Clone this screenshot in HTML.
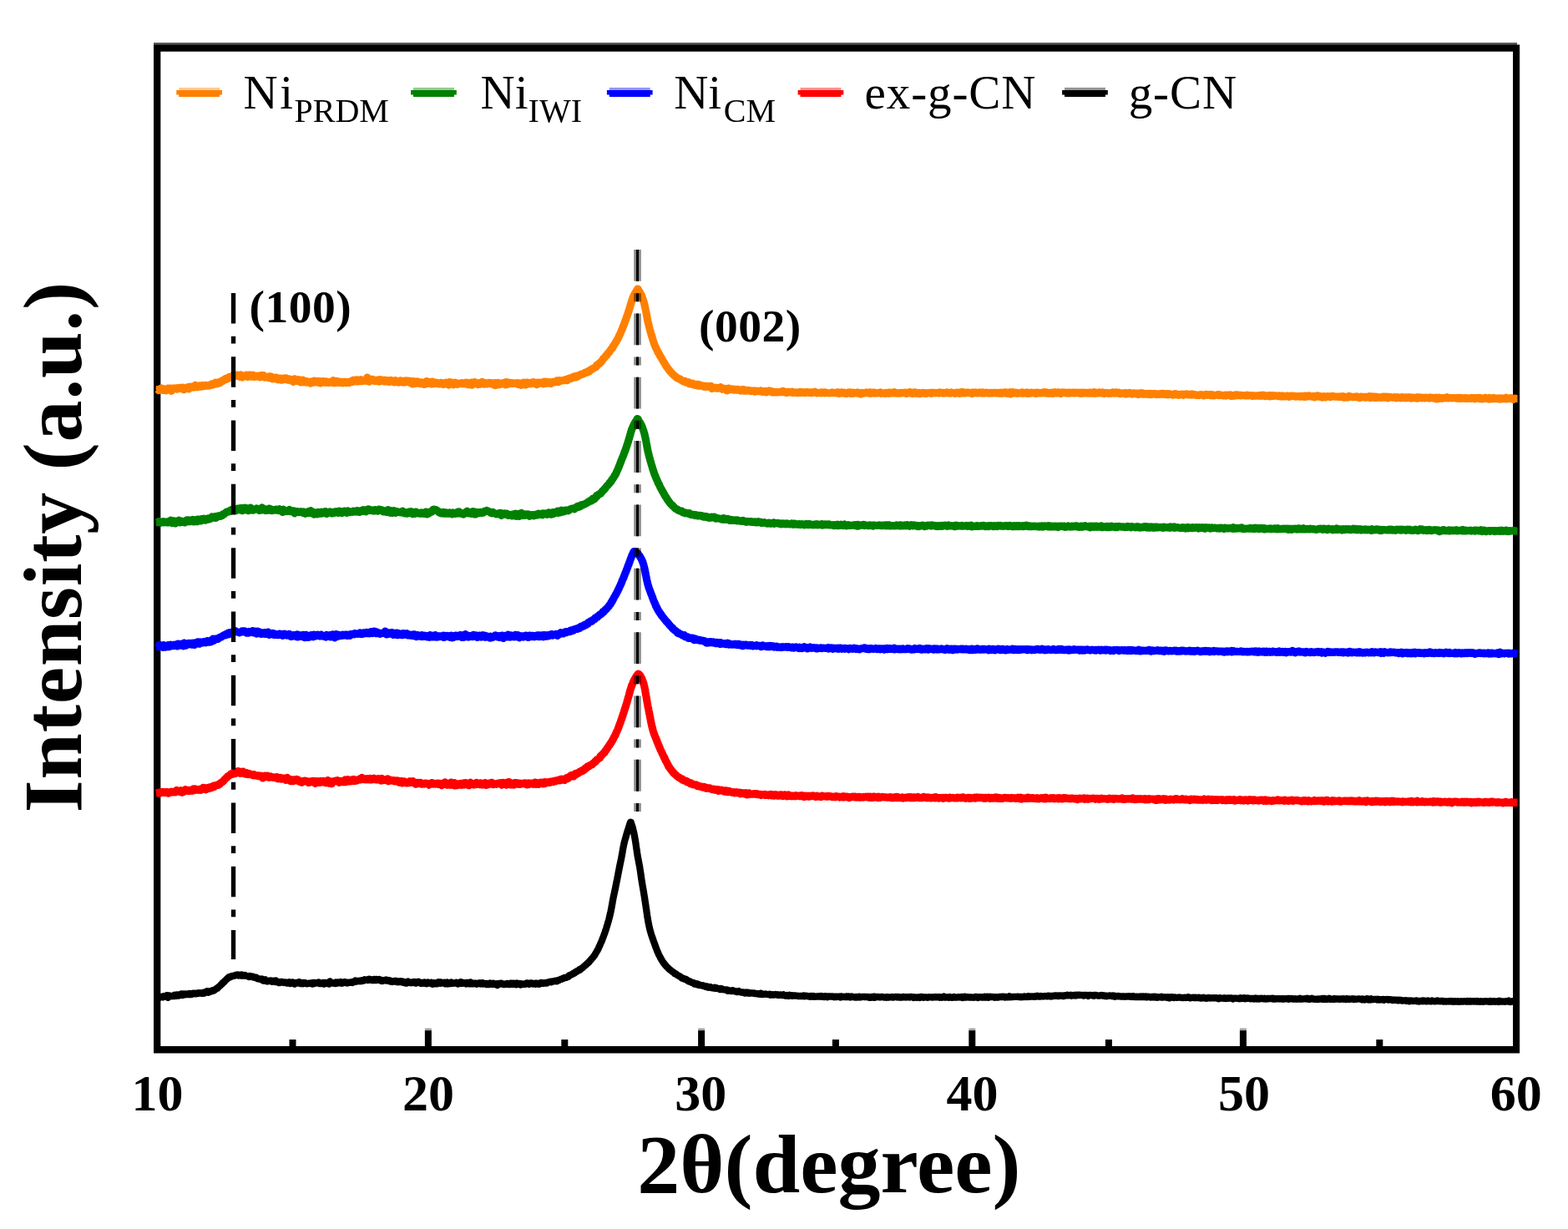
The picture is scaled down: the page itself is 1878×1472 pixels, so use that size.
<!DOCTYPE html>
<html lang="en"><head><meta charset="utf-8"><title>XRD patterns</title>
<style>
html,body{margin:0;padding:0;background:#fff;}
body{width:1878px;height:1472px;overflow:hidden;}
svg{display:block;}
text{font-family:"Liberation Serif","Times New Roman",serif;fill:#000;}
.b{font-weight:bold;}
.lg{font-size:57px;}
.sub{font-size:40px;}
.tk{font-size:62px;font-weight:bold;text-anchor:middle;}
.ann{font-size:55.5px;font-weight:bold;letter-spacing:0.5px;}
.ttl{font-size:100px;font-weight:bold;}
</style></head><body>
<svg width="1878" height="1472" viewBox="0 0 1878 1472" role="img" aria-label="XRD patterns of Ni PRDM, Ni IWI, Ni CM, ex-g-CN and g-CN">
<rect x="0" y="0" width="1878" height="1472" fill="#ffffff"/>
<rect x="184.05" y="51.0" width="1633" height="3" fill="#5a5a5a"/>
<path fill="#000" fill-rule="evenodd" d="M184.05,53.6H1820.1V1261.4H184.05Z M192.35,61.7V1253.0H1812.0V61.7Z"/>
<g fill="#000">
<rect x="346.50" y="1245.1" width="8.0" height="9"/>
<rect x="508.85" y="1231.5" width="8.0" height="3.0" fill-opacity="0.35"/>
<rect x="508.85" y="1234.2" width="8.0" height="20"/>
<rect x="672.30" y="1245.1" width="8.0" height="9"/>
<rect x="836.10" y="1231.5" width="8.0" height="3.0" fill-opacity="0.35"/>
<rect x="836.10" y="1234.2" width="8.0" height="20"/>
<rect x="996.90" y="1245.1" width="8.0" height="9"/>
<rect x="1160.30" y="1231.5" width="8.0" height="3.0" fill-opacity="0.35"/>
<rect x="1160.30" y="1234.2" width="8.0" height="20"/>
<rect x="1323.90" y="1245.1" width="8.0" height="9"/>
<rect x="1484.90" y="1231.5" width="8.0" height="3.0" fill-opacity="0.35"/>
<rect x="1484.90" y="1234.2" width="8.0" height="20"/>
<rect x="1648.30" y="1245.1" width="8.0" height="9"/>
</g>
<text class="tk" x="188.5" y="1329.6">10</text>
<text class="tk" x="513.0" y="1329.6">20</text>
<text class="tk" x="839.3" y="1329.6">30</text>
<text class="tk" x="1164.5" y="1329.6">40</text>
<text class="tk" x="1490.0" y="1329.6">50</text>
<text class="tk" x="1815.8" y="1329.6">60</text>
<g fill="none" stroke-linejoin="round" stroke-linecap="butt">
<path d="M186.9,1194.5 L187.7,1194.4 L188.5,1194.4 L189.3,1194.1 L190.1,1193.9 L190.9,1193.6 L191.7,1194.5 L192.5,1194.1 L193.3,1194.2 L194.1,1193.7 L194.9,1194.3 L195.7,1193.3 L196.5,1193.8 L197.3,1193.6 L198.1,1193.4 L198.8,1192.8 L199.6,1192.2 L200.4,1192.1 L201.2,1194.9 L202.0,1192.9 L202.8,1192.4 L203.6,1192.7 L204.4,1192.9 L205.2,1192.8 L206.0,1193.2 L206.8,1192.8 L207.6,1192.8 L208.4,1191.9 L209.2,1193.1 L210.0,1191.9 L210.8,1192.3 L211.6,1192.8 L212.4,1191.3 L213.2,1192.1 L214.0,1192.7 L214.8,1191.4 L215.6,1190.9 L216.4,1191.2 L217.2,1191.8 L218.0,1190.3 L218.8,1192.0 L219.6,1191.6 L220.4,1190.3 L221.1,1191.0 L221.9,1191.3 L222.7,1190.6 L223.5,1191.2 L224.3,1191.1 L225.1,1190.4 L225.9,1190.7 L226.7,1190.1 L227.5,1191.1 L228.3,1190.9 L229.1,1191.1 L229.9,1189.9 L230.7,1190.2 L231.5,1189.7 L232.3,1189.7 L233.1,1190.2 L233.9,1189.7 L234.7,1190.3 L235.5,1189.8 L236.3,1190.1 L237.1,1190.0 L237.9,1189.2 L238.7,1189.6 L239.5,1189.2 L240.3,1189.5 L241.1,1189.9 L241.8,1189.7 L242.6,1188.8 L243.4,1189.6 L244.2,1189.0 L245.0,1189.6 L245.8,1188.2 L246.6,1188.6 L247.4,1188.3 L248.2,1187.1 L249.0,1187.9 L249.7,1188.8 L250.5,1188.3 L251.3,1187.2 L252.1,1187.6 L252.9,1187.4 L253.6,1187.0 L254.4,1186.3 L255.2,1186.8 L255.9,1186.6 L256.6,1186.1 L257.3,1185.2 L258.0,1184.9 L258.6,1184.8 L259.3,1183.9 L259.9,1183.8 L260.5,1183.7 L261.1,1182.6 L261.7,1182.1 L262.3,1181.9 L262.9,1181.2 L263.5,1180.6 L264.1,1180.2 L264.7,1179.4 L265.3,1178.5 L265.9,1178.5 L266.5,1177.9 L267.1,1176.7 L267.7,1176.7 L268.2,1176.2 L268.8,1175.7 L269.3,1174.9 L269.9,1174.3 L270.4,1174.0 L271.0,1173.4 L271.6,1172.5 L272.2,1172.4 L272.8,1171.5 L273.4,1171.0 L274.1,1170.3 L274.8,1170.1 L275.6,1170.5 L276.3,1170.2 L277.1,1169.3 L277.8,1169.1 L278.6,1168.9 L279.3,1168.9 L280.1,1168.8 L280.9,1168.5 L281.7,1168.4 L282.5,1167.8 L283.2,1168.1 L284.0,1168.2 L284.8,1167.4 L285.6,1168.4 L286.4,1167.9 L287.2,1167.7 L288.0,1168.1 L288.8,1168.5 L289.6,1167.4 L290.4,1168.5 L291.2,1167.9 L292.0,1168.4 L292.8,1168.6 L293.6,1168.1 L294.4,1168.7 L295.2,1168.9 L296.0,1169.0 L296.8,1169.4 L297.6,1169.3 L298.3,1170.0 L299.1,1169.2 L299.9,1169.9 L300.7,1169.8 L301.5,1169.4 L302.3,1169.5 L303.1,1169.7 L303.8,1170.6 L304.6,1170.2 L305.4,1170.7 L306.1,1171.1 L306.9,1170.8 L307.7,1171.7 L308.4,1172.2 L309.2,1172.4 L310.0,1172.2 L310.7,1172.4 L311.5,1172.7 L312.3,1173.1 L313.0,1173.4 L313.8,1172.5 L314.6,1173.1 L315.4,1174.7 L316.2,1173.5 L316.9,1173.9 L317.7,1173.4 L318.5,1174.5 L319.3,1175.3 L320.1,1174.7 L320.9,1175.3 L321.7,1175.0 L322.5,1174.6 L323.3,1174.7 L324.1,1174.4 L324.9,1174.7 L325.7,1175.8 L326.5,1175.4 L327.3,1175.6 L328.1,1174.8 L328.8,1175.4 L329.6,1176.0 L330.4,1174.5 L331.2,1176.1 L332.0,1176.3 L332.8,1176.0 L333.6,1177.1 L334.4,1176.4 L335.2,1177.0 L336.0,1176.5 L336.8,1175.9 L337.6,1175.9 L338.4,1176.7 L339.2,1176.5 L340.0,1177.0 L340.8,1176.6 L341.6,1176.4 L342.4,1176.9 L343.2,1177.5 L344.0,1176.6 L344.8,1177.4 L345.6,1177.0 L346.4,1176.4 L347.2,1177.3 L348.0,1178.2 L348.8,1176.6 L349.6,1177.0 L350.4,1176.4 L351.2,1177.7 L352.0,1177.3 L352.8,1178.7 L353.6,1177.4 L354.4,1177.0 L355.2,1177.6 L356.0,1177.0 L356.8,1177.4 L357.6,1177.4 L358.4,1176.1 L359.2,1176.9 L360.0,1178.2 L360.8,1176.9 L361.6,1177.2 L362.4,1178.2 L363.2,1177.8 L364.0,1177.0 L364.8,1177.6 L365.6,1177.3 L366.4,1178.1 L367.2,1178.1 L368.0,1178.4 L368.8,1178.0 L369.6,1177.6 L370.4,1177.9 L371.2,1177.7 L372.0,1177.5 L372.8,1177.8 L373.6,1177.4 L374.4,1178.6 L375.2,1177.4 L376.0,1176.8 L376.8,1178.0 L377.6,1177.3 L378.4,1177.1 L379.2,1177.3 L380.0,1177.4 L380.8,1176.7 L381.6,1176.5 L382.4,1178.0 L383.2,1177.3 L384.0,1178.1 L384.8,1177.9 L385.6,1178.0 L386.4,1177.9 L387.2,1176.9 L388.0,1178.7 L388.8,1177.2 L389.6,1176.9 L390.4,1177.7 L391.2,1177.1 L392.0,1177.5 L392.8,1177.6 L393.6,1178.5 L394.4,1178.5 L395.2,1175.3 L396.0,1177.3 L396.8,1176.9 L397.6,1177.4 L398.4,1177.2 L399.2,1177.5 L400.0,1177.8 L400.8,1177.5 L401.6,1176.5 L402.4,1178.1 L403.2,1177.5 L404.0,1176.4 L404.8,1176.7 L405.6,1177.2 L406.4,1177.4 L407.2,1176.4 L408.0,1176.0 L408.8,1177.6 L409.6,1177.8 L410.4,1177.4 L411.2,1176.7 L412.0,1176.7 L412.8,1176.1 L413.6,1177.1 L414.4,1177.2 L415.2,1176.8 L416.0,1177.4 L416.8,1176.8 L417.6,1177.1 L418.4,1176.6 L419.2,1176.9 L420.0,1176.6 L420.7,1176.4 L421.5,1176.1 L422.3,1177.0 L423.1,1176.0 L423.9,1175.8 L424.7,1176.0 L425.5,1174.5 L426.3,1175.7 L427.1,1175.6 L427.9,1175.2 L428.6,1174.9 L429.4,1174.9 L430.2,1175.3 L431.0,1174.7 L431.8,1175.0 L432.6,1175.2 L433.4,1174.1 L434.2,1174.1 L435.0,1174.4 L435.7,1174.6 L436.5,1173.2 L437.3,1173.9 L438.1,1173.6 L438.9,1173.5 L439.7,1173.4 L440.5,1174.0 L441.3,1173.5 L442.1,1172.7 L442.9,1173.7 L443.7,1173.3 L444.5,1173.2 L445.3,1173.5 L446.1,1174.2 L446.9,1173.6 L447.7,1174.0 L448.5,1172.8 L449.3,1173.5 L450.1,1174.2 L450.9,1172.9 L451.7,1173.6 L452.5,1173.8 L453.3,1173.8 L454.1,1173.0 L454.9,1173.9 L455.7,1174.3 L456.5,1174.7 L457.3,1173.8 L458.1,1175.0 L458.9,1174.8 L459.7,1174.2 L460.5,1174.4 L461.3,1174.2 L462.1,1173.6 L462.9,1174.6 L463.7,1174.7 L464.5,1174.1 L465.3,1174.8 L466.1,1174.4 L466.9,1175.5 L467.7,1174.6 L468.5,1175.0 L469.3,1176.0 L470.1,1175.3 L470.9,1175.6 L471.7,1175.7 L472.5,1175.1 L473.3,1174.7 L474.0,1175.4 L474.8,1176.0 L475.6,1175.2 L476.4,1175.3 L477.2,1176.3 L478.0,1175.6 L478.8,1175.8 L479.6,1175.1 L480.4,1176.1 L481.2,1176.4 L482.0,1175.3 L482.8,1176.9 L483.6,1176.3 L484.4,1176.3 L485.2,1176.2 L486.0,1177.6 L486.8,1177.7 L487.6,1176.5 L488.4,1175.5 L489.2,1176.7 L490.0,1176.1 L490.8,1177.0 L491.6,1176.7 L492.4,1177.2 L493.2,1176.7 L494.0,1177.1 L494.8,1176.0 L495.6,1177.0 L496.4,1176.0 L497.2,1177.5 L498.0,1177.7 L498.8,1177.5 L499.6,1176.1 L500.4,1176.9 L501.2,1175.9 L502.0,1176.5 L502.8,1176.6 L503.6,1177.5 L504.4,1176.8 L505.2,1177.8 L506.0,1177.0 L506.8,1177.7 L507.6,1177.2 L508.4,1176.5 L509.2,1177.2 L510.0,1178.0 L510.8,1178.2 L511.6,1176.9 L512.4,1176.5 L513.2,1177.6 L514.0,1177.0 L514.8,1177.1 L515.6,1177.6 L516.4,1176.7 L517.2,1178.5 L518.0,1178.9 L518.8,1177.1 L519.6,1177.8 L520.4,1178.4 L521.2,1178.3 L522.0,1177.3 L522.8,1177.6 L523.6,1178.4 L524.4,1177.1 L525.2,1176.1 L526.0,1177.0 L526.8,1177.2 L527.6,1177.8 L528.4,1176.3 L529.2,1177.4 L530.0,1177.5 L530.8,1177.3 L531.6,1177.2 L532.4,1176.6 L533.2,1178.4 L534.0,1177.3 L534.8,1177.8 L535.6,1176.5 L536.4,1178.5 L537.2,1178.1 L538.0,1177.8 L538.8,1177.6 L539.6,1178.1 L540.4,1176.5 L541.2,1177.3 L542.0,1177.5 L542.8,1177.8 L543.6,1177.6 L544.4,1177.3 L545.2,1177.5 L546.0,1176.8 L546.8,1176.7 L547.6,1177.7 L548.4,1178.6 L549.2,1177.4 L550.0,1177.8 L550.8,1176.9 L551.6,1176.2 L552.4,1178.0 L553.2,1176.4 L554.0,1177.8 L554.8,1177.5 L555.6,1177.2 L556.4,1177.3 L557.2,1177.8 L558.0,1178.5 L558.8,1177.0 L559.6,1178.2 L560.4,1176.9 L561.2,1178.2 L562.0,1178.0 L562.8,1178.4 L563.6,1176.3 L564.4,1178.2 L565.2,1178.4 L566.0,1177.5 L566.8,1178.4 L567.6,1178.2 L568.4,1177.6 L569.2,1177.6 L570.0,1177.7 L570.8,1178.8 L571.6,1178.2 L572.4,1177.9 L573.2,1178.1 L574.0,1177.4 L574.8,1177.2 L575.6,1178.4 L576.4,1178.1 L577.2,1178.4 L578.0,1177.1 L578.8,1178.6 L579.6,1178.1 L580.4,1178.3 L581.2,1178.3 L582.0,1177.8 L582.8,1179.2 L583.6,1178.1 L584.4,1178.2 L585.2,1179.2 L586.0,1178.1 L586.8,1177.6 L587.6,1178.3 L588.4,1178.7 L589.2,1178.9 L590.0,1178.4 L590.8,1177.6 L591.6,1178.8 L592.4,1179.0 L593.2,1178.4 L594.0,1179.0 L594.8,1178.5 L595.6,1180.0 L596.4,1178.0 L597.2,1178.7 L598.0,1178.9 L598.8,1178.0 L599.6,1178.3 L600.4,1177.6 L601.2,1177.9 L602.0,1178.7 L602.8,1179.1 L603.6,1178.9 L604.4,1179.1 L605.2,1178.6 L606.0,1178.2 L606.8,1178.7 L607.6,1177.9 L608.4,1178.2 L609.2,1178.3 L610.0,1179.1 L610.8,1178.9 L611.6,1177.6 L612.4,1178.5 L613.2,1177.7 L614.0,1179.0 L614.8,1178.3 L615.6,1177.6 L616.4,1178.6 L617.2,1178.8 L618.0,1179.4 L618.8,1177.5 L619.6,1178.8 L620.4,1178.8 L621.2,1177.8 L622.0,1178.6 L622.8,1178.7 L623.6,1179.5 L624.4,1178.3 L625.2,1178.7 L626.0,1178.7 L626.8,1178.8 L627.6,1178.6 L628.4,1178.6 L629.2,1178.9 L630.0,1178.2 L630.8,1177.3 L631.6,1177.3 L632.4,1178.2 L633.2,1177.9 L634.0,1178.8 L634.8,1178.2 L635.6,1177.4 L636.4,1177.3 L637.2,1177.7 L638.0,1178.6 L638.8,1178.3 L639.6,1177.9 L640.4,1177.9 L641.2,1178.6 L642.0,1177.7 L642.8,1177.6 L643.6,1178.7 L644.4,1178.0 L645.2,1178.1 L646.0,1178.8 L646.8,1178.3 L647.6,1176.9 L648.4,1177.5 L649.2,1177.2 L650.0,1177.9 L650.8,1177.8 L651.5,1177.4 L652.3,1177.1 L653.1,1177.2 L653.9,1177.7 L654.7,1177.7 L655.5,1176.6 L656.3,1176.9 L657.1,1176.2 L657.9,1176.2 L658.7,1175.9 L659.4,1175.6 L660.2,1176.3 L661.0,1175.9 L661.8,1175.3 L662.6,1175.3 L663.4,1175.2 L664.1,1175.3 L664.9,1174.7 L665.7,1175.1 L666.5,1175.3 L667.2,1175.3 L668.0,1174.2 L668.8,1174.1 L669.5,1174.1 L670.3,1173.3 L671.1,1173.2 L671.8,1172.6 L672.6,1172.9 L673.3,1172.3 L674.1,1171.7 L674.8,1171.9 L675.6,1171.6 L676.3,1170.8 L677.1,1170.8 L677.8,1170.9 L678.5,1170.8 L679.3,1170.3 L680.0,1170.2 L680.7,1169.8 L681.4,1168.4 L682.1,1168.3 L682.8,1168.1 L683.6,1167.8 L684.3,1167.3 L685.0,1166.9 L685.7,1166.9 L686.3,1165.9 L687.0,1165.9 L687.7,1165.7 L688.4,1165.4 L689.1,1164.2 L689.8,1164.3 L690.5,1163.4 L691.2,1163.6 L691.8,1162.6 L692.5,1162.7 L693.2,1162.1 L693.9,1161.2 L694.5,1161.8 L695.2,1161.0 L695.8,1160.4 L696.5,1160.0 L697.1,1159.5 L697.8,1159.2 L698.4,1158.4 L699.0,1157.9 L699.7,1157.2 L700.3,1156.6 L700.9,1156.6 L701.5,1155.9 L702.1,1155.1 L702.7,1154.9 L703.3,1153.9 L703.8,1153.8 L704.4,1153.2 L705.0,1152.7 L705.5,1152.2 L706.1,1151.1 L706.6,1150.8 L707.2,1150.2 L707.7,1149.6 L708.2,1148.8 L708.7,1148.4 L709.3,1147.5 L709.8,1147.3 L710.2,1146.7 L710.7,1145.9 L711.2,1145.3 L711.7,1144.8 L712.1,1143.9 L712.6,1143.5 L713.0,1142.5 L713.4,1141.9 L713.8,1141.2 L714.3,1140.5 L714.7,1139.7 L715.0,1139.1 L715.4,1138.6 L715.8,1137.6 L716.2,1137.3 L716.5,1136.5 L716.9,1135.6 L717.2,1134.7 L717.6,1134.3 L717.9,1133.4 L718.2,1132.6 L718.6,1131.8 L718.9,1131.2 L719.2,1130.4 L719.5,1129.6 L719.8,1129.0 L720.1,1128.3 L720.5,1127.7 L720.8,1126.8 L721.1,1126.2 L721.3,1125.5 L721.6,1124.6 L721.9,1123.8 L722.2,1123.0 L722.5,1122.4 L722.8,1121.7 L723.0,1120.8 L723.3,1120.1 L723.6,1119.2 L723.9,1118.7 L724.1,1117.8 L724.4,1117.1 L724.6,1116.5 L724.9,1115.5 L725.2,1114.8 L725.4,1114.0 L725.7,1113.6 L725.9,1112.7 L726.2,1111.8 L726.4,1111.0 L726.6,1110.2 L726.9,1109.4 L727.1,1108.6 L727.3,1107.9 L727.6,1107.1 L727.8,1106.4 L728.0,1105.6 L728.2,1104.9 L728.5,1104.2 L728.7,1103.3 L728.9,1102.7 L729.1,1101.8 L729.3,1101.1 L729.5,1100.3 L729.7,1099.5 L729.9,1098.7 L730.1,1098.0 L730.3,1097.2 L730.5,1096.5 L730.6,1095.5 L730.8,1094.7 L731.0,1094.0 L731.2,1093.2 L731.4,1092.4 L731.5,1091.7 L731.7,1090.8 L731.8,1090.1 L732.0,1089.4 L732.2,1088.5 L732.3,1087.7 L732.5,1087.0 L732.6,1086.3 L732.7,1085.3 L732.9,1084.5 L733.0,1083.8 L733.2,1083.0 L733.3,1082.2 L733.4,1081.5 L733.6,1080.6 L733.7,1079.9 L733.8,1079.1 L734.0,1078.4 L734.1,1077.6 L734.3,1076.8 L734.4,1075.9 L734.6,1075.2 L734.7,1074.4 L734.9,1073.6 L735.1,1072.8 L735.2,1071.9 L735.4,1071.3 L735.6,1070.4 L735.7,1069.7 L735.9,1068.9 L736.1,1068.1 L736.3,1067.4 L736.4,1066.5 L736.6,1065.7 L736.8,1065.0 L736.9,1064.3 L737.1,1063.3 L737.3,1062.6 L737.4,1061.8 L737.6,1061.0 L737.7,1060.2 L737.9,1059.5 L738.0,1058.6 L738.2,1057.9 L738.3,1057.1 L738.5,1056.3 L738.7,1055.6 L738.8,1054.8 L739.0,1054.0 L739.1,1053.2 L739.3,1052.4 L739.4,1051.7 L739.6,1050.8 L739.7,1050.0 L739.9,1049.3 L740.0,1048.5 L740.2,1047.7 L740.3,1047.0 L740.5,1046.1 L740.6,1045.3 L740.8,1044.7 L740.9,1043.7 L741.1,1043.1 L741.2,1042.2 L741.4,1041.4 L741.6,1040.5 L741.7,1039.8 L741.9,1039.0 L742.0,1038.2 L742.2,1037.5 L742.4,1036.6 L742.5,1035.9 L742.7,1035.2 L742.8,1034.3 L743.0,1033.5 L743.2,1032.7 L743.3,1031.9 L743.5,1031.2 L743.7,1030.5 L743.8,1029.6 L744.0,1028.8 L744.1,1028.0 L744.3,1027.4 L744.4,1026.4 L744.6,1025.7 L744.7,1025.0 L744.9,1024.1 L745.0,1023.5 L745.1,1022.7 L745.3,1021.8 L745.4,1021.1 L745.5,1020.3 L745.7,1019.4 L745.8,1018.7 L745.9,1017.8 L746.1,1017.0 L746.2,1016.3 L746.4,1015.5 L746.5,1014.8 L746.7,1014.0 L746.8,1013.1 L747.0,1012.4 L747.2,1011.6 L747.3,1010.7 L747.5,1010.0 L747.7,1009.3 L747.9,1008.3 L748.1,1007.8 L748.3,1006.8 L748.5,1006.1 L748.7,1005.3 L748.9,1004.7 L749.2,1003.7 L749.4,1003.1 L749.6,1002.2 L749.8,1001.6 L750.1,1000.8 L750.3,999.8 L750.5,999.3 L750.7,998.4 L751.0,997.7 L751.2,996.9 L751.4,996.3 L751.7,995.4 L751.9,994.7 L752.1,993.8 L752.4,993.2 L752.6,992.2 L752.8,991.6 L753.1,990.7 L753.3,990.0 L753.6,989.3 L753.8,988.6 L754.1,987.9 L754.3,986.9 L754.6,986.2 L754.8,985.6 L755.1,984.7 L755.4,985.0 L755.7,985.0 L755.9,985.9 L756.2,986.8 L756.5,987.4 L756.7,988.3 L757.0,989.1 L757.2,989.5 L757.5,990.4 L757.7,991.2 L757.9,992.0 L758.1,992.8 L758.3,993.6 L758.5,994.3 L758.7,995.1 L758.9,995.8 L759.0,996.7 L759.2,997.5 L759.4,998.3 L759.5,999.0 L759.7,999.6 L759.8,1000.6 L760.0,1001.4 L760.1,1002.2 L760.3,1002.9 L760.4,1003.7 L760.5,1004.5 L760.7,1005.3 L760.8,1006.1 L760.9,1006.9 L761.1,1007.7 L761.2,1008.4 L761.3,1009.3 L761.4,1010.1 L761.6,1010.9 L761.7,1011.6 L761.8,1012.4 L761.9,1013.3 L762.0,1014.0 L762.1,1014.9 L762.2,1015.6 L762.3,1016.4 L762.5,1017.1 L762.6,1018.0 L762.7,1018.8 L762.8,1019.6 L762.9,1020.4 L763.0,1021.1 L763.1,1021.9 L763.3,1022.7 L763.4,1023.5 L763.5,1024.4 L763.6,1025.1 L763.8,1025.9 L763.9,1026.7 L764.1,1027.5 L764.2,1028.3 L764.4,1028.9 L764.5,1029.8 L764.7,1030.5 L764.8,1031.4 L765.0,1032.1 L765.1,1032.9 L765.3,1033.8 L765.4,1034.6 L765.6,1035.3 L765.7,1036.2 L765.9,1036.9 L766.0,1037.6 L766.2,1038.5 L766.3,1039.3 L766.4,1040.0 L766.5,1040.7 L766.7,1041.6 L766.8,1042.4 L766.9,1043.2 L767.0,1044.0 L767.1,1044.8 L767.3,1045.6 L767.4,1046.3 L767.5,1047.2 L767.6,1048.0 L767.7,1048.7 L767.8,1049.5 L767.9,1050.4 L768.0,1051.1 L768.2,1051.9 L768.3,1052.6 L768.4,1053.5 L768.5,1054.4 L768.7,1055.1 L768.8,1055.8 L768.9,1056.7 L769.0,1057.5 L769.2,1058.2 L769.3,1059.0 L769.4,1059.7 L769.6,1060.6 L769.7,1061.4 L769.8,1062.2 L770.0,1063.0 L770.1,1063.7 L770.3,1064.5 L770.4,1065.3 L770.5,1066.2 L770.7,1067.0 L770.8,1067.7 L770.9,1068.4 L771.0,1069.2 L771.2,1070.1 L771.3,1070.8 L771.4,1071.7 L771.6,1072.5 L771.7,1073.3 L771.8,1074.1 L771.9,1074.8 L772.1,1075.6 L772.2,1076.3 L772.3,1077.3 L772.4,1078.0 L772.5,1078.8 L772.7,1079.6 L772.8,1080.3 L772.9,1081.1 L773.0,1081.9 L773.1,1082.7 L773.3,1083.5 L773.4,1084.3 L773.5,1085.1 L773.6,1085.9 L773.7,1086.7 L773.8,1087.5 L774.0,1088.2 L774.1,1089.0 L774.2,1089.7 L774.3,1090.7 L774.4,1091.4 L774.5,1092.3 L774.6,1092.9 L774.8,1093.8 L774.9,1094.6 L775.0,1095.5 L775.1,1096.2 L775.2,1096.9 L775.3,1097.8 L775.5,1098.6 L775.6,1099.3 L775.7,1100.1 L775.9,1100.9 L776.0,1101.7 L776.1,1102.5 L776.3,1103.2 L776.4,1104.0 L776.5,1104.8 L776.7,1105.6 L776.9,1106.5 L777.0,1107.2 L777.2,1107.9 L777.3,1108.7 L777.5,1109.6 L777.7,1110.3 L777.9,1111.0 L778.0,1111.9 L778.2,1112.8 L778.4,1113.3 L778.6,1114.1 L778.8,1115.0 L779.0,1115.7 L779.3,1116.5 L779.5,1117.2 L779.7,1118.1 L779.9,1118.8 L780.2,1119.5 L780.4,1120.4 L780.7,1121.1 L780.9,1121.9 L781.2,1122.6 L781.5,1123.6 L781.7,1124.2 L782.0,1124.8 L782.3,1125.6 L782.5,1126.4 L782.8,1127.2 L783.1,1128.0 L783.3,1128.7 L783.6,1129.4 L783.9,1130.2 L784.2,1130.9 L784.4,1131.7 L784.7,1132.5 L785.0,1133.0 L785.2,1134.0 L785.5,1134.7 L785.8,1135.4 L786.1,1136.0 L786.4,1136.9 L786.7,1137.6 L786.9,1138.5 L787.2,1139.2 L787.5,1139.9 L787.9,1140.7 L788.2,1141.4 L788.5,1142.0 L788.8,1142.8 L789.2,1143.6 L789.5,1144.5 L789.9,1144.9 L790.2,1145.5 L790.6,1146.3 L791.0,1147.1 L791.4,1147.9 L791.8,1148.5 L792.2,1149.3 L792.6,1150.0 L793.0,1150.5 L793.5,1151.4 L793.9,1152.0 L794.3,1152.5 L794.8,1153.4 L795.3,1154.0 L795.8,1154.5 L796.2,1155.3 L796.7,1155.7 L797.3,1156.3 L797.8,1157.1 L798.3,1157.6 L798.9,1158.1 L799.4,1158.6 L800.0,1159.1 L800.6,1159.9 L801.1,1160.4 L801.7,1161.0 L802.3,1161.3 L802.9,1161.9 L803.6,1162.4 L804.2,1162.9 L804.8,1163.4 L805.5,1164.0 L806.1,1164.1 L806.8,1164.7 L807.4,1165.2 L808.1,1166.1 L808.7,1165.9 L809.4,1166.4 L810.1,1167.2 L810.8,1167.2 L811.5,1168.1 L812.1,1168.4 L812.8,1168.8 L813.5,1169.1 L814.2,1169.4 L814.9,1169.9 L815.6,1170.4 L816.3,1171.4 L817.0,1171.7 L817.7,1171.4 L818.5,1172.1 L819.2,1172.6 L819.9,1172.8 L820.6,1172.8 L821.3,1172.7 L822.0,1173.2 L822.8,1173.6 L823.5,1174.6 L824.2,1175.0 L824.9,1175.4 L825.7,1175.1 L826.4,1175.9 L827.1,1175.9 L827.9,1176.5 L828.6,1176.9 L829.4,1176.9 L830.1,1176.8 L830.8,1177.5 L831.6,1178.4 L832.4,1177.7 L833.1,1178.3 L833.9,1178.3 L834.6,1179.2 L835.4,1178.6 L836.2,1179.4 L836.9,1179.1 L837.7,1180.1 L838.5,1180.1 L839.3,1180.1 L840.0,1180.2 L840.8,1180.1 L841.6,1180.7 L842.4,1180.5 L843.1,1180.7 L843.9,1181.3 L844.7,1181.7 L845.5,1181.3 L846.3,1181.5 L847.1,1182.3 L847.8,1181.7 L848.6,1182.7 L849.4,1182.4 L850.2,1182.2 L851.0,1182.2 L851.8,1183.0 L852.6,1183.0 L853.4,1183.3 L854.1,1183.3 L854.9,1183.6 L855.7,1182.7 L856.5,1183.8 L857.3,1183.5 L858.1,1183.2 L858.9,1183.9 L859.7,1183.9 L860.5,1184.0 L861.2,1184.2 L862.0,1185.1 L862.8,1184.0 L863.6,1184.4 L864.4,1184.1 L865.2,1185.2 L866.0,1185.1 L866.8,1185.3 L867.6,1185.4 L868.3,1185.5 L869.1,1185.6 L869.9,1185.3 L870.7,1185.3 L871.5,1186.8 L872.3,1185.8 L873.1,1186.6 L873.9,1186.3 L874.7,1186.6 L875.5,1187.1 L876.3,1186.5 L877.1,1186.8 L877.8,1186.3 L878.6,1186.8 L879.4,1186.9 L880.2,1187.4 L881.0,1187.2 L881.8,1187.4 L882.6,1188.1 L883.4,1187.9 L884.2,1187.8 L885.0,1187.2 L885.8,1188.1 L886.6,1188.1 L887.4,1188.5 L888.2,1188.3 L889.0,1188.6 L889.8,1188.8 L890.5,1188.5 L891.3,1188.9 L892.1,1189.6 L892.9,1188.6 L893.7,1188.5 L894.5,1188.7 L895.3,1189.4 L896.1,1188.7 L896.9,1189.0 L897.7,1189.7 L898.5,1189.4 L899.3,1189.3 L900.1,1189.5 L900.9,1189.4 L901.7,1189.3 L902.5,1189.8 L903.3,1189.4 L904.1,1190.1 L904.9,1190.1 L905.7,1190.0 L906.5,1190.3 L907.3,1190.5 L908.1,1190.6 L908.9,1190.1 L909.7,1190.6 L910.5,1190.9 L911.3,1189.6 L912.1,1190.3 L912.8,1190.4 L913.6,1191.0 L914.4,1190.8 L915.2,1190.8 L916.0,1190.7 L916.8,1190.4 L917.6,1190.8 L918.4,1190.8 L919.2,1190.8 L920.0,1191.1 L920.8,1191.1 L921.6,1190.7 L922.4,1191.6 L923.2,1191.0 L924.0,1191.5 L924.8,1191.2 L925.6,1191.6 L926.4,1191.1 L927.2,1191.5 L928.0,1191.3 L928.8,1190.9 L929.6,1191.4 L930.4,1191.7 L931.2,1191.3 L932.0,1192.0 L932.8,1191.6 L933.6,1191.9 L934.4,1191.4 L935.2,1191.6 L936.0,1191.6 L936.8,1192.2 L937.6,1192.2 L938.4,1191.4 L939.2,1192.1 L940.0,1192.4 L940.8,1192.6 L941.6,1192.1 L942.4,1192.0 L943.2,1192.8 L944.0,1192.2 L944.8,1192.8 L945.6,1191.9 L946.4,1192.5 L947.2,1192.4 L948.0,1192.1 L948.8,1192.8 L949.6,1192.4 L950.4,1192.6 L951.2,1192.4 L952.0,1192.5 L952.8,1192.5 L953.6,1192.6 L954.4,1192.6 L955.2,1192.9 L956.0,1193.2 L956.8,1192.8 L957.6,1193.1 L958.4,1193.0 L959.2,1192.8 L960.0,1193.2 L960.8,1193.0 L961.6,1192.8 L962.4,1192.5 L963.2,1193.3 L964.0,1193.2 L964.8,1193.1 L965.6,1192.6 L966.4,1192.9 L967.2,1193.2 L968.0,1193.3 L968.8,1193.1 L969.6,1193.5 L970.4,1193.8 L971.2,1192.8 L972.0,1193.7 L972.8,1193.6 L973.6,1193.0 L974.4,1193.8 L975.2,1193.5 L976.0,1193.4 L976.8,1193.8 L977.6,1193.4 L978.4,1193.7 L979.2,1193.5 L980.0,1193.1 L980.8,1193.6 L981.6,1193.3 L982.4,1193.5 L983.2,1193.0 L984.0,1193.8 L984.8,1193.2 L985.6,1193.5 L986.4,1193.7 L987.2,1194.1 L988.0,1193.1 L988.8,1193.2 L989.6,1193.8 L990.4,1193.8 L991.2,1194.2 L992.0,1193.5 L992.8,1193.5 L993.6,1193.4 L994.4,1193.6 L995.2,1193.6 L996.0,1193.5 L996.8,1193.5 L997.6,1193.8 L998.4,1193.7 L999.2,1194.2 L1000.0,1193.6 L1000.8,1193.8 L1001.6,1194.0 L1002.4,1193.7 L1003.2,1193.9 L1004.0,1193.7 L1004.8,1193.7 L1005.6,1193.8 L1006.4,1194.4 L1007.2,1193.6 L1008.0,1194.3 L1008.8,1193.7 L1009.6,1193.9 L1010.4,1193.7 L1011.2,1193.9 L1012.0,1194.1 L1012.8,1193.9 L1013.6,1193.6 L1014.4,1193.4 L1015.2,1194.1 L1016.0,1193.8 L1016.8,1193.5 L1017.6,1193.9 L1018.4,1194.4 L1019.2,1193.6 L1020.0,1193.5 L1020.8,1194.0 L1021.6,1194.1 L1022.4,1194.3 L1023.2,1194.3 L1024.0,1194.2 L1024.8,1194.5 L1025.6,1193.9 L1026.4,1194.5 L1027.2,1194.1 L1028.0,1194.0 L1028.8,1194.5 L1029.6,1193.7 L1030.4,1194.3 L1031.2,1194.3 L1032.0,1194.2 L1032.8,1194.0 L1033.6,1193.8 L1034.4,1193.9 L1035.2,1193.8 L1036.0,1194.2 L1036.8,1193.9 L1037.6,1194.2 L1038.4,1194.2 L1039.2,1194.0 L1040.0,1194.3 L1040.8,1194.8 L1041.6,1194.5 L1042.4,1194.2 L1043.2,1194.7 L1044.0,1194.2 L1044.8,1193.8 L1045.6,1193.9 L1046.4,1194.6 L1047.2,1193.7 L1048.0,1194.6 L1048.8,1194.0 L1049.6,1194.4 L1050.4,1194.0 L1051.2,1193.9 L1052.0,1194.2 L1052.8,1194.3 L1053.6,1194.2 L1054.4,1194.4 L1055.2,1194.2 L1056.0,1193.8 L1056.8,1194.0 L1057.6,1194.4 L1058.4,1194.4 L1059.2,1194.7 L1060.0,1194.4 L1060.8,1194.3 L1061.6,1194.7 L1062.4,1194.1 L1063.2,1194.3 L1064.0,1194.6 L1064.8,1194.4 L1065.6,1194.4 L1066.4,1194.4 L1067.2,1194.4 L1068.0,1194.0 L1068.8,1194.3 L1069.6,1194.6 L1070.4,1194.4 L1071.2,1194.1 L1072.0,1194.1 L1072.8,1193.8 L1073.6,1193.8 L1074.4,1194.5 L1075.2,1194.4 L1076.0,1194.0 L1076.8,1194.4 L1077.6,1194.6 L1078.4,1194.3 L1079.2,1194.5 L1080.0,1194.3 L1080.8,1194.5 L1081.6,1193.8 L1082.4,1194.0 L1083.2,1194.4 L1084.0,1194.2 L1084.8,1194.6 L1085.6,1194.2 L1086.4,1194.1 L1087.2,1194.4 L1088.0,1194.2 L1088.8,1194.2 L1089.6,1194.6 L1090.4,1194.1 L1091.2,1193.9 L1092.0,1194.2 L1092.8,1194.3 L1093.6,1194.2 L1094.4,1195.0 L1095.2,1194.5 L1096.0,1194.5 L1096.8,1194.5 L1097.6,1194.9 L1098.4,1194.8 L1099.2,1194.4 L1100.0,1194.5 L1100.8,1194.4 L1101.6,1195.0 L1102.4,1194.6 L1103.2,1193.9 L1104.0,1193.8 L1104.8,1194.2 L1105.6,1194.6 L1106.4,1194.9 L1107.2,1194.5 L1108.0,1194.3 L1108.8,1194.4 L1109.6,1194.4 L1110.4,1194.7 L1111.2,1194.8 L1112.0,1194.4 L1112.8,1194.2 L1113.6,1194.4 L1114.4,1194.4 L1115.2,1194.3 L1116.0,1194.4 L1116.8,1194.7 L1117.6,1194.4 L1118.4,1194.2 L1119.2,1194.4 L1120.0,1194.4 L1120.8,1194.0 L1121.6,1194.4 L1122.4,1194.4 L1123.2,1194.3 L1124.0,1194.1 L1124.8,1194.1 L1125.6,1194.7 L1126.4,1194.2 L1127.2,1194.3 L1128.0,1194.8 L1128.8,1194.4 L1129.6,1194.3 L1130.4,1193.7 L1131.2,1194.7 L1132.0,1194.0 L1132.8,1194.6 L1133.6,1194.3 L1134.4,1194.3 L1135.2,1194.3 L1136.0,1194.8 L1136.8,1194.5 L1137.6,1194.0 L1138.4,1194.5 L1139.2,1194.6 L1140.0,1194.9 L1140.8,1194.8 L1141.6,1194.6 L1142.4,1194.0 L1143.2,1194.3 L1144.0,1194.5 L1144.8,1194.5 L1145.6,1194.7 L1146.4,1194.3 L1147.2,1194.3 L1148.0,1194.1 L1148.8,1194.5 L1149.6,1194.4 L1150.4,1194.5 L1151.2,1194.3 L1152.0,1194.0 L1152.8,1195.0 L1153.6,1194.7 L1154.4,1194.7 L1155.2,1193.7 L1156.0,1194.4 L1156.8,1194.6 L1157.6,1194.0 L1158.4,1194.2 L1159.2,1194.2 L1160.0,1194.3 L1160.8,1194.6 L1161.6,1194.6 L1162.4,1194.4 L1163.2,1194.7 L1164.0,1194.3 L1164.8,1194.6 L1165.6,1194.8 L1166.4,1194.3 L1167.2,1194.6 L1168.0,1194.0 L1168.8,1193.8 L1169.6,1194.0 L1170.4,1194.4 L1171.2,1195.0 L1172.0,1194.8 L1172.8,1194.2 L1173.6,1194.3 L1174.4,1194.1 L1175.2,1194.5 L1176.0,1194.1 L1176.8,1194.6 L1177.6,1194.4 L1178.4,1194.5 L1179.2,1193.9 L1180.0,1194.7 L1180.8,1194.5 L1181.6,1194.6 L1182.4,1193.9 L1183.2,1194.5 L1184.0,1194.8 L1184.8,1193.9 L1185.6,1193.7 L1186.4,1194.1 L1187.2,1194.2 L1188.0,1193.9 L1188.8,1194.0 L1189.6,1194.2 L1190.4,1194.3 L1191.2,1194.8 L1192.0,1194.2 L1192.8,1194.1 L1193.6,1194.6 L1194.4,1194.1 L1195.2,1194.6 L1196.0,1194.4 L1196.8,1194.1 L1197.6,1193.9 L1198.4,1194.1 L1199.2,1193.9 L1200.0,1193.7 L1200.8,1193.8 L1201.6,1194.1 L1202.4,1193.8 L1203.2,1194.5 L1204.0,1194.1 L1204.8,1194.3 L1205.6,1194.0 L1206.4,1194.4 L1207.2,1194.3 L1208.0,1194.0 L1208.8,1193.4 L1209.6,1194.3 L1210.4,1194.3 L1211.2,1193.9 L1212.0,1194.0 L1212.8,1194.2 L1213.6,1193.9 L1214.4,1193.8 L1215.2,1193.9 L1216.0,1193.8 L1216.8,1193.9 L1217.6,1193.9 L1218.4,1193.7 L1219.2,1193.7 L1220.0,1194.1 L1220.8,1194.0 L1221.6,1193.8 L1222.4,1194.0 L1223.2,1194.3 L1224.0,1193.9 L1224.8,1193.8 L1225.6,1194.1 L1226.4,1193.8 L1227.2,1193.5 L1228.0,1193.7 L1228.8,1194.0 L1229.6,1193.9 L1230.4,1193.4 L1231.2,1194.0 L1232.0,1193.3 L1232.8,1193.8 L1233.6,1193.8 L1234.4,1193.5 L1235.2,1193.5 L1236.0,1193.6 L1236.8,1193.3 L1237.6,1193.8 L1238.4,1193.8 L1239.2,1193.9 L1240.0,1193.2 L1240.8,1193.6 L1241.6,1193.3 L1242.4,1192.8 L1243.2,1193.2 L1244.0,1193.6 L1244.8,1193.7 L1245.6,1193.6 L1246.4,1193.0 L1247.2,1193.1 L1248.0,1193.3 L1248.8,1193.4 L1249.6,1193.5 L1250.4,1193.1 L1251.2,1193.0 L1252.0,1193.1 L1252.8,1193.1 L1253.6,1193.3 L1254.4,1193.4 L1255.2,1192.7 L1256.0,1192.7 L1256.8,1192.9 L1257.6,1193.4 L1258.4,1193.0 L1259.2,1193.5 L1260.0,1193.0 L1260.8,1192.8 L1261.6,1193.1 L1262.4,1192.6 L1263.2,1192.9 L1264.0,1192.4 L1264.8,1192.4 L1265.6,1192.9 L1266.4,1192.5 L1267.2,1192.9 L1268.0,1193.1 L1268.8,1192.3 L1269.6,1192.4 L1270.4,1192.5 L1271.2,1192.7 L1272.0,1192.5 L1272.8,1192.9 L1273.6,1193.1 L1274.4,1192.5 L1275.2,1192.7 L1276.0,1192.2 L1276.8,1192.3 L1277.6,1192.3 L1278.4,1191.6 L1279.2,1191.9 L1280.0,1192.3 L1280.8,1192.1 L1281.6,1192.2 L1282.4,1191.7 L1283.2,1192.7 L1284.0,1192.2 L1284.8,1192.4 L1285.6,1191.9 L1286.4,1192.1 L1287.2,1192.3 L1288.0,1192.5 L1288.8,1191.7 L1289.6,1192.2 L1290.4,1191.6 L1291.2,1191.9 L1292.0,1192.1 L1292.8,1191.7 L1293.6,1191.8 L1294.4,1191.8 L1295.2,1192.0 L1296.0,1191.8 L1296.8,1192.2 L1297.6,1192.6 L1298.4,1192.0 L1299.2,1192.0 L1300.0,1192.2 L1300.8,1191.8 L1301.6,1191.8 L1302.4,1192.1 L1303.2,1192.9 L1304.0,1192.2 L1304.8,1191.8 L1305.6,1191.9 L1306.4,1191.9 L1307.2,1192.2 L1308.0,1192.2 L1308.8,1192.6 L1309.6,1192.1 L1310.4,1192.7 L1311.2,1192.1 L1312.0,1191.9 L1312.8,1192.1 L1313.6,1192.2 L1314.4,1192.3 L1315.2,1192.6 L1316.0,1192.7 L1316.8,1192.4 L1317.6,1192.5 L1318.4,1192.4 L1319.2,1192.0 L1320.0,1192.3 L1320.8,1192.6 L1321.6,1192.2 L1322.4,1192.5 L1323.2,1193.1 L1324.0,1193.0 L1324.8,1192.6 L1325.6,1193.2 L1326.4,1192.8 L1327.2,1192.9 L1328.0,1192.9 L1328.8,1192.5 L1329.6,1192.5 L1330.4,1192.7 L1331.2,1192.9 L1332.0,1193.2 L1332.8,1192.5 L1333.6,1192.9 L1334.4,1192.7 L1335.2,1193.8 L1335.9,1193.0 L1336.7,1193.1 L1337.5,1193.1 L1338.3,1193.0 L1339.1,1193.3 L1339.9,1192.9 L1340.7,1193.3 L1341.5,1193.3 L1342.3,1193.5 L1343.1,1193.7 L1343.9,1193.4 L1344.7,1193.4 L1345.5,1193.4 L1346.3,1193.6 L1347.1,1193.8 L1347.9,1193.7 L1348.7,1193.4 L1349.5,1193.3 L1350.3,1193.5 L1351.1,1193.4 L1351.9,1193.2 L1352.7,1193.7 L1353.5,1193.5 L1354.3,1193.8 L1355.1,1193.5 L1355.9,1193.5 L1356.7,1193.9 L1357.5,1193.1 L1358.3,1193.9 L1359.1,1194.0 L1359.9,1194.2 L1360.7,1193.7 L1361.5,1193.7 L1362.3,1194.2 L1363.1,1194.2 L1363.9,1193.7 L1364.7,1194.0 L1365.5,1194.2 L1366.3,1193.6 L1367.1,1194.1 L1367.9,1193.7 L1368.7,1194.0 L1369.5,1193.5 L1370.3,1193.8 L1371.1,1194.1 L1371.9,1194.3 L1372.7,1193.6 L1373.5,1194.1 L1374.3,1194.3 L1375.1,1193.8 L1375.9,1194.2 L1376.7,1193.9 L1377.5,1194.2 L1378.3,1194.5 L1379.1,1193.9 L1379.9,1194.4 L1380.7,1194.5 L1381.5,1193.8 L1382.3,1194.3 L1383.1,1194.5 L1383.9,1193.7 L1384.7,1194.1 L1385.5,1194.2 L1386.3,1194.8 L1387.1,1194.2 L1387.9,1194.2 L1388.7,1194.4 L1389.5,1194.4 L1390.3,1194.5 L1391.1,1193.9 L1391.9,1194.6 L1392.7,1194.5 L1393.5,1194.5 L1394.3,1194.1 L1395.1,1194.4 L1395.9,1194.5 L1396.7,1194.3 L1397.5,1194.8 L1398.3,1194.3 L1399.1,1195.1 L1399.9,1194.6 L1400.7,1195.3 L1401.5,1194.6 L1402.3,1194.2 L1403.1,1194.5 L1403.9,1194.2 L1404.7,1194.3 L1405.5,1195.0 L1406.3,1195.0 L1407.1,1194.4 L1407.9,1194.7 L1408.7,1194.7 L1409.5,1194.9 L1410.3,1194.8 L1411.1,1194.7 L1411.9,1194.7 L1412.7,1194.5 L1413.5,1194.7 L1414.3,1194.8 L1415.1,1194.8 L1415.9,1194.8 L1416.7,1195.1 L1417.5,1194.8 L1418.3,1194.9 L1419.1,1194.6 L1419.9,1195.0 L1420.7,1194.8 L1421.5,1194.8 L1422.3,1194.3 L1423.1,1194.2 L1423.9,1194.9 L1424.7,1195.1 L1425.5,1195.4 L1426.3,1194.9 L1427.1,1194.8 L1427.9,1194.9 L1428.7,1194.7 L1429.5,1194.8 L1430.3,1195.1 L1431.1,1194.8 L1431.9,1194.7 L1432.7,1195.0 L1433.5,1195.2 L1434.3,1195.1 L1435.1,1195.0 L1435.9,1194.7 L1436.7,1195.4 L1437.5,1195.4 L1438.3,1195.7 L1439.1,1195.2 L1439.9,1195.1 L1440.7,1195.4 L1441.5,1194.8 L1442.3,1195.3 L1443.1,1195.1 L1443.9,1195.6 L1444.7,1195.8 L1445.5,1195.5 L1446.3,1195.5 L1447.1,1195.0 L1447.9,1195.0 L1448.7,1195.2 L1449.5,1195.6 L1450.3,1195.2 L1451.1,1195.4 L1451.9,1195.4 L1452.7,1195.1 L1453.5,1195.4 L1454.3,1195.1 L1455.1,1195.3 L1455.9,1195.4 L1456.7,1195.2 L1457.5,1195.3 L1458.3,1195.9 L1459.1,1196.2 L1459.9,1195.4 L1460.7,1195.9 L1461.5,1195.2 L1462.3,1195.7 L1463.1,1195.6 L1463.9,1195.7 L1464.7,1195.6 L1465.5,1195.8 L1466.3,1195.3 L1467.1,1195.8 L1467.9,1196.0 L1468.7,1195.6 L1469.5,1195.5 L1470.3,1195.9 L1471.1,1195.7 L1471.9,1195.4 L1472.7,1195.4 L1473.5,1195.6 L1474.3,1195.5 L1475.1,1195.5 L1475.9,1195.7 L1476.7,1196.4 L1477.5,1195.7 L1478.3,1195.7 L1479.1,1195.6 L1479.9,1195.6 L1480.7,1195.6 L1481.5,1195.9 L1482.3,1195.8 L1483.1,1195.8 L1483.9,1196.2 L1484.7,1195.6 L1485.5,1195.3 L1486.3,1196.1 L1487.1,1196.1 L1487.9,1195.6 L1488.7,1195.9 L1489.5,1196.0 L1490.3,1195.2 L1491.1,1196.3 L1491.9,1196.1 L1492.7,1195.6 L1493.5,1195.8 L1494.3,1195.5 L1495.1,1195.8 L1495.9,1195.7 L1496.7,1196.0 L1497.5,1196.4 L1498.3,1195.9 L1499.1,1195.9 L1499.9,1195.9 L1500.7,1196.1 L1501.5,1196.5 L1502.3,1196.6 L1503.1,1195.7 L1503.9,1195.8 L1504.7,1195.6 L1505.5,1196.4 L1506.3,1195.8 L1507.1,1195.8 L1507.9,1196.5 L1508.7,1196.1 L1509.5,1195.9 L1510.3,1195.7 L1511.1,1196.1 L1511.9,1195.8 L1512.7,1196.3 L1513.5,1196.3 L1514.3,1195.8 L1515.1,1196.4 L1515.9,1196.7 L1516.7,1196.3 L1517.5,1196.1 L1518.3,1195.9 L1519.1,1196.3 L1519.9,1196.0 L1520.7,1196.2 L1521.5,1195.9 L1522.3,1196.1 L1523.1,1196.2 L1523.9,1195.8 L1524.7,1196.6 L1525.5,1195.8 L1526.3,1196.7 L1527.1,1196.6 L1527.9,1196.3 L1528.7,1196.1 L1529.5,1196.2 L1530.3,1196.2 L1531.1,1196.4 L1531.9,1196.1 L1532.7,1196.2 L1533.5,1196.5 L1534.3,1196.4 L1535.1,1196.1 L1535.9,1196.2 L1536.7,1196.7 L1537.5,1196.2 L1538.3,1196.5 L1539.1,1196.4 L1539.9,1196.1 L1540.7,1196.2 L1541.5,1196.3 L1542.3,1195.9 L1543.1,1196.8 L1543.9,1196.8 L1544.7,1195.9 L1545.5,1196.2 L1546.3,1196.2 L1547.1,1196.0 L1547.9,1196.6 L1548.7,1196.5 L1549.5,1196.4 L1550.3,1196.6 L1551.1,1196.1 L1551.9,1196.6 L1552.7,1196.8 L1553.5,1196.4 L1554.3,1196.6 L1555.1,1196.4 L1555.9,1196.1 L1556.7,1195.8 L1557.5,1196.7 L1558.3,1196.4 L1559.1,1196.3 L1559.9,1196.6 L1560.7,1196.5 L1561.5,1196.3 L1562.3,1196.4 L1563.1,1196.1 L1563.9,1196.4 L1564.7,1196.5 L1565.5,1195.8 L1566.3,1196.6 L1567.1,1196.8 L1567.9,1196.3 L1568.7,1196.9 L1569.5,1196.6 L1570.3,1196.2 L1571.1,1195.8 L1571.9,1196.4 L1572.7,1196.4 L1573.5,1196.8 L1574.3,1196.7 L1575.1,1196.6 L1575.9,1196.8 L1576.7,1196.9 L1577.5,1197.0 L1578.3,1196.5 L1579.1,1196.9 L1579.9,1196.7 L1580.7,1196.3 L1581.5,1196.3 L1582.3,1196.7 L1583.1,1196.7 L1583.9,1196.1 L1584.7,1196.8 L1585.5,1195.9 L1586.3,1196.9 L1587.1,1196.1 L1587.9,1196.5 L1588.7,1197.0 L1589.5,1196.4 L1590.3,1196.5 L1591.1,1196.5 L1591.9,1195.9 L1592.7,1196.9 L1593.5,1196.2 L1594.3,1196.8 L1595.1,1196.8 L1595.9,1196.9 L1596.7,1196.9 L1597.5,1196.2 L1598.3,1196.2 L1599.1,1196.8 L1599.9,1196.4 L1600.7,1196.6 L1601.5,1196.6 L1602.3,1196.4 L1603.1,1196.3 L1603.9,1196.8 L1604.7,1196.9 L1605.5,1196.4 L1606.3,1196.6 L1607.1,1196.4 L1607.9,1196.3 L1608.7,1196.8 L1609.5,1196.3 L1610.3,1196.7 L1611.1,1196.6 L1611.9,1197.0 L1612.7,1196.2 L1613.5,1196.1 L1614.3,1196.4 L1615.1,1196.4 L1615.9,1197.0 L1616.7,1196.5 L1617.5,1196.6 L1618.3,1196.6 L1619.1,1196.5 L1619.9,1196.2 L1620.7,1196.7 L1621.5,1197.0 L1622.3,1196.4 L1623.1,1196.5 L1623.9,1196.9 L1624.7,1196.9 L1625.5,1196.5 L1626.3,1196.4 L1627.1,1196.3 L1627.9,1196.5 L1628.7,1196.5 L1629.5,1196.6 L1630.3,1196.9 L1631.1,1197.3 L1631.9,1196.5 L1632.7,1196.8 L1633.5,1196.9 L1634.3,1197.4 L1635.1,1196.8 L1635.9,1196.8 L1636.7,1196.3 L1637.5,1197.1 L1638.3,1196.6 L1639.1,1197.5 L1639.9,1196.6 L1640.7,1196.8 L1641.5,1197.4 L1642.3,1196.4 L1643.1,1196.9 L1643.9,1197.0 L1644.7,1197.2 L1645.5,1196.8 L1646.3,1196.8 L1647.1,1196.9 L1647.9,1196.8 L1648.7,1196.9 L1649.5,1197.4 L1650.3,1196.7 L1651.1,1197.1 L1651.9,1197.5 L1652.7,1197.2 L1653.5,1197.3 L1654.3,1197.1 L1655.1,1197.3 L1655.9,1197.0 L1656.7,1196.9 L1657.5,1197.7 L1658.3,1197.3 L1659.1,1197.2 L1659.9,1197.2 L1660.7,1196.9 L1661.5,1197.3 L1662.3,1196.9 L1663.1,1197.5 L1663.9,1197.2 L1664.7,1197.3 L1665.5,1197.1 L1666.3,1197.4 L1667.1,1197.7 L1667.9,1198.0 L1668.7,1197.5 L1669.5,1197.6 L1670.3,1197.8 L1671.1,1197.9 L1671.9,1197.6 L1672.7,1197.7 L1673.5,1198.1 L1674.3,1198.4 L1675.1,1197.8 L1675.9,1198.1 L1676.7,1197.6 L1677.5,1198.1 L1678.3,1197.9 L1679.1,1198.6 L1679.9,1198.4 L1680.7,1198.3 L1681.5,1198.4 L1682.3,1198.4 L1683.1,1198.2 L1683.9,1198.8 L1684.7,1198.5 L1685.5,1198.8 L1686.3,1198.4 L1687.1,1198.8 L1687.9,1199.2 L1688.7,1198.4 L1689.5,1198.8 L1690.3,1198.4 L1691.1,1198.8 L1691.9,1198.8 L1692.7,1199.0 L1693.5,1198.9 L1694.3,1198.9 L1695.1,1198.9 L1695.9,1198.4 L1696.7,1198.6 L1697.5,1199.3 L1698.3,1199.0 L1699.1,1198.9 L1699.9,1199.5 L1700.7,1199.0 L1701.5,1199.0 L1702.3,1198.8 L1703.1,1198.7 L1703.9,1199.3 L1704.7,1198.6 L1705.5,1199.1 L1706.3,1198.8 L1707.1,1198.7 L1707.9,1198.9 L1708.7,1199.4 L1709.5,1199.1 L1710.3,1198.5 L1711.1,1199.1 L1711.9,1199.0 L1712.7,1199.2 L1713.5,1199.4 L1714.3,1198.8 L1715.1,1198.5 L1715.9,1199.0 L1716.7,1198.8 L1717.5,1199.1 L1718.3,1199.4 L1719.1,1198.9 L1719.9,1199.2 L1720.7,1198.9 L1721.5,1198.5 L1722.3,1199.2 L1723.1,1199.1 L1723.9,1198.8 L1724.7,1199.3 L1725.5,1199.3 L1726.3,1198.9 L1727.1,1198.8 L1727.9,1198.9 L1728.7,1199.6 L1729.5,1199.4 L1730.3,1199.3 L1731.1,1199.5 L1731.9,1199.6 L1732.7,1199.4 L1733.5,1199.3 L1734.3,1199.4 L1735.1,1199.5 L1735.9,1199.1 L1736.7,1199.4 L1737.5,1199.0 L1738.3,1199.7 L1739.1,1199.6 L1739.9,1199.4 L1740.7,1199.7 L1741.5,1199.1 L1742.3,1199.2 L1743.1,1199.5 L1743.9,1199.3 L1744.7,1199.5 L1745.5,1199.5 L1746.3,1199.2 L1747.1,1199.9 L1747.9,1199.7 L1748.7,1199.6 L1749.5,1199.3 L1750.3,1199.2 L1751.1,1199.6 L1751.9,1199.4 L1752.7,1199.6 L1753.5,1199.2 L1754.3,1199.3 L1755.1,1199.4 L1755.9,1199.7 L1756.7,1199.6 L1757.5,1199.0 L1758.3,1199.5 L1759.1,1199.2 L1759.9,1199.5 L1760.7,1199.0 L1761.5,1199.6 L1762.3,1199.7 L1763.1,1199.1 L1763.9,1199.4 L1764.7,1199.2 L1765.5,1199.5 L1766.3,1199.1 L1767.1,1199.1 L1767.9,1199.6 L1768.7,1199.7 L1769.5,1199.0 L1770.3,1199.4 L1771.1,1199.5 L1771.9,1199.9 L1772.7,1199.9 L1773.5,1199.2 L1774.3,1199.6 L1775.1,1199.5 L1775.9,1199.9 L1776.7,1199.4 L1777.5,1199.5 L1778.3,1199.2 L1779.1,1199.3 L1779.9,1199.3 L1780.7,1199.5 L1781.5,1199.4 L1782.3,1199.5 L1783.1,1199.7 L1783.9,1199.9 L1784.7,1198.9 L1785.5,1199.2 L1786.3,1199.8 L1787.1,1199.3 L1787.9,1199.5 L1788.7,1199.1 L1789.5,1199.3 L1790.3,1199.8 L1791.1,1199.6 L1791.9,1199.4 L1792.7,1199.6 L1793.5,1199.2 L1794.3,1199.4 L1795.1,1200.0 L1795.9,1198.9 L1796.7,1199.4 L1797.5,1199.6 L1798.3,1199.3 L1799.1,1199.3 L1799.9,1199.6 L1800.7,1199.5 L1801.5,1199.4 L1802.3,1199.8 L1803.1,1199.6 L1803.9,1199.2 L1804.7,1199.2 L1805.5,1199.2 L1806.3,1199.6 L1807.1,1198.7 L1807.9,1199.3 L1808.7,1200.0 L1809.5,1199.6 L1810.3,1199.7 L1811.1,1199.3 L1811.9,1199.1 L1812.7,1199.5 L1813.5,1199.7 L1814.3,1199.7 L1815.1,1199.7 L1815.9,1199.5 L1816.7,1199.5 L1817.5,1199.5" stroke="#000000" stroke-width="8.3"/>
<path d="M186.9,949.9 L187.7,949.8 L188.5,949.8 L189.3,949.5 L190.1,949.2 L190.9,950.0 L191.7,950.0 L192.5,949.5 L193.3,948.7 L194.1,949.1 L194.9,948.4 L195.7,948.9 L196.5,949.3 L197.3,948.8 L198.1,948.5 L198.9,948.6 L199.7,949.4 L200.5,948.7 L201.3,950.2 L202.1,950.0 L202.9,949.3 L203.6,948.7 L204.4,948.5 L205.2,948.1 L206.0,948.5 L206.8,948.9 L207.6,948.3 L208.4,948.3 L209.2,948.4 L210.0,949.0 L210.8,947.1 L211.6,946.5 L212.4,947.4 L213.2,947.9 L214.0,947.9 L214.8,947.4 L215.6,948.5 L216.4,946.7 L217.2,947.3 L218.0,949.2 L218.8,947.8 L219.6,947.5 L220.4,948.1 L221.2,947.2 L222.0,945.6 L222.8,946.5 L223.6,946.9 L224.4,947.2 L225.2,946.9 L226.0,947.6 L226.8,946.3 L227.6,946.9 L228.3,947.1 L229.1,946.5 L229.9,947.1 L230.7,946.3 L231.5,944.9 L232.3,946.7 L233.1,944.9 L233.9,946.0 L234.7,945.1 L235.5,946.1 L236.3,946.2 L237.1,946.2 L237.9,946.3 L238.7,945.8 L239.5,945.3 L240.3,946.3 L241.1,944.8 L241.9,945.0 L242.7,944.5 L243.5,943.4 L244.2,945.2 L245.0,943.6 L245.8,945.2 L246.6,945.8 L247.4,944.6 L248.2,943.9 L249.0,944.7 L249.8,943.2 L250.5,943.1 L251.3,944.1 L252.1,942.6 L252.9,942.6 L253.6,943.6 L254.4,942.4 L255.2,942.0 L255.9,941.1 L256.7,942.3 L257.4,941.6 L258.2,940.8 L258.9,940.8 L259.6,940.5 L260.4,940.0 L261.1,940.5 L261.8,939.5 L262.5,939.1 L263.2,939.3 L263.9,938.0 L264.5,938.1 L265.2,937.0 L265.8,937.0 L266.4,936.6 L266.9,935.9 L267.5,935.6 L268.1,934.6 L268.6,934.2 L269.2,933.3 L269.7,933.1 L270.3,932.2 L270.9,931.7 L271.5,931.4 L272.1,931.1 L272.7,929.8 L273.4,929.7 L274.0,929.1 L274.6,929.0 L275.2,928.3 L275.8,928.0 L276.4,927.0 L277.0,927.5 L277.7,926.5 L278.4,927.4 L279.1,925.7 L279.9,925.6 L280.7,926.3 L281.5,926.7 L282.3,925.1 L283.1,924.7 L283.9,925.0 L284.7,923.7 L285.5,925.1 L286.3,923.9 L287.1,925.8 L287.9,926.3 L288.7,924.7 L289.5,925.0 L290.3,926.0 L291.1,924.1 L291.9,925.7 L292.7,926.8 L293.5,925.5 L294.2,925.9 L295.0,927.3 L295.8,925.9 L296.6,926.3 L297.4,927.4 L298.2,926.9 L298.9,926.7 L299.7,927.2 L300.5,927.6 L301.3,927.9 L302.1,928.4 L302.8,928.2 L303.6,928.7 L304.4,927.6 L305.2,928.6 L306.0,928.8 L306.8,928.8 L307.6,929.1 L308.4,928.9 L309.2,929.5 L310.0,928.9 L310.7,929.3 L311.5,929.8 L312.3,929.3 L313.1,930.1 L313.9,930.2 L314.7,932.0 L315.5,930.2 L316.3,929.7 L317.1,929.2 L317.9,930.0 L318.7,930.1 L319.5,930.4 L320.3,929.1 L321.1,931.0 L321.9,931.1 L322.7,930.7 L323.4,931.0 L324.2,930.0 L325.0,930.5 L325.8,930.7 L326.6,931.2 L327.4,931.4 L328.2,931.2 L329.0,931.4 L329.8,930.9 L330.6,931.0 L331.4,930.5 L332.2,932.7 L333.0,932.0 L333.8,932.8 L334.6,931.9 L335.3,931.4 L336.1,932.5 L336.9,933.1 L337.7,931.8 L338.5,932.5 L339.3,932.8 L340.1,932.1 L340.9,933.4 L341.7,933.3 L342.5,934.5 L343.3,933.5 L344.0,931.4 L344.8,933.7 L345.6,934.0 L346.4,933.5 L347.2,933.5 L348.0,935.7 L348.8,933.9 L349.6,934.6 L350.4,933.9 L351.2,935.6 L352.0,935.1 L352.8,934.0 L353.6,933.7 L354.4,934.9 L355.2,933.4 L356.0,935.0 L356.8,933.8 L357.6,935.3 L358.4,936.2 L359.2,935.4 L360.0,935.8 L360.8,936.6 L361.6,937.2 L362.3,935.5 L363.1,935.9 L363.9,935.4 L364.7,935.6 L365.5,935.1 L366.3,935.3 L367.1,935.6 L367.9,936.2 L368.7,935.8 L369.5,937.5 L370.3,937.0 L371.1,936.2 L371.9,935.9 L372.7,936.0 L373.5,936.2 L374.3,936.8 L375.1,935.4 L375.9,935.7 L376.7,935.6 L377.5,938.3 L378.3,936.2 L379.1,935.9 L379.9,935.6 L380.7,935.7 L381.5,936.6 L382.3,937.1 L383.1,937.4 L383.9,935.4 L384.7,935.8 L385.5,936.8 L386.3,936.0 L387.1,935.5 L387.9,936.4 L388.7,937.0 L389.5,935.8 L390.3,937.7 L391.1,935.7 L391.9,935.8 L392.7,934.6 L393.5,936.5 L394.3,938.2 L395.1,936.8 L395.9,938.3 L396.7,936.0 L397.5,938.6 L398.3,936.1 L399.1,935.8 L399.9,935.7 L400.7,935.9 L401.5,935.2 L402.3,935.1 L403.1,935.1 L403.9,934.7 L404.7,936.1 L405.5,936.1 L406.3,937.1 L407.1,936.6 L407.9,935.4 L408.7,936.3 L409.5,936.7 L410.3,936.6 L411.1,935.7 L411.9,936.7 L412.7,936.4 L413.5,933.9 L414.3,936.6 L415.1,935.8 L415.9,935.3 L416.7,933.7 L417.5,935.5 L418.3,935.9 L419.1,935.2 L419.9,935.8 L420.7,935.3 L421.5,933.8 L422.3,935.4 L423.0,935.4 L423.8,933.4 L424.6,934.6 L425.4,935.5 L426.2,934.0 L427.0,934.4 L427.8,934.8 L428.6,934.3 L429.4,934.1 L430.2,933.7 L431.0,932.7 L431.8,933.9 L432.6,933.6 L433.4,931.4 L434.2,932.7 L434.9,932.9 L435.7,933.4 L436.5,933.7 L437.3,933.8 L438.1,933.1 L438.9,932.7 L439.7,933.8 L440.5,932.5 L441.3,933.3 L442.1,932.7 L442.9,933.9 L443.7,932.3 L444.5,933.7 L445.3,933.9 L446.1,933.7 L446.9,933.6 L447.7,932.2 L448.5,932.9 L449.3,933.1 L450.1,933.7 L450.9,933.0 L451.7,933.0 L452.5,933.8 L453.3,932.5 L454.1,933.8 L454.9,933.5 L455.7,934.2 L456.5,935.1 L457.3,932.3 L458.1,934.5 L458.9,934.6 L459.7,933.7 L460.5,934.3 L461.3,934.0 L462.1,934.2 L462.9,934.7 L463.7,933.9 L464.4,932.8 L465.2,935.7 L466.0,934.9 L466.8,934.9 L467.6,934.3 L468.4,934.9 L469.2,935.0 L470.0,935.1 L470.8,935.3 L471.6,934.6 L472.4,935.8 L473.2,935.2 L474.0,935.4 L474.8,935.6 L475.6,934.9 L476.4,936.4 L477.2,936.7 L478.0,937.1 L478.8,935.4 L479.6,936.0 L480.4,936.6 L481.2,935.5 L481.9,937.9 L482.7,936.2 L483.5,937.5 L484.3,935.8 L485.1,937.1 L485.9,937.2 L486.7,937.8 L487.5,938.0 L488.3,937.9 L489.1,937.3 L489.9,937.7 L490.7,935.7 L491.5,936.7 L492.3,937.1 L493.1,935.9 L493.9,937.1 L494.7,935.7 L495.5,937.8 L496.3,937.4 L497.1,937.8 L497.9,939.2 L498.7,938.2 L499.5,938.5 L500.3,937.4 L501.1,938.6 L501.9,938.0 L502.7,938.1 L503.5,937.3 L504.3,938.1 L505.1,939.1 L505.9,938.7 L506.6,938.5 L507.4,938.5 L508.2,939.0 L509.0,938.2 L509.8,938.4 L510.6,938.2 L511.4,938.8 L512.2,938.9 L513.0,939.3 L513.8,940.1 L514.6,939.5 L515.4,939.3 L516.2,937.8 L517.0,938.7 L517.8,937.5 L518.6,939.0 L519.4,938.8 L520.2,938.6 L521.0,939.0 L521.8,938.3 L522.6,938.3 L523.4,938.1 L524.2,939.3 L525.0,939.4 L525.8,938.2 L526.6,938.3 L527.4,938.8 L528.2,938.6 L529.0,940.7 L529.8,939.1 L530.6,938.5 L531.4,939.7 L532.2,938.4 L533.0,936.9 L533.8,939.2 L534.6,938.2 L535.4,940.2 L536.2,939.5 L537.0,938.5 L537.8,938.5 L538.6,940.1 L539.4,940.1 L540.2,937.0 L541.0,939.2 L541.8,940.0 L542.6,940.2 L543.4,939.5 L544.2,937.6 L545.0,941.0 L545.8,938.3 L546.6,939.1 L547.4,940.6 L548.2,940.1 L549.0,939.3 L549.8,939.0 L550.6,938.5 L551.4,940.1 L552.2,938.3 L553.0,940.3 L553.8,938.5 L554.6,939.3 L555.4,937.9 L556.2,940.0 L557.0,939.5 L557.8,937.5 L558.6,939.3 L559.4,939.8 L560.2,939.2 L561.0,940.1 L561.8,940.7 L562.6,939.1 L563.4,937.2 L564.2,939.4 L565.0,938.9 L565.8,939.1 L566.6,939.0 L567.4,939.8 L568.2,939.1 L569.0,939.0 L569.8,939.7 L570.6,937.4 L571.4,937.8 L572.2,939.1 L573.0,938.9 L573.8,939.2 L574.6,939.6 L575.4,937.8 L576.2,938.3 L577.0,939.9 L577.8,938.4 L578.6,938.6 L579.4,939.9 L580.2,938.3 L581.0,937.5 L581.8,939.8 L582.6,940.3 L583.4,939.2 L584.2,939.1 L585.0,939.7 L585.8,938.0 L586.6,938.8 L587.4,938.2 L588.2,938.4 L589.0,937.3 L589.8,938.2 L590.6,939.7 L591.4,938.8 L592.2,938.8 L593.0,938.9 L593.8,939.0 L594.6,939.3 L595.4,938.4 L596.2,938.5 L597.0,938.1 L597.8,937.9 L598.6,938.0 L599.4,939.1 L600.2,937.5 L601.0,940.2 L601.8,939.0 L602.6,937.3 L603.4,938.3 L604.2,937.9 L605.0,938.4 L605.8,937.7 L606.6,940.2 L607.4,938.1 L608.2,937.1 L609.0,937.6 L609.8,936.6 L610.6,938.9 L611.4,940.0 L612.2,938.1 L613.0,939.2 L613.8,940.0 L614.6,938.9 L615.4,940.1 L616.2,937.7 L617.0,937.7 L617.8,937.7 L618.6,937.7 L619.4,939.1 L620.2,937.8 L621.0,938.6 L621.8,938.9 L622.6,939.5 L623.4,938.2 L624.2,938.5 L625.0,938.9 L625.8,939.0 L626.6,938.3 L627.4,938.1 L628.2,937.8 L629.0,938.7 L629.8,938.1 L630.6,939.8 L631.4,939.9 L632.2,939.4 L633.0,937.8 L633.8,939.6 L634.6,938.5 L635.4,938.6 L636.2,938.0 L637.0,938.0 L637.8,938.5 L638.6,939.3 L639.4,938.8 L640.2,938.3 L641.0,937.0 L641.8,939.3 L642.6,937.9 L643.4,937.6 L644.2,938.8 L645.0,939.4 L645.8,937.8 L646.6,938.5 L647.4,937.1 L648.2,938.1 L649.0,938.3 L649.8,937.2 L650.6,938.9 L651.4,937.5 L652.2,938.7 L653.0,936.5 L653.8,936.9 L654.5,937.8 L655.3,937.2 L656.1,936.8 L656.9,936.7 L657.7,937.2 L658.5,937.4 L659.3,936.1 L660.1,936.3 L660.9,936.5 L661.7,935.9 L662.5,935.9 L663.3,936.3 L664.0,935.2 L664.8,935.9 L665.6,935.7 L666.4,934.8 L667.2,934.8 L668.0,934.4 L668.7,934.5 L669.5,934.7 L670.3,934.9 L671.1,933.3 L671.8,933.8 L672.6,933.1 L673.4,933.3 L674.1,934.2 L674.9,933.1 L675.7,933.1 L676.4,934.5 L677.2,932.6 L678.0,932.6 L678.7,931.7 L679.5,931.5 L680.2,932.5 L681.0,931.3 L681.7,930.4 L682.5,930.7 L683.2,929.9 L683.9,928.6 L684.7,930.0 L685.4,928.6 L686.1,928.9 L686.9,930.0 L687.6,928.1 L688.3,928.1 L689.0,926.6 L689.7,927.0 L690.4,927.6 L691.1,926.1 L691.9,925.7 L692.6,926.3 L693.3,925.4 L694.0,924.6 L694.7,924.0 L695.3,923.8 L696.0,924.3 L696.7,923.3 L697.4,922.6 L698.1,923.3 L698.8,922.8 L699.5,922.0 L700.2,921.7 L700.8,920.2 L701.5,920.7 L702.2,919.9 L702.9,919.1 L703.5,918.0 L704.2,918.0 L704.9,918.4 L705.5,917.2 L706.2,917.3 L706.8,916.5 L707.5,916.3 L708.1,916.2 L708.8,915.6 L709.4,915.6 L710.0,914.6 L710.7,914.1 L711.3,913.7 L711.9,913.4 L712.5,912.4 L713.1,911.6 L713.8,911.8 L714.4,910.5 L715.0,909.8 L715.5,909.7 L716.1,909.3 L716.7,908.9 L717.3,908.5 L717.8,907.8 L718.4,907.8 L719.0,906.0 L719.5,906.1 L720.1,905.3 L720.6,904.9 L721.1,903.7 L721.7,903.2 L722.2,902.9 L722.7,902.7 L723.2,901.5 L723.7,901.4 L724.2,901.2 L724.7,899.8 L725.2,899.1 L725.7,898.8 L726.2,898.2 L726.6,897.4 L727.1,896.2 L727.6,895.9 L728.0,895.5 L728.5,894.5 L729.0,893.7 L729.4,893.2 L729.8,892.9 L730.3,891.8 L730.7,891.0 L731.1,890.6 L731.6,890.3 L732.0,889.0 L732.4,888.9 L732.8,888.0 L733.2,887.4 L733.6,886.7 L734.0,885.7 L734.4,885.1 L734.7,884.6 L735.1,883.7 L735.5,882.9 L735.9,882.3 L736.2,881.5 L736.6,881.2 L736.9,880.3 L737.3,879.7 L737.6,878.7 L737.9,877.9 L738.3,877.1 L738.6,876.8 L738.9,875.8 L739.2,875.0 L739.5,874.5 L739.9,873.7 L740.2,872.9 L740.5,872.2 L740.8,871.5 L741.0,870.5 L741.3,869.7 L741.6,869.3 L741.9,868.3 L742.2,867.4 L742.5,866.8 L742.7,866.0 L743.0,865.5 L743.3,864.6 L743.5,863.8 L743.8,863.0 L744.0,862.2 L744.3,861.8 L744.6,860.9 L744.8,860.1 L745.1,859.5 L745.3,858.5 L745.6,857.6 L745.8,857.2 L746.1,856.5 L746.3,855.4 L746.6,854.6 L746.8,854.1 L747.1,853.4 L747.3,852.7 L747.6,851.5 L747.8,850.8 L748.1,850.2 L748.3,849.4 L748.5,848.5 L748.8,848.1 L749.0,847.3 L749.3,846.5 L749.5,845.7 L749.7,845.0 L750.0,844.3 L750.2,843.3 L750.4,842.4 L750.7,841.9 L750.9,841.2 L751.1,840.4 L751.3,839.4 L751.6,838.6 L751.8,837.9 L752.0,837.3 L752.2,836.5 L752.4,835.5 L752.6,834.9 L752.9,834.1 L753.1,833.4 L753.3,832.7 L753.5,831.8 L753.7,831.3 L753.9,830.2 L754.1,829.4 L754.4,828.6 L754.6,828.0 L754.8,827.2 L755.0,826.3 L755.2,825.5 L755.5,824.8 L755.7,824.3 L756.0,823.1 L756.2,822.6 L756.5,821.8 L756.7,820.8 L757.0,820.2 L757.3,819.8 L757.6,819.0 L757.9,818.1 L758.2,817.3 L758.6,816.3 L758.9,816.4 L759.3,815.2 L759.6,814.4 L760.0,813.5 L760.4,813.0 L760.8,812.2 L761.2,811.6 L761.6,810.8 L762.1,810.2 L762.5,809.7 L763.0,808.8 L763.4,808.5 L763.9,807.6 L764.3,807.1 L764.8,807.3 L765.2,807.3 L765.7,808.0 L766.1,808.6 L766.6,808.9 L767.0,809.7 L767.4,810.7 L767.8,810.8 L768.2,811.9 L768.5,812.3 L768.9,813.3 L769.2,814.5 L769.5,814.8 L769.8,815.7 L770.1,816.5 L770.3,817.1 L770.6,818.0 L770.8,818.5 L771.0,819.3 L771.2,820.1 L771.4,820.8 L771.6,821.7 L771.8,822.4 L772.0,823.1 L772.1,823.9 L772.3,824.9 L772.4,825.6 L772.6,826.2 L772.7,827.0 L772.9,827.8 L773.0,828.8 L773.1,829.4 L773.3,830.3 L773.4,831.0 L773.5,831.9 L773.7,832.7 L773.8,833.3 L774.0,834.1 L774.1,834.9 L774.2,835.9 L774.4,836.5 L774.5,837.3 L774.6,838.0 L774.8,838.8 L774.9,839.7 L775.0,840.5 L775.2,841.3 L775.3,842.0 L775.5,842.8 L775.6,843.6 L775.8,844.4 L775.9,845.3 L776.0,846.0 L776.2,846.8 L776.3,847.6 L776.5,848.2 L776.7,849.2 L776.8,849.9 L777.0,850.8 L777.1,851.5 L777.3,852.3 L777.4,853.2 L777.6,853.8 L777.7,854.7 L777.9,855.5 L778.1,856.2 L778.2,856.9 L778.4,857.8 L778.5,858.6 L778.7,859.3 L778.8,860.1 L779.0,861.0 L779.1,861.7 L779.3,862.4 L779.4,863.3 L779.6,863.9 L779.7,864.9 L779.9,865.6 L780.0,866.4 L780.2,867.1 L780.4,868.0 L780.5,868.7 L780.7,869.5 L780.9,870.1 L781.1,871.2 L781.3,872.0 L781.5,872.6 L781.7,873.2 L781.9,874.2 L782.1,875.1 L782.3,875.7 L782.6,876.5 L782.8,877.1 L783.1,878.2 L783.4,878.9 L783.6,879.4 L783.9,880.5 L784.2,880.9 L784.5,881.8 L784.8,882.5 L785.1,883.1 L785.4,884.0 L785.7,884.6 L786.0,885.2 L786.3,886.3 L786.6,886.9 L786.9,887.6 L787.2,888.8 L787.5,889.3 L787.8,890.0 L788.1,890.6 L788.4,891.6 L788.7,892.4 L789.0,892.9 L789.3,893.9 L789.6,894.3 L789.9,895.2 L790.2,895.6 L790.5,896.5 L790.8,897.3 L791.1,898.1 L791.5,898.7 L791.8,899.4 L792.1,900.0 L792.5,900.8 L792.8,901.4 L793.1,902.6 L793.5,902.8 L793.8,903.9 L794.1,904.5 L794.5,905.3 L794.8,905.9 L795.2,906.6 L795.5,907.5 L795.9,907.5 L796.3,908.7 L796.6,909.7 L797.0,910.4 L797.3,911.1 L797.7,911.7 L798.1,912.5 L798.4,912.9 L798.8,913.5 L799.2,914.6 L799.6,915.4 L800.0,915.9 L800.3,916.8 L800.7,918.0 L801.2,918.0 L801.6,918.9 L802.0,919.7 L802.4,920.3 L802.9,920.7 L803.3,921.5 L803.8,922.2 L804.3,922.9 L804.8,923.1 L805.3,923.9 L805.8,924.8 L806.3,925.6 L806.9,925.4 L807.4,926.5 L808.0,926.9 L808.6,927.4 L809.2,928.0 L809.8,928.3 L810.4,929.4 L811.0,929.4 L811.6,930.2 L812.3,930.8 L812.9,931.0 L813.6,931.0 L814.2,931.9 L814.9,932.2 L815.6,932.8 L816.3,933.2 L817.0,932.9 L817.7,934.4 L818.4,934.5 L819.1,934.7 L819.8,935.0 L820.5,934.9 L821.3,935.6 L822.0,935.4 L822.7,936.5 L823.5,936.1 L824.2,937.0 L825.0,937.4 L825.7,937.4 L826.4,938.2 L827.2,938.8 L828.0,938.1 L828.7,938.8 L829.5,939.3 L830.2,939.7 L831.0,939.6 L831.7,939.9 L832.5,939.8 L833.3,940.4 L834.0,939.9 L834.8,940.7 L835.5,941.6 L836.3,941.0 L837.1,941.3 L837.8,941.8 L838.6,941.8 L839.4,941.8 L840.1,942.6 L840.9,942.4 L841.7,943.0 L842.5,942.4 L843.2,943.3 L844.0,942.7 L844.8,943.4 L845.6,944.3 L846.3,943.7 L847.1,944.2 L847.9,943.7 L848.7,944.2 L849.5,944.3 L850.2,944.0 L851.0,944.5 L851.8,945.1 L852.6,945.1 L853.4,945.7 L854.2,945.8 L854.9,945.1 L855.7,946.1 L856.5,946.0 L857.3,945.9 L858.1,946.0 L858.9,946.7 L859.7,945.6 L860.5,947.3 L861.3,946.6 L862.0,946.3 L862.8,946.7 L863.6,946.3 L864.4,947.1 L865.2,946.7 L866.0,946.7 L866.8,947.2 L867.6,948.1 L868.4,947.9 L869.2,946.9 L870.0,948.4 L870.7,947.2 L871.5,948.5 L872.3,948.7 L873.1,947.3 L873.9,948.1 L874.7,948.4 L875.5,948.6 L876.3,949.1 L877.1,949.0 L877.9,948.6 L878.7,948.9 L879.5,949.7 L880.3,949.2 L881.1,949.6 L881.9,948.9 L882.7,949.7 L883.5,949.6 L884.3,949.2 L885.1,949.2 L885.8,950.3 L886.6,950.7 L887.4,949.5 L888.2,949.8 L889.0,949.7 L889.8,949.9 L890.6,949.8 L891.4,950.9 L892.2,950.3 L893.0,949.8 L893.8,950.9 L894.6,951.9 L895.4,950.1 L896.2,951.6 L897.0,949.8 L897.8,951.0 L898.6,951.1 L899.4,951.0 L900.2,951.1 L901.0,951.0 L901.8,950.9 L902.6,951.1 L903.4,950.7 L904.2,951.2 L905.0,950.7 L905.8,951.3 L906.6,950.6 L907.4,951.6 L908.2,951.7 L909.0,951.7 L909.8,951.5 L910.6,951.3 L911.4,952.4 L912.2,951.9 L913.0,951.8 L913.8,951.5 L914.6,952.0 L915.4,952.3 L916.2,951.3 L917.0,952.5 L917.8,952.0 L918.6,952.5 L919.4,952.2 L920.2,951.9 L921.0,952.7 L921.8,952.2 L922.6,952.3 L923.4,951.3 L924.1,952.4 L924.9,953.0 L925.7,952.8 L926.5,951.9 L927.3,953.2 L928.1,952.3 L928.9,951.8 L929.7,952.4 L930.5,952.8 L931.3,953.1 L932.1,952.2 L932.9,952.3 L933.7,953.1 L934.5,952.0 L935.3,952.5 L936.1,951.8 L936.9,952.7 L937.7,953.6 L938.5,952.7 L939.3,952.8 L940.1,951.8 L940.9,952.4 L941.7,953.0 L942.5,953.9 L943.3,952.6 L944.1,952.1 L944.9,953.2 L945.7,952.9 L946.5,953.5 L947.3,952.8 L948.1,953.2 L948.9,953.7 L949.7,953.4 L950.5,953.0 L951.3,953.3 L952.1,953.7 L952.9,952.7 L953.7,953.4 L954.5,953.0 L955.3,953.1 L956.1,953.3 L956.9,953.4 L957.7,953.7 L958.5,952.9 L959.3,953.2 L960.1,952.8 L960.9,953.9 L961.7,953.9 L962.5,953.0 L963.3,954.5 L964.1,953.3 L964.9,953.1 L965.7,953.3 L966.5,953.9 L967.3,953.4 L968.1,953.6 L968.9,954.1 L969.7,953.2 L970.5,953.3 L971.3,953.3 L972.1,953.6 L972.9,953.5 L973.7,953.0 L974.5,953.4 L975.3,953.2 L976.1,953.5 L976.9,954.4 L977.7,954.2 L978.5,953.4 L979.3,954.1 L980.1,953.8 L980.9,953.8 L981.7,953.8 L982.5,953.9 L983.3,954.6 L984.1,954.1 L984.9,953.0 L985.7,953.8 L986.5,953.5 L987.3,953.8 L988.1,953.9 L988.9,953.7 L989.7,953.9 L990.5,954.2 L991.3,953.6 L992.1,953.3 L992.9,953.9 L993.7,954.0 L994.5,953.7 L995.3,954.1 L996.1,954.5 L996.9,954.6 L997.7,954.5 L998.5,954.0 L999.3,954.1 L1000.1,954.8 L1000.9,953.7 L1001.7,954.4 L1002.5,953.9 L1003.3,954.1 L1004.1,954.1 L1004.9,954.2 L1005.7,954.9 L1006.5,954.3 L1007.3,954.5 L1008.1,954.4 L1008.9,954.8 L1009.7,953.7 L1010.5,955.0 L1011.3,954.5 L1012.1,954.0 L1012.9,954.1 L1013.7,954.5 L1014.5,954.1 L1015.3,954.3 L1016.1,954.3 L1016.9,955.6 L1017.7,954.7 L1018.5,954.9 L1019.3,954.6 L1020.1,954.4 L1020.9,954.5 L1021.7,954.1 L1022.5,954.6 L1023.3,954.2 L1024.1,954.2 L1024.9,955.0 L1025.7,955.1 L1026.5,954.7 L1027.3,954.5 L1028.1,954.4 L1028.9,955.0 L1029.7,954.5 L1030.5,955.2 L1031.3,954.9 L1032.1,954.8 L1032.9,955.0 L1033.7,955.1 L1034.5,954.4 L1035.3,954.8 L1036.1,954.5 L1036.9,954.2 L1037.7,954.3 L1038.5,954.8 L1039.3,954.0 L1040.1,955.0 L1040.9,955.2 L1041.7,955.5 L1042.5,954.1 L1043.3,955.5 L1044.1,954.7 L1044.9,955.1 L1045.7,955.3 L1046.5,954.1 L1047.3,955.0 L1048.1,954.4 L1048.9,954.5 L1049.7,955.0 L1050.5,954.8 L1051.3,955.6 L1052.1,954.1 L1052.9,955.3 L1053.7,955.3 L1054.5,955.4 L1055.3,955.0 L1056.1,954.6 L1056.9,954.4 L1057.7,954.6 L1058.5,954.5 L1059.3,955.0 L1060.1,954.8 L1060.9,955.0 L1061.7,954.9 L1062.5,955.2 L1063.3,955.1 L1064.1,955.2 L1064.9,954.9 L1065.7,955.0 L1066.5,954.7 L1067.3,955.0 L1068.1,955.8 L1068.9,955.0 L1069.7,955.1 L1070.5,955.6 L1071.3,955.6 L1072.1,954.6 L1072.9,955.0 L1073.7,954.5 L1074.5,955.6 L1075.3,954.5 L1076.1,955.3 L1076.9,955.4 L1077.7,955.6 L1078.5,955.5 L1079.3,955.4 L1080.1,955.6 L1080.9,955.0 L1081.7,955.9 L1082.5,955.4 L1083.3,955.3 L1084.1,955.5 L1084.9,955.6 L1085.7,955.3 L1086.5,954.8 L1087.3,954.8 L1088.1,954.6 L1088.9,954.6 L1089.7,955.6 L1090.5,954.8 L1091.3,955.4 L1092.1,954.9 L1092.9,955.7 L1093.7,955.7 L1094.5,955.0 L1095.3,954.8 L1096.1,955.7 L1096.9,955.4 L1097.7,955.2 L1098.5,954.9 L1099.3,954.4 L1100.1,955.3 L1100.9,955.6 L1101.7,955.7 L1102.5,955.3 L1103.3,955.3 L1104.1,955.6 L1104.9,955.3 L1105.7,955.2 L1106.5,954.4 L1107.3,955.2 L1108.1,955.4 L1108.9,955.6 L1109.7,955.3 L1110.5,955.0 L1111.3,955.8 L1112.1,955.7 L1112.9,955.1 L1113.7,955.7 L1114.5,955.5 L1115.3,955.9 L1116.1,955.4 L1116.9,955.7 L1117.7,955.4 L1118.5,955.7 L1119.3,954.9 L1120.1,955.9 L1120.9,954.7 L1121.7,955.3 L1122.5,955.5 L1123.3,955.6 L1124.1,956.1 L1124.9,955.7 L1125.7,955.7 L1126.5,955.5 L1127.3,955.6 L1128.1,955.7 L1128.9,955.4 L1129.7,956.2 L1130.5,955.6 L1131.3,955.3 L1132.1,955.7 L1132.9,955.5 L1133.7,955.3 L1134.5,955.8 L1135.3,955.5 L1136.1,955.5 L1136.9,956.0 L1137.7,955.0 L1138.5,955.9 L1139.3,955.7 L1140.1,955.6 L1140.9,955.7 L1141.7,955.4 L1142.5,955.8 L1143.3,955.8 L1144.1,956.0 L1144.9,955.9 L1145.7,955.4 L1146.5,955.2 L1147.3,955.8 L1148.1,955.5 L1148.9,955.4 L1149.7,955.6 L1150.5,955.3 L1151.3,955.9 L1152.1,955.8 L1152.9,954.8 L1153.7,954.8 L1154.5,955.6 L1155.3,955.7 L1156.1,956.2 L1156.9,956.3 L1157.7,956.0 L1158.5,955.7 L1159.3,955.4 L1160.1,955.3 L1160.9,956.5 L1161.7,956.5 L1162.5,955.4 L1163.3,955.6 L1164.1,955.8 L1164.9,955.9 L1165.7,955.7 L1166.5,955.9 L1167.3,955.2 L1168.1,956.2 L1168.9,955.3 L1169.7,955.0 L1170.5,955.7 L1171.3,955.5 L1172.1,955.5 L1172.9,955.4 L1173.7,955.1 L1174.5,955.5 L1175.3,955.4 L1176.1,955.7 L1176.9,955.5 L1177.7,955.3 L1178.5,956.3 L1179.3,955.3 L1180.1,955.3 L1180.9,955.3 L1181.7,956.0 L1182.5,955.6 L1183.3,955.4 L1184.1,955.2 L1184.9,955.7 L1185.7,956.4 L1186.5,955.8 L1187.3,955.5 L1188.1,956.1 L1188.9,955.6 L1189.7,956.1 L1190.5,956.2 L1191.3,955.2 L1192.1,955.0 L1192.9,956.1 L1193.7,956.1 L1194.5,955.0 L1195.3,956.4 L1196.1,955.4 L1196.9,956.2 L1197.7,955.7 L1198.5,956.5 L1199.3,956.1 L1200.1,956.3 L1200.9,956.5 L1201.7,955.8 L1202.5,955.6 L1203.3,955.3 L1204.1,955.5 L1204.9,955.9 L1205.7,955.9 L1206.5,955.6 L1207.3,955.9 L1208.1,955.6 L1208.9,955.9 L1209.7,956.4 L1210.5,955.8 L1211.3,955.5 L1212.1,956.1 L1212.9,956.0 L1213.7,955.8 L1214.5,955.6 L1215.3,955.9 L1216.1,956.3 L1216.9,956.5 L1217.7,956.1 L1218.5,956.0 L1219.3,955.3 L1220.1,956.1 L1220.9,956.4 L1221.7,956.8 L1222.5,955.2 L1223.3,956.1 L1224.1,956.9 L1224.9,956.3 L1225.7,956.2 L1226.5,955.8 L1227.3,956.1 L1228.1,956.5 L1228.9,956.1 L1229.6,955.8 L1230.4,956.4 L1231.2,955.0 L1232.0,956.4 L1232.8,955.4 L1233.6,956.0 L1234.4,956.0 L1235.2,956.2 L1236.0,955.5 L1236.8,955.6 L1237.6,956.3 L1238.4,956.5 L1239.2,956.2 L1240.0,956.7 L1240.8,956.7 L1241.6,955.7 L1242.4,956.5 L1243.2,956.6 L1244.0,956.9 L1244.8,956.1 L1245.6,956.3 L1246.4,956.2 L1247.2,955.6 L1248.0,956.1 L1248.8,955.9 L1249.6,956.6 L1250.4,955.9 L1251.2,955.4 L1252.0,956.9 L1252.8,955.1 L1253.6,956.2 L1254.4,956.2 L1255.2,956.5 L1256.0,956.5 L1256.8,956.2 L1257.6,956.6 L1258.4,955.8 L1259.2,956.5 L1260.0,956.5 L1260.8,956.1 L1261.6,955.6 L1262.4,955.7 L1263.2,956.7 L1264.0,956.3 L1264.8,956.4 L1265.6,955.8 L1266.4,956.1 L1267.2,956.4 L1268.0,956.8 L1268.8,955.5 L1269.6,956.4 L1270.4,956.2 L1271.2,956.7 L1272.0,956.9 L1272.8,956.9 L1273.6,955.6 L1274.4,955.5 L1275.2,955.9 L1276.0,955.6 L1276.8,956.3 L1277.6,956.3 L1278.4,956.0 L1279.2,956.3 L1280.0,956.6 L1280.8,956.3 L1281.6,956.7 L1282.4,956.8 L1283.2,956.1 L1284.0,956.0 L1284.8,956.0 L1285.6,956.6 L1286.4,957.0 L1287.2,957.0 L1288.0,956.4 L1288.8,956.9 L1289.6,956.5 L1290.4,957.6 L1291.2,957.0 L1292.0,956.4 L1292.8,956.7 L1293.6,956.2 L1294.4,956.8 L1295.2,956.5 L1296.0,956.6 L1296.8,956.1 L1297.6,956.6 L1298.4,955.8 L1299.2,957.3 L1300.0,956.0 L1300.8,956.7 L1301.6,956.8 L1302.4,956.0 L1303.2,957.1 L1304.0,956.6 L1304.8,956.5 L1305.6,956.7 L1306.4,956.5 L1307.2,956.3 L1308.0,956.4 L1308.8,956.0 L1309.6,956.2 L1310.4,956.4 L1311.2,956.3 L1312.0,957.1 L1312.8,956.5 L1313.6,956.4 L1314.4,956.9 L1315.2,956.5 L1316.0,956.9 L1316.8,957.3 L1317.6,956.4 L1318.4,956.4 L1319.2,956.2 L1320.0,956.8 L1320.8,957.0 L1321.6,956.6 L1322.4,956.7 L1323.2,956.6 L1324.0,956.8 L1324.8,956.9 L1325.6,956.9 L1326.4,957.4 L1327.2,957.0 L1328.0,956.9 L1328.8,956.1 L1329.6,956.4 L1330.4,956.8 L1331.2,956.8 L1332.0,956.9 L1332.8,956.3 L1333.6,957.5 L1334.4,957.4 L1335.2,956.8 L1336.0,956.4 L1336.8,956.4 L1337.6,956.6 L1338.4,956.8 L1339.2,956.6 L1340.0,956.8 L1340.8,957.0 L1341.6,956.6 L1342.4,956.8 L1343.2,956.6 L1344.0,955.9 L1344.8,957.4 L1345.6,956.5 L1346.4,957.1 L1347.2,957.4 L1348.0,957.0 L1348.8,956.7 L1349.6,956.8 L1350.4,956.8 L1351.2,956.5 L1352.0,956.5 L1352.8,957.0 L1353.6,957.0 L1354.4,956.9 L1355.2,957.2 L1356.0,957.0 L1356.8,955.9 L1357.6,956.8 L1358.4,957.2 L1359.2,957.6 L1360.0,956.8 L1360.8,957.1 L1361.6,957.3 L1362.4,956.7 L1363.2,956.8 L1364.0,957.1 L1364.8,957.2 L1365.6,956.7 L1366.4,957.1 L1367.2,956.8 L1368.0,957.1 L1368.8,957.2 L1369.6,956.9 L1370.4,957.0 L1371.2,957.9 L1372.0,956.5 L1372.8,957.8 L1373.6,957.9 L1374.4,957.3 L1375.2,957.0 L1376.0,957.6 L1376.8,956.7 L1377.6,957.0 L1378.4,957.0 L1379.2,957.0 L1380.0,957.0 L1380.8,957.2 L1381.6,957.4 L1382.4,957.7 L1383.2,957.2 L1384.0,958.4 L1384.8,957.3 L1385.6,958.3 L1386.4,956.6 L1387.2,957.4 L1388.0,956.7 L1388.8,958.0 L1389.6,957.4 L1390.4,957.2 L1391.2,957.7 L1392.0,957.4 L1392.8,957.5 L1393.6,956.7 L1394.4,957.2 L1395.2,958.3 L1396.0,956.8 L1396.8,957.6 L1397.6,958.0 L1398.4,957.6 L1399.2,957.5 L1400.0,957.8 L1400.8,958.1 L1401.6,957.1 L1402.4,957.3 L1403.2,957.7 L1404.0,957.5 L1404.8,957.7 L1405.6,958.0 L1406.4,957.0 L1407.2,957.6 L1408.0,957.7 L1408.8,956.6 L1409.6,957.7 L1410.4,957.5 L1411.2,957.1 L1412.0,957.5 L1412.8,957.5 L1413.6,957.9 L1414.4,957.4 L1415.2,957.6 L1416.0,956.9 L1416.8,957.6 L1417.6,957.4 L1418.4,957.8 L1419.2,958.0 L1420.0,957.3 L1420.8,957.9 L1421.6,957.5 L1422.4,957.9 L1423.2,957.9 L1424.0,957.6 L1424.8,958.5 L1425.6,958.0 L1426.4,957.0 L1427.2,957.8 L1428.0,957.4 L1428.8,957.3 L1429.6,957.8 L1430.4,958.0 L1431.2,957.2 L1432.0,957.7 L1432.8,957.5 L1433.6,958.0 L1434.4,957.5 L1435.2,957.9 L1436.0,958.2 L1436.8,957.8 L1437.6,957.8 L1438.4,958.2 L1439.2,958.1 L1440.0,957.7 L1440.8,958.4 L1441.6,957.9 L1442.4,957.2 L1443.2,958.0 L1444.0,958.1 L1444.8,958.2 L1445.6,958.0 L1446.4,957.9 L1447.2,957.2 L1448.0,957.8 L1448.8,957.9 L1449.6,958.1 L1450.4,957.7 L1451.2,958.7 L1452.0,957.5 L1452.8,957.7 L1453.6,958.0 L1454.4,958.4 L1455.2,957.7 L1456.0,958.4 L1456.8,957.9 L1457.6,957.6 L1458.4,958.5 L1459.2,958.1 L1460.0,957.9 L1460.8,958.0 L1461.6,958.0 L1462.4,957.8 L1463.2,957.7 L1464.0,958.6 L1464.8,957.9 L1465.6,958.2 L1466.4,958.2 L1467.2,958.6 L1468.0,958.1 L1468.8,958.8 L1469.6,957.8 L1470.4,958.4 L1471.2,957.9 L1472.0,958.5 L1472.8,957.6 L1473.6,957.8 L1474.4,958.3 L1475.2,958.3 L1476.0,958.4 L1476.8,958.6 L1477.6,957.7 L1478.4,958.8 L1479.2,959.1 L1480.0,958.4 L1480.8,958.4 L1481.6,958.3 L1482.4,958.5 L1483.2,958.2 L1484.0,958.4 L1484.8,957.7 L1485.6,957.7 L1486.4,958.7 L1487.2,958.2 L1488.0,958.7 L1488.8,958.2 L1489.6,959.0 L1490.4,958.5 L1491.2,958.1 L1492.0,957.8 L1492.8,958.4 L1493.6,958.3 L1494.4,959.0 L1495.2,958.2 L1496.0,958.8 L1496.8,957.6 L1497.6,958.3 L1498.4,958.2 L1499.2,958.5 L1500.0,957.8 L1500.8,958.8 L1501.6,958.4 L1502.4,958.0 L1503.2,958.7 L1504.0,958.8 L1504.8,958.5 L1505.6,958.6 L1506.4,958.6 L1507.2,959.0 L1508.0,958.4 L1508.8,958.5 L1509.6,958.7 L1510.4,958.1 L1511.2,958.0 L1512.0,958.0 L1512.8,958.9 L1513.6,959.3 L1514.4,958.5 L1515.2,958.0 L1516.0,959.1 L1516.8,959.4 L1517.6,958.5 L1518.4,959.1 L1519.2,958.7 L1520.0,958.7 L1520.8,958.9 L1521.6,959.1 L1522.4,959.5 L1523.2,959.0 L1524.0,958.7 L1524.8,959.3 L1525.6,958.8 L1526.4,959.0 L1527.2,959.0 L1528.0,958.7 L1528.8,958.7 L1529.6,958.7 L1530.4,957.9 L1531.2,958.7 L1532.0,959.0 L1532.8,958.7 L1533.6,958.6 L1534.4,958.6 L1535.2,958.7 L1536.0,958.6 L1536.8,959.0 L1537.6,958.5 L1538.4,959.1 L1539.2,958.2 L1540.0,958.8 L1540.8,958.7 L1541.6,959.0 L1542.4,959.1 L1543.2,959.4 L1544.0,958.7 L1544.8,958.9 L1545.6,958.7 L1546.4,958.9 L1547.2,958.0 L1548.0,958.9 L1548.8,959.3 L1549.6,958.8 L1550.4,958.7 L1551.2,958.5 L1552.0,958.7 L1552.8,958.6 L1553.6,958.3 L1554.4,959.0 L1555.2,959.0 L1556.0,959.0 L1556.8,959.2 L1557.6,959.3 L1558.4,959.2 L1559.2,960.0 L1560.0,959.1 L1560.8,959.3 L1561.6,958.8 L1562.4,959.4 L1563.2,958.5 L1564.0,959.3 L1564.8,958.8 L1565.6,959.3 L1566.4,959.9 L1567.2,958.6 L1568.0,959.3 L1568.8,959.2 L1569.6,959.6 L1570.4,959.8 L1571.2,959.3 L1572.0,959.4 L1572.8,959.1 L1573.6,959.5 L1574.4,958.6 L1575.2,959.1 L1576.0,959.3 L1576.8,959.3 L1577.6,959.3 L1578.4,958.8 L1579.2,958.8 L1580.0,959.1 L1580.8,959.2 L1581.6,959.1 L1582.4,959.4 L1583.2,958.8 L1584.0,959.7 L1584.8,959.4 L1585.6,960.1 L1586.4,959.6 L1587.2,958.7 L1588.0,959.7 L1588.8,959.7 L1589.6,958.3 L1590.4,959.9 L1591.2,959.9 L1592.0,959.5 L1592.8,959.7 L1593.6,959.5 L1594.4,959.5 L1595.2,960.1 L1596.0,958.8 L1596.8,959.2 L1597.6,959.7 L1598.4,959.0 L1599.2,959.3 L1600.0,959.6 L1600.8,959.4 L1601.6,959.4 L1602.4,959.5 L1603.2,959.7 L1604.0,958.9 L1604.8,959.2 L1605.6,960.1 L1606.4,959.6 L1607.2,959.8 L1608.0,959.6 L1608.8,959.3 L1609.6,959.4 L1610.4,959.1 L1611.2,959.0 L1612.0,959.2 L1612.8,959.7 L1613.6,959.2 L1614.4,959.1 L1615.2,959.7 L1616.0,959.7 L1616.8,959.4 L1617.5,958.9 L1618.3,959.5 L1619.1,959.7 L1619.9,959.0 L1620.7,959.2 L1621.5,959.5 L1622.3,960.0 L1623.1,959.7 L1623.9,959.4 L1624.7,959.8 L1625.5,959.8 L1626.3,960.0 L1627.1,959.8 L1627.9,958.7 L1628.7,959.2 L1629.5,960.0 L1630.3,959.9 L1631.1,960.1 L1631.9,959.6 L1632.7,959.6 L1633.5,959.3 L1634.3,959.2 L1635.1,959.7 L1635.9,960.7 L1636.7,959.8 L1637.5,958.9 L1638.3,959.6 L1639.1,959.3 L1639.9,959.7 L1640.7,959.8 L1641.5,960.2 L1642.3,960.1 L1643.1,960.7 L1643.9,959.5 L1644.7,959.9 L1645.5,959.7 L1646.3,960.3 L1647.1,960.1 L1647.9,959.1 L1648.7,960.2 L1649.5,959.3 L1650.3,959.4 L1651.1,959.9 L1651.9,960.1 L1652.7,960.5 L1653.5,959.7 L1654.3,959.9 L1655.1,960.3 L1655.9,959.7 L1656.7,959.6 L1657.5,960.2 L1658.3,959.8 L1659.1,960.7 L1659.9,960.3 L1660.7,959.5 L1661.5,959.8 L1662.3,959.6 L1663.1,960.1 L1663.9,959.7 L1664.7,960.7 L1665.5,960.1 L1666.3,959.8 L1667.1,959.3 L1667.9,959.9 L1668.7,960.6 L1669.5,959.4 L1670.3,959.6 L1671.1,960.1 L1671.9,960.0 L1672.7,960.2 L1673.5,960.4 L1674.3,959.9 L1675.1,960.2 L1675.9,960.1 L1676.7,960.0 L1677.5,960.3 L1678.3,960.5 L1679.1,960.8 L1679.9,959.9 L1680.7,960.6 L1681.5,960.3 L1682.3,960.2 L1683.1,960.1 L1683.9,960.3 L1684.7,960.3 L1685.5,960.2 L1686.3,960.3 L1687.1,959.8 L1687.9,959.9 L1688.7,959.6 L1689.5,960.8 L1690.3,959.3 L1691.1,960.3 L1691.9,959.9 L1692.7,960.8 L1693.5,960.0 L1694.3,960.1 L1695.1,960.5 L1695.9,960.4 L1696.7,960.8 L1697.5,959.1 L1698.3,960.6 L1699.1,960.2 L1699.9,960.3 L1700.7,960.7 L1701.5,960.6 L1702.3,960.3 L1703.1,959.8 L1703.9,960.6 L1704.7,960.5 L1705.5,960.7 L1706.3,960.8 L1707.1,960.2 L1707.9,960.2 L1708.7,960.6 L1709.5,960.6 L1710.3,960.3 L1711.1,960.6 L1711.9,960.6 L1712.7,960.0 L1713.5,960.2 L1714.3,960.1 L1715.1,960.7 L1715.9,961.1 L1716.7,961.0 L1717.5,959.5 L1718.3,960.6 L1719.1,960.9 L1719.9,960.6 L1720.7,960.0 L1721.5,960.7 L1722.3,959.8 L1723.1,960.8 L1723.9,960.5 L1724.7,961.1 L1725.5,960.0 L1726.3,961.0 L1727.1,960.7 L1727.9,961.0 L1728.7,960.7 L1729.5,960.3 L1730.3,960.2 L1731.1,960.8 L1731.9,960.8 L1732.7,960.7 L1733.5,961.2 L1734.3,961.2 L1735.1,960.0 L1735.9,960.1 L1736.7,960.1 L1737.5,960.6 L1738.3,961.0 L1739.1,961.9 L1739.9,960.4 L1740.7,960.5 L1741.5,960.3 L1742.3,960.1 L1743.1,960.1 L1743.9,960.0 L1744.7,960.8 L1745.5,960.4 L1746.3,961.0 L1747.1,960.6 L1747.9,960.8 L1748.7,961.0 L1749.5,961.1 L1750.3,960.6 L1751.1,960.2 L1751.9,960.9 L1752.7,961.2 L1753.5,960.5 L1754.3,960.2 L1755.1,961.1 L1755.9,961.1 L1756.7,960.7 L1757.5,960.2 L1758.3,960.5 L1759.1,961.2 L1759.9,961.1 L1760.7,960.7 L1761.5,960.4 L1762.3,961.8 L1763.1,960.7 L1763.9,960.6 L1764.7,961.0 L1765.5,960.7 L1766.3,961.3 L1767.1,960.5 L1767.9,960.6 L1768.7,961.3 L1769.5,960.3 L1770.3,960.2 L1771.1,961.2 L1771.9,961.2 L1772.7,960.4 L1773.5,960.8 L1774.3,960.8 L1775.1,961.2 L1775.9,961.0 L1776.7,961.5 L1777.5,961.5 L1778.3,960.4 L1779.1,960.7 L1779.9,960.3 L1780.7,960.9 L1781.5,961.2 L1782.3,960.8 L1783.1,961.3 L1783.9,960.6 L1784.7,960.3 L1785.5,961.1 L1786.3,960.3 L1787.1,960.9 L1787.9,960.1 L1788.7,960.4 L1789.5,960.5 L1790.3,960.5 L1791.1,960.9 L1791.9,961.4 L1792.7,961.0 L1793.5,960.7 L1794.3,961.3 L1795.1,960.8 L1795.9,960.9 L1796.7,961.2 L1797.5,961.1 L1798.3,961.0 L1799.1,961.2 L1799.9,961.8 L1800.7,961.4 L1801.5,961.4 L1802.3,961.3 L1803.1,960.4 L1803.9,961.5 L1804.7,960.8 L1805.5,961.4 L1806.3,961.3 L1807.1,961.3 L1807.9,961.4 L1808.7,960.9 L1809.5,961.3 L1810.3,960.5 L1811.1,961.6 L1811.9,961.2 L1812.7,961.1 L1813.5,961.2 L1814.3,961.0 L1815.1,961.5 L1815.9,961.2 L1816.7,961.2 L1817.5,961.2" stroke="#ff0000" stroke-width="9.2"/>
<path d="M186.9,774.7 L187.7,774.6 L188.5,774.6 L189.3,774.6 L190.1,774.5 L190.9,772.1 L191.7,774.8 L192.5,774.7 L193.3,774.4 L194.1,774.1 L194.9,775.3 L195.7,772.5 L196.5,775.2 L197.3,773.9 L198.1,773.3 L198.9,775.0 L199.7,774.7 L200.5,774.3 L201.3,772.7 L202.1,773.8 L202.9,774.5 L203.7,774.0 L204.5,772.2 L205.2,773.3 L206.0,773.1 L206.8,773.7 L207.6,772.6 L208.4,773.5 L209.2,772.2 L210.0,772.5 L210.8,773.4 L211.6,772.1 L212.4,774.0 L213.2,771.1 L214.0,772.6 L214.8,771.5 L215.6,771.4 L216.4,773.0 L217.2,772.7 L218.0,771.1 L218.8,772.5 L219.6,773.8 L220.4,770.0 L221.2,771.2 L222.0,770.7 L222.8,773.2 L223.6,771.8 L224.4,771.0 L225.2,771.2 L226.0,770.3 L226.8,771.4 L227.6,771.7 L228.4,770.4 L229.2,771.8 L230.0,772.2 L230.8,770.1 L231.5,770.7 L232.3,770.4 L233.1,772.5 L233.9,770.9 L234.7,769.6 L235.5,769.6 L236.3,770.0 L237.1,768.9 L237.9,770.1 L238.7,771.2 L239.5,768.8 L240.3,770.2 L241.1,769.6 L241.9,769.9 L242.7,769.0 L243.5,769.9 L244.3,768.5 L245.0,769.4 L245.8,768.9 L246.6,769.8 L247.4,768.5 L248.2,767.6 L249.0,768.4 L249.8,767.8 L250.5,769.2 L251.3,768.5 L252.1,767.5 L252.8,768.8 L253.6,767.7 L254.4,767.0 L255.1,765.1 L255.9,767.5 L256.6,766.7 L257.4,765.7 L258.1,765.8 L258.9,765.1 L259.6,764.8 L260.4,764.8 L261.1,765.3 L261.8,764.7 L262.6,763.8 L263.3,763.3 L264.0,763.2 L264.7,763.2 L265.5,762.5 L266.2,761.9 L266.9,761.7 L267.5,761.2 L268.2,761.0 L268.9,760.4 L269.7,760.0 L270.4,760.8 L271.1,759.3 L271.8,759.6 L272.6,759.5 L273.3,758.0 L274.1,759.8 L274.9,757.9 L275.6,757.5 L276.4,757.6 L277.1,758.4 L277.9,757.2 L278.7,757.3 L279.5,756.8 L280.2,756.7 L281.0,756.2 L281.8,755.5 L282.6,756.4 L283.4,756.9 L284.2,756.9 L285.0,757.1 L285.8,757.3 L286.6,757.8 L287.4,757.3 L288.2,757.3 L289.0,757.1 L289.8,755.9 L290.6,756.2 L291.4,755.9 L292.2,756.8 L293.0,755.8 L293.8,757.2 L294.6,757.0 L295.4,758.2 L296.2,756.8 L297.0,757.0 L297.8,758.1 L298.6,756.5 L299.4,756.8 L300.2,757.3 L301.0,756.4 L301.8,756.3 L302.6,755.6 L303.4,757.8 L304.2,757.0 L305.0,756.0 L305.8,758.0 L306.6,758.2 L307.4,759.1 L308.2,756.0 L309.0,758.3 L309.8,758.6 L310.6,758.5 L311.4,757.2 L312.2,758.3 L313.0,759.5 L313.8,757.8 L314.6,758.5 L315.4,759.1 L316.2,759.0 L316.9,757.7 L317.7,759.4 L318.5,757.9 L319.3,757.5 L320.1,759.5 L320.9,757.0 L321.7,758.7 L322.5,760.3 L323.3,759.6 L324.1,758.8 L324.9,759.7 L325.7,759.8 L326.5,758.5 L327.3,758.9 L328.1,760.4 L328.9,759.0 L329.7,759.4 L330.5,760.2 L331.3,759.8 L332.1,760.0 L332.9,760.6 L333.7,759.6 L334.5,759.1 L335.3,760.4 L336.1,759.9 L336.9,759.5 L337.7,760.8 L338.5,761.3 L339.3,760.7 L340.1,760.9 L340.9,759.2 L341.7,760.4 L342.5,759.8 L343.3,761.0 L344.1,760.8 L344.9,760.3 L345.7,761.0 L346.5,759.4 L347.3,761.3 L348.1,762.4 L348.9,762.5 L349.7,761.7 L350.5,761.3 L351.3,760.6 L352.0,761.9 L352.8,760.9 L353.6,761.3 L354.4,760.3 L355.2,762.7 L356.0,759.9 L356.8,763.0 L357.6,761.4 L358.4,762.2 L359.2,760.8 L360.0,761.1 L360.8,762.1 L361.6,762.6 L362.4,761.8 L363.2,760.4 L364.0,760.7 L364.8,763.6 L365.6,761.0 L366.4,760.4 L367.2,763.3 L368.0,762.3 L368.8,762.6 L369.6,763.2 L370.4,762.4 L371.2,761.7 L372.0,760.7 L372.8,762.6 L373.6,761.7 L374.4,761.9 L375.2,762.8 L376.0,760.1 L376.8,761.4 L377.6,760.7 L378.4,761.9 L379.2,761.2 L380.0,760.2 L380.8,761.2 L381.6,760.6 L382.4,761.0 L383.2,761.8 L384.0,761.1 L384.8,760.4 L385.6,761.1 L386.4,761.7 L387.2,762.1 L388.0,761.6 L388.8,762.0 L389.6,762.2 L390.4,763.1 L391.2,760.3 L392.0,762.1 L392.8,761.9 L393.6,761.0 L394.4,762.2 L395.2,760.5 L396.0,762.9 L396.8,762.8 L397.6,762.1 L398.4,759.8 L399.2,761.8 L400.0,761.4 L400.8,763.8 L401.6,761.8 L402.4,759.6 L403.2,760.9 L404.0,762.5 L404.8,761.4 L405.6,760.3 L406.4,761.3 L407.2,761.6 L408.0,761.7 L408.8,761.2 L409.6,760.9 L410.4,760.3 L411.2,761.2 L412.0,760.9 L412.8,761.0 L413.6,760.3 L414.4,761.1 L415.2,760.0 L416.0,761.5 L416.8,760.8 L417.6,761.0 L418.4,760.0 L419.2,761.3 L420.0,760.4 L420.8,759.6 L421.6,759.7 L422.3,759.6 L423.1,759.5 L423.9,759.0 L424.7,759.9 L425.5,758.8 L426.3,759.1 L427.1,759.0 L427.9,759.1 L428.7,759.3 L429.5,758.8 L430.3,758.8 L431.1,757.9 L431.9,759.3 L432.7,758.9 L433.4,759.4 L434.2,758.5 L435.0,759.0 L435.8,757.9 L436.6,758.8 L437.4,757.9 L438.2,758.0 L439.0,757.4 L439.8,758.7 L440.6,758.2 L441.4,757.7 L442.2,758.8 L443.0,757.5 L443.8,757.0 L444.6,756.5 L445.4,757.7 L446.2,758.6 L447.0,757.9 L447.8,757.4 L448.6,756.0 L449.4,757.8 L450.2,758.7 L451.0,756.8 L451.8,758.5 L452.6,757.5 L453.4,758.8 L454.2,758.1 L455.0,759.3 L455.8,758.6 L456.6,758.6 L457.4,758.3 L458.2,758.0 L459.0,757.9 L459.8,758.5 L460.6,757.3 L461.4,756.1 L462.2,758.3 L463.0,759.9 L463.8,757.6 L464.6,759.5 L465.4,759.5 L466.2,758.7 L467.0,758.1 L467.8,758.8 L468.6,758.1 L469.4,757.5 L470.2,758.6 L471.0,760.3 L471.8,758.9 L472.6,759.8 L473.4,759.6 L474.2,758.1 L475.0,760.5 L475.8,758.2 L476.6,760.7 L477.4,759.3 L478.2,758.9 L479.0,759.0 L479.8,759.9 L480.6,760.4 L481.4,759.3 L482.2,760.6 L483.0,758.6 L483.8,759.6 L484.6,760.1 L485.4,759.8 L486.2,759.0 L487.0,758.7 L487.8,759.2 L488.6,761.0 L489.3,759.6 L490.1,760.1 L490.9,761.0 L491.7,761.2 L492.5,760.9 L493.3,761.1 L494.1,760.0 L494.9,761.7 L495.7,761.2 L496.5,759.8 L497.3,761.8 L498.1,760.8 L498.9,762.6 L499.7,762.1 L500.5,760.7 L501.3,761.9 L502.1,761.4 L502.9,761.9 L503.7,762.4 L504.5,762.2 L505.3,760.7 L506.1,762.6 L506.9,761.3 L507.7,761.2 L508.5,761.9 L509.3,761.5 L510.1,762.5 L510.9,762.8 L511.7,762.4 L512.5,761.6 L513.3,761.3 L514.1,763.3 L514.9,760.7 L515.7,762.9 L516.5,762.4 L517.3,761.1 L518.1,763.0 L518.9,762.6 L519.7,762.3 L520.5,762.8 L521.3,760.6 L522.1,762.3 L522.9,763.2 L523.7,761.8 L524.5,762.0 L525.3,762.6 L526.1,761.8 L526.9,761.9 L527.7,762.2 L528.5,762.3 L529.3,762.7 L530.1,761.9 L530.9,761.0 L531.7,763.5 L532.5,761.9 L533.3,762.3 L534.1,761.4 L534.9,761.8 L535.7,761.4 L536.5,762.7 L537.3,762.6 L538.1,762.2 L538.9,763.2 L539.7,762.7 L540.5,761.2 L541.3,763.8 L542.1,762.5 L542.9,763.6 L543.7,761.6 L544.5,762.9 L545.3,762.3 L546.1,761.0 L546.9,762.1 L547.7,761.6 L548.5,762.3 L549.3,761.3 L550.1,760.9 L550.9,761.1 L551.7,760.5 L552.5,761.5 L553.3,763.4 L554.1,762.8 L554.9,761.2 L555.7,763.3 L556.5,761.8 L557.3,759.6 L558.1,761.8 L558.9,760.8 L559.7,762.8 L560.5,761.1 L561.3,763.1 L562.1,762.1 L562.9,762.5 L563.7,761.6 L564.5,761.4 L565.3,762.6 L566.1,762.6 L566.9,760.4 L567.7,761.8 L568.5,761.3 L569.3,762.3 L570.1,760.9 L570.9,762.7 L571.7,763.5 L572.5,762.4 L573.3,761.5 L574.1,761.0 L574.9,762.5 L575.7,762.3 L576.5,763.0 L577.3,762.7 L578.1,760.7 L578.9,761.6 L579.7,762.3 L580.5,761.0 L581.3,763.2 L582.1,763.0 L582.9,763.0 L583.7,762.2 L584.5,763.1 L585.3,762.3 L586.1,763.5 L586.9,764.1 L587.7,762.2 L588.5,762.4 L589.3,763.7 L590.1,763.4 L590.9,762.9 L591.7,762.3 L592.5,762.3 L593.3,760.8 L594.1,762.3 L594.9,761.8 L595.7,762.9 L596.5,762.3 L597.3,761.5 L598.1,763.4 L598.9,763.1 L599.7,762.2 L600.5,762.0 L601.3,761.2 L602.1,762.5 L602.9,764.4 L603.7,763.1 L604.5,763.2 L605.3,761.5 L606.1,761.7 L606.9,761.3 L607.7,762.8 L608.5,760.2 L609.3,762.9 L610.1,761.9 L610.9,763.1 L611.7,760.8 L612.5,762.0 L613.3,762.3 L614.1,762.5 L614.9,761.4 L615.7,762.9 L616.5,762.7 L617.3,760.3 L618.1,762.4 L618.9,761.5 L619.7,762.9 L620.5,760.7 L621.3,761.2 L622.1,763.8 L622.9,763.1 L623.7,763.1 L624.5,762.0 L625.3,761.8 L626.1,762.3 L626.9,763.1 L627.7,761.5 L628.5,762.5 L629.3,762.1 L630.1,761.0 L630.9,762.1 L631.7,762.1 L632.5,763.5 L633.3,762.7 L634.1,762.5 L634.9,761.0 L635.7,761.4 L636.5,762.7 L637.3,761.5 L638.1,761.3 L638.9,761.7 L639.7,762.8 L640.5,761.7 L641.3,762.1 L642.1,761.8 L642.9,761.0 L643.7,762.3 L644.5,760.8 L645.3,760.8 L646.1,762.6 L646.9,760.9 L647.7,762.1 L648.5,762.4 L649.3,761.9 L650.1,760.6 L650.9,762.8 L651.7,760.7 L652.5,760.6 L653.3,761.1 L654.1,762.2 L654.9,760.8 L655.7,761.4 L656.5,760.6 L657.3,761.8 L658.1,761.5 L658.9,760.5 L659.6,760.5 L660.4,759.7 L661.2,759.7 L662.0,761.1 L662.8,760.3 L663.6,760.5 L664.4,759.8 L665.2,760.2 L666.0,759.3 L666.8,760.2 L667.6,761.3 L668.4,760.8 L669.2,759.4 L669.9,759.1 L670.7,759.1 L671.5,757.5 L672.3,758.5 L673.1,759.0 L673.9,758.7 L674.6,758.9 L675.4,757.6 L676.2,757.7 L676.9,756.8 L677.7,756.7 L678.5,757.4 L679.3,756.6 L680.0,756.6 L680.8,756.7 L681.6,756.3 L682.3,756.6 L683.1,755.2 L683.8,755.6 L684.6,755.8 L685.4,754.7 L686.1,754.8 L686.9,755.1 L687.6,753.8 L688.4,753.9 L689.1,753.2 L689.9,753.1 L690.6,753.4 L691.4,753.4 L692.1,752.6 L692.8,752.3 L693.6,751.7 L694.3,752.5 L695.0,751.3 L695.8,750.3 L696.5,751.0 L697.2,750.3 L697.9,749.5 L698.7,749.4 L699.4,749.9 L700.1,748.3 L700.8,748.7 L701.5,748.2 L702.2,748.3 L702.9,747.3 L703.6,746.3 L704.3,747.2 L704.9,745.3 L705.6,745.2 L706.3,745.2 L707.0,744.2 L707.6,744.5 L708.3,744.5 L709.0,743.2 L709.6,743.6 L710.3,742.5 L711.0,741.8 L711.6,741.6 L712.3,741.6 L712.9,740.1 L713.6,739.8 L714.2,739.8 L714.9,739.1 L715.5,739.2 L716.2,737.9 L716.8,737.6 L717.4,737.4 L718.1,736.2 L718.7,736.6 L719.3,735.9 L719.9,735.4 L720.5,735.3 L721.2,734.1 L721.8,733.1 L722.4,733.4 L722.9,732.3 L723.5,732.6 L724.1,731.5 L724.7,730.6 L725.2,730.0 L725.8,729.8 L726.3,729.4 L726.9,728.8 L727.4,728.1 L727.9,727.6 L728.4,727.1 L728.9,726.5 L729.4,726.0 L729.8,724.9 L730.3,724.6 L730.8,723.7 L731.2,723.6 L731.6,722.5 L732.1,721.4 L732.5,720.5 L732.9,720.6 L733.3,719.4 L733.7,719.4 L734.1,718.2 L734.5,717.7 L734.9,716.8 L735.3,715.9 L735.7,715.0 L736.1,714.5 L736.5,714.0 L736.9,713.5 L737.2,712.3 L737.6,712.2 L738.0,711.3 L738.4,710.5 L738.7,709.9 L739.1,709.1 L739.5,708.5 L739.8,707.6 L740.2,707.1 L740.5,706.1 L740.9,705.8 L741.2,704.8 L741.6,704.1 L741.9,703.3 L742.2,702.5 L742.6,701.8 L742.9,701.3 L743.2,700.5 L743.5,699.6 L743.9,699.2 L744.2,698.5 L744.5,697.6 L744.8,696.8 L745.1,695.6 L745.4,695.2 L745.7,694.5 L746.0,693.8 L746.3,693.1 L746.6,692.6 L746.9,691.6 L747.2,691.1 L747.5,689.8 L747.8,689.6 L748.1,688.7 L748.4,687.7 L748.7,687.1 L749.0,686.2 L749.3,685.7 L749.6,685.1 L749.9,684.2 L750.2,683.5 L750.4,682.6 L750.7,681.7 L751.0,681.1 L751.3,680.4 L751.6,679.7 L751.9,679.0 L752.1,677.7 L752.4,677.3 L752.7,676.6 L753.0,676.2 L753.3,675.1 L753.5,674.3 L753.8,673.7 L754.1,672.8 L754.4,672.0 L754.6,671.3 L754.9,670.5 L755.2,669.8 L755.5,669.2 L755.8,668.2 L756.0,667.7 L756.3,667.0 L756.6,666.0 L756.9,665.2 L757.2,664.5 L757.6,664.0 L757.9,663.1 L758.2,662.6 L758.5,661.7 L758.9,661.0 L759.2,660.5 L759.9,660.6 L760.7,660.6 L761.3,661.7 L762.0,662.1 L762.7,662.1 L763.3,663.2 L763.9,662.8 L764.4,664.1 L765.0,664.7 L765.5,665.3 L765.9,665.4 L766.4,666.9 L766.8,667.0 L767.2,667.8 L767.6,668.5 L768.0,669.0 L768.3,669.8 L768.7,670.5 L769.0,671.2 L769.3,672.3 L769.7,672.5 L769.9,673.6 L770.2,674.5 L770.5,675.3 L770.7,675.9 L770.9,676.7 L771.1,677.6 L771.3,678.3 L771.5,679.0 L771.7,679.8 L771.9,680.6 L772.0,681.4 L772.2,682.1 L772.4,682.8 L772.5,683.8 L772.7,684.5 L772.8,685.2 L773.0,686.2 L773.1,686.8 L773.3,687.7 L773.4,688.4 L773.6,689.2 L773.8,690.1 L773.9,690.6 L774.1,691.6 L774.2,692.3 L774.4,693.1 L774.5,693.9 L774.7,694.8 L774.9,695.4 L775.1,696.2 L775.2,697.0 L775.4,697.8 L775.6,698.6 L775.8,699.5 L776.0,700.1 L776.2,700.9 L776.5,701.8 L776.7,702.3 L776.9,703.3 L777.2,703.8 L777.4,704.8 L777.7,705.8 L778.0,706.4 L778.2,707.1 L778.5,707.5 L778.8,708.3 L779.1,709.4 L779.4,710.0 L779.6,710.7 L779.9,711.5 L780.2,712.3 L780.5,712.9 L780.8,713.7 L781.1,714.5 L781.4,715.7 L781.7,715.7 L781.9,716.7 L782.2,717.4 L782.5,718.3 L782.8,719.1 L783.1,719.9 L783.4,720.7 L783.7,721.0 L784.0,721.8 L784.3,722.5 L784.6,723.4 L784.9,723.8 L785.2,724.7 L785.5,725.9 L785.9,726.5 L786.2,726.9 L786.6,727.3 L786.9,728.7 L787.3,728.9 L787.7,729.7 L788.1,730.8 L788.5,731.2 L788.9,732.0 L789.4,732.8 L789.8,733.7 L790.2,733.6 L790.7,734.8 L791.2,735.2 L791.6,735.7 L792.1,737.0 L792.6,737.7 L793.1,737.7 L793.5,738.6 L794.0,739.3 L794.5,739.8 L795.0,740.1 L795.5,740.9 L796.0,741.8 L796.5,742.3 L797.0,742.9 L797.5,743.6 L798.0,744.2 L798.5,744.5 L799.0,745.0 L799.5,745.8 L800.0,746.6 L800.6,746.6 L801.1,747.6 L801.6,748.2 L802.2,749.0 L802.7,749.6 L803.2,750.1 L803.8,750.5 L804.4,751.2 L804.9,752.1 L805.5,751.8 L806.1,753.0 L806.7,753.8 L807.3,754.3 L807.9,754.8 L808.5,755.0 L809.1,755.5 L809.8,755.9 L810.4,756.9 L811.0,757.1 L811.7,758.2 L812.4,758.5 L813.0,758.1 L813.7,759.2 L814.4,759.2 L815.1,759.4 L815.8,759.8 L816.5,760.2 L817.2,761.0 L817.9,761.1 L818.6,760.8 L819.4,760.6 L820.1,762.4 L820.9,762.8 L821.6,762.9 L822.4,762.9 L823.1,762.7 L823.9,762.9 L824.6,764.2 L825.4,763.9 L826.2,764.3 L826.9,764.5 L827.7,764.6 L828.5,764.2 L829.3,764.8 L830.0,764.3 L830.8,765.9 L831.6,766.7 L832.4,765.3 L833.1,765.1 L833.9,766.1 L834.7,766.4 L835.5,766.6 L836.3,766.4 L837.1,766.5 L837.9,766.4 L838.6,767.3 L839.4,767.0 L840.2,767.1 L841.0,767.0 L841.8,767.3 L842.6,768.1 L843.4,768.1 L844.2,767.9 L844.9,768.6 L845.7,769.5 L846.5,770.2 L847.3,768.8 L848.1,769.3 L848.9,769.9 L849.7,768.7 L850.5,769.1 L851.3,768.7 L852.1,769.4 L852.9,769.8 L853.6,769.9 L854.4,768.8 L855.2,769.9 L856.0,770.1 L856.8,770.5 L857.6,770.0 L858.4,769.4 L859.2,770.5 L860.0,770.2 L860.8,770.6 L861.6,769.8 L862.4,771.4 L863.2,769.7 L864.0,771.1 L864.8,771.1 L865.6,770.8 L866.4,770.9 L867.2,770.7 L868.0,770.7 L868.8,771.7 L869.6,771.6 L870.4,771.7 L871.1,770.2 L871.9,771.1 L872.7,770.5 L873.5,772.2 L874.3,771.4 L875.1,771.5 L875.9,771.8 L876.7,772.2 L877.5,772.1 L878.3,771.5 L879.1,771.7 L879.9,772.0 L880.7,771.4 L881.5,771.3 L882.3,771.9 L883.1,772.6 L883.9,772.7 L884.7,771.3 L885.5,772.4 L886.3,772.4 L887.1,772.8 L887.9,772.1 L888.7,772.6 L889.5,773.7 L890.3,772.2 L891.1,772.3 L891.9,772.7 L892.7,772.9 L893.5,772.1 L894.3,773.0 L895.1,773.0 L895.9,773.2 L896.7,773.1 L897.5,773.2 L898.3,772.6 L899.1,773.5 L899.9,773.4 L900.7,772.5 L901.5,773.9 L902.3,773.1 L903.1,773.4 L903.9,773.4 L904.7,773.5 L905.5,773.6 L906.3,772.9 L907.1,773.7 L907.9,773.2 L908.7,773.3 L909.5,773.3 L910.3,773.5 L911.1,774.5 L911.9,774.7 L912.7,774.3 L913.5,772.9 L914.3,773.4 L915.1,773.5 L915.9,773.7 L916.7,774.1 L917.5,774.5 L918.3,774.6 L919.1,773.7 L919.9,774.1 L920.7,774.4 L921.5,774.7 L922.3,773.5 L923.1,773.7 L923.9,774.2 L924.7,773.7 L925.5,774.5 L926.2,774.4 L927.0,775.0 L927.8,774.2 L928.6,774.6 L929.4,774.7 L930.2,774.3 L931.0,775.2 L931.8,774.7 L932.6,775.1 L933.4,775.0 L934.2,775.4 L935.0,774.9 L935.8,775.5 L936.6,775.0 L937.4,774.7 L938.2,775.2 L939.0,775.1 L939.8,775.0 L940.6,774.8 L941.4,774.6 L942.2,774.7 L943.0,775.5 L943.8,775.3 L944.6,774.7 L945.4,775.1 L946.2,775.3 L947.0,775.4 L947.8,775.9 L948.6,775.9 L949.4,775.2 L950.2,775.2 L951.0,776.0 L951.8,775.4 L952.6,775.3 L953.4,774.9 L954.2,775.1 L955.0,775.8 L955.8,776.1 L956.6,776.5 L957.4,775.2 L958.2,776.0 L959.0,775.8 L959.8,776.0 L960.6,776.5 L961.4,775.9 L962.2,776.0 L963.0,774.7 L963.8,775.9 L964.6,775.4 L965.4,775.3 L966.2,776.1 L967.0,776.9 L967.8,775.8 L968.6,775.6 L969.4,775.6 L970.2,775.1 L971.0,776.0 L971.8,776.4 L972.6,776.2 L973.4,775.9 L974.2,775.8 L975.0,775.6 L975.8,776.1 L976.6,776.3 L977.4,776.8 L978.2,776.1 L979.0,776.8 L979.8,776.1 L980.6,776.4 L981.4,776.4 L982.2,776.0 L983.0,775.9 L983.8,776.5 L984.6,776.6 L985.4,776.4 L986.2,776.2 L987.0,776.2 L987.8,776.3 L988.6,776.3 L989.4,776.5 L990.2,776.4 L991.0,775.9 L991.8,775.7 L992.6,777.0 L993.4,776.7 L994.2,776.3 L995.0,775.9 L995.8,776.4 L996.6,776.2 L997.4,777.3 L998.2,776.3 L999.0,776.8 L999.8,776.7 L1000.6,776.4 L1001.4,776.3 L1002.2,776.4 L1003.0,777.0 L1003.8,776.4 L1004.6,777.3 L1005.4,777.0 L1006.2,776.0 L1007.0,776.6 L1007.8,776.3 L1008.6,777.2 L1009.4,776.8 L1010.2,776.8 L1011.0,776.4 L1011.8,777.3 L1012.6,776.5 L1013.4,776.9 L1014.2,776.7 L1015.0,776.8 L1015.8,776.8 L1016.6,777.6 L1017.4,776.9 L1018.2,776.3 L1019.0,776.6 L1019.8,776.7 L1020.6,777.2 L1021.4,776.5 L1022.2,776.7 L1023.0,776.2 L1023.8,776.6 L1024.6,777.5 L1025.4,776.6 L1026.2,776.9 L1027.0,777.2 L1027.8,777.7 L1028.6,777.2 L1029.4,777.7 L1030.2,777.0 L1031.0,777.1 L1031.8,776.6 L1032.6,776.6 L1033.4,776.6 L1034.2,776.6 L1035.0,776.0 L1035.8,776.7 L1036.6,776.3 L1037.4,777.4 L1038.2,777.2 L1039.0,777.5 L1039.8,776.9 L1040.6,777.0 L1041.4,777.6 L1042.2,776.6 L1043.0,776.9 L1043.8,776.6 L1044.6,777.1 L1045.4,777.3 L1046.2,777.4 L1047.0,777.3 L1047.8,776.9 L1048.6,776.5 L1049.4,777.0 L1050.2,777.2 L1051.0,777.6 L1051.8,776.8 L1052.6,777.0 L1053.4,776.8 L1054.2,777.7 L1055.0,777.1 L1055.8,776.9 L1056.6,777.4 L1057.4,777.5 L1058.2,777.0 L1059.0,778.1 L1059.8,776.8 L1060.6,776.7 L1061.4,776.6 L1062.2,777.7 L1063.0,776.5 L1063.8,776.7 L1064.6,777.1 L1065.4,777.4 L1066.2,776.7 L1067.0,777.4 L1067.8,777.4 L1068.6,777.5 L1069.4,777.5 L1070.2,777.6 L1071.0,776.2 L1071.8,777.9 L1072.6,777.5 L1073.4,777.0 L1074.2,777.2 L1075.0,777.7 L1075.8,777.2 L1076.6,777.1 L1077.4,777.7 L1078.2,777.1 L1079.0,777.5 L1079.8,777.8 L1080.6,777.5 L1081.4,776.9 L1082.2,777.6 L1083.0,777.5 L1083.8,777.6 L1084.6,777.6 L1085.4,777.7 L1086.2,777.5 L1087.0,776.7 L1087.8,777.1 L1088.6,777.2 L1089.4,776.9 L1090.2,777.8 L1091.0,777.6 L1091.8,778.1 L1092.6,777.8 L1093.4,777.4 L1094.2,777.4 L1095.0,778.0 L1095.8,776.5 L1096.6,777.3 L1097.4,777.2 L1098.2,777.4 L1099.0,777.1 L1099.8,777.4 L1100.6,777.0 L1101.4,776.6 L1102.2,777.7 L1103.0,777.2 L1103.8,778.2 L1104.6,777.6 L1105.4,777.1 L1106.2,777.3 L1107.0,777.3 L1107.8,777.8 L1108.6,777.4 L1109.4,776.8 L1110.2,777.5 L1111.0,777.2 L1111.8,778.2 L1112.6,776.8 L1113.4,777.2 L1114.2,777.3 L1115.0,777.0 L1115.8,777.3 L1116.6,777.6 L1117.4,777.0 L1118.2,778.2 L1119.0,778.0 L1119.8,776.8 L1120.6,777.3 L1121.4,777.2 L1122.2,777.9 L1123.0,777.1 L1123.8,777.2 L1124.6,777.9 L1125.4,778.0 L1126.2,777.6 L1127.0,777.7 L1127.8,777.0 L1128.6,777.4 L1129.4,777.7 L1130.2,777.6 L1131.0,778.1 L1131.8,778.4 L1132.6,777.2 L1133.4,777.1 L1134.2,776.7 L1135.0,777.8 L1135.8,777.5 L1136.6,778.3 L1137.4,777.3 L1138.2,777.6 L1139.0,777.2 L1139.8,778.1 L1140.6,778.1 L1141.4,778.7 L1142.2,777.0 L1143.0,778.0 L1143.8,778.0 L1144.6,777.1 L1145.4,777.5 L1146.2,778.0 L1147.0,777.3 L1147.8,777.6 L1148.6,777.6 L1149.4,777.5 L1150.2,777.2 L1151.0,777.1 L1151.8,778.0 L1152.6,777.1 L1153.4,777.1 L1154.2,777.9 L1155.0,777.5 L1155.8,777.6 L1156.6,777.8 L1157.4,777.2 L1158.2,777.5 L1159.0,778.0 L1159.8,777.7 L1160.6,778.5 L1161.4,778.6 L1162.2,778.3 L1163.0,777.6 L1163.8,777.0 L1164.6,778.6 L1165.4,778.0 L1166.2,777.7 L1167.0,777.5 L1167.8,777.8 L1168.6,778.3 L1169.4,777.2 L1170.2,777.6 L1171.0,777.0 L1171.8,777.4 L1172.6,778.2 L1173.4,778.1 L1174.2,777.8 L1175.0,777.9 L1175.8,778.1 L1176.6,777.3 L1177.4,777.5 L1178.2,778.0 L1179.0,777.4 L1179.8,777.7 L1180.6,778.0 L1181.4,777.8 L1182.2,777.7 L1183.0,777.6 L1183.8,778.8 L1184.6,777.2 L1185.4,778.0 L1186.2,778.0 L1187.0,777.6 L1187.8,778.4 L1188.6,777.3 L1189.4,777.4 L1190.2,778.4 L1191.0,778.2 L1191.8,778.8 L1192.6,777.9 L1193.4,777.7 L1194.2,777.8 L1195.0,777.9 L1195.8,777.2 L1196.6,777.9 L1197.4,778.5 L1198.2,778.6 L1199.0,777.6 L1199.8,778.2 L1200.6,777.4 L1201.4,777.3 L1202.2,778.2 L1203.0,778.5 L1203.8,778.6 L1204.6,778.9 L1205.4,777.9 L1206.2,777.5 L1207.0,777.9 L1207.8,778.3 L1208.6,778.1 L1209.4,778.2 L1210.2,778.2 L1211.0,778.0 L1211.8,778.0 L1212.6,777.2 L1213.4,778.0 L1214.2,778.7 L1215.0,777.7 L1215.8,777.3 L1216.6,777.7 L1217.4,778.5 L1218.2,778.5 L1219.0,777.7 L1219.8,778.5 L1220.6,778.1 L1221.4,777.6 L1222.3,778.4 L1223.1,778.3 L1223.9,777.7 L1224.7,777.6 L1225.5,777.8 L1226.3,778.0 L1227.1,777.7 L1227.9,777.8 L1228.7,777.5 L1229.5,777.8 L1230.3,778.7 L1231.1,778.5 L1231.9,777.5 L1232.7,778.3 L1233.5,778.2 L1234.3,778.1 L1235.1,777.8 L1235.9,778.6 L1236.7,778.0 L1237.5,778.0 L1238.3,778.4 L1239.1,778.5 L1239.9,777.9 L1240.7,777.7 L1241.5,777.9 L1242.3,777.5 L1243.1,777.3 L1243.9,778.1 L1244.7,778.2 L1245.5,778.4 L1246.3,778.3 L1247.1,778.1 L1247.9,777.4 L1248.7,778.1 L1249.5,777.9 L1250.3,777.8 L1251.1,778.6 L1251.9,777.9 L1252.7,778.5 L1253.5,778.7 L1254.3,778.3 L1255.1,777.7 L1255.9,777.7 L1256.7,778.0 L1257.5,778.3 L1258.3,778.3 L1259.1,778.0 L1259.9,778.4 L1260.7,777.9 L1261.5,777.4 L1262.3,778.2 L1263.1,777.8 L1263.9,778.3 L1264.7,778.6 L1265.5,778.5 L1266.3,778.4 L1267.1,777.8 L1267.9,778.5 L1268.7,777.3 L1269.5,777.8 L1270.3,778.3 L1271.1,777.5 L1271.9,778.1 L1272.7,778.4 L1273.5,778.2 L1274.3,778.7 L1275.1,778.5 L1275.9,778.2 L1276.7,778.1 L1277.5,778.5 L1278.3,778.8 L1279.1,778.4 L1279.9,777.8 L1280.7,779.0 L1281.5,778.7 L1282.3,778.1 L1283.1,778.6 L1283.9,778.6 L1284.7,778.4 L1285.5,778.4 L1286.3,777.8 L1287.1,778.4 L1287.9,778.2 L1288.7,778.2 L1289.5,778.1 L1290.3,778.3 L1291.1,778.0 L1291.9,778.2 L1292.7,779.2 L1293.5,779.2 L1294.3,778.0 L1295.1,778.1 L1295.9,778.7 L1296.7,779.1 L1297.5,778.3 L1298.3,778.2 L1299.1,779.0 L1299.9,778.5 L1300.7,778.6 L1301.5,778.1 L1302.3,777.8 L1303.1,778.5 L1303.9,778.4 L1304.7,778.7 L1305.5,779.0 L1306.3,778.5 L1307.1,778.3 L1307.9,778.4 L1308.7,778.5 L1309.5,778.4 L1310.3,778.8 L1311.1,778.7 L1311.9,778.4 L1312.7,779.1 L1313.5,778.5 L1314.3,778.4 L1315.1,778.4 L1315.9,778.2 L1316.7,778.5 L1317.5,779.1 L1318.3,778.8 L1319.1,778.2 L1319.9,778.6 L1320.7,778.8 L1321.5,778.5 L1322.3,778.8 L1323.1,778.2 L1323.9,778.7 L1324.7,779.0 L1325.5,778.1 L1326.3,778.4 L1327.1,778.7 L1327.9,778.7 L1328.7,778.6 L1329.5,778.6 L1330.3,779.4 L1331.1,778.8 L1331.9,779.2 L1332.7,778.9 L1333.5,779.4 L1334.3,778.4 L1335.1,778.6 L1335.9,778.5 L1336.7,778.7 L1337.5,778.4 L1338.3,778.7 L1339.1,778.7 L1339.9,779.4 L1340.7,778.6 L1341.5,778.8 L1342.3,779.0 L1343.1,778.5 L1343.9,778.8 L1344.7,778.5 L1345.5,779.0 L1346.3,779.2 L1347.1,778.6 L1347.9,778.5 L1348.7,778.9 L1349.5,778.9 L1350.3,779.5 L1351.1,778.6 L1351.9,778.3 L1352.7,779.3 L1353.5,778.9 L1354.3,778.5 L1355.1,779.3 L1355.9,778.6 L1356.7,779.1 L1357.5,778.8 L1358.3,779.1 L1359.1,779.2 L1359.9,779.0 L1360.7,779.5 L1361.5,779.0 L1362.3,779.1 L1363.1,779.5 L1363.9,778.3 L1364.7,778.7 L1365.5,779.9 L1366.3,779.6 L1367.1,779.1 L1367.9,779.6 L1368.7,779.1 L1369.5,779.0 L1370.3,779.3 L1371.1,779.3 L1371.9,779.2 L1372.7,779.5 L1373.5,779.0 L1374.3,779.3 L1375.1,778.9 L1375.9,778.5 L1376.7,778.3 L1377.5,779.9 L1378.3,780.1 L1379.1,779.8 L1379.9,778.9 L1380.7,779.6 L1381.5,779.5 L1382.3,779.7 L1383.1,779.2 L1383.9,779.3 L1384.7,779.3 L1385.5,779.0 L1386.3,778.7 L1387.1,779.4 L1387.9,779.2 L1388.7,779.6 L1389.5,779.0 L1390.3,779.1 L1391.1,779.7 L1391.9,779.9 L1392.7,780.0 L1393.5,779.1 L1394.3,780.4 L1395.1,779.7 L1395.9,778.8 L1396.7,779.0 L1397.5,779.6 L1398.3,779.7 L1399.1,779.8 L1399.9,779.8 L1400.7,779.3 L1401.5,779.4 L1402.3,779.5 L1403.1,779.8 L1403.9,779.6 L1404.7,779.5 L1405.5,779.7 L1406.3,779.2 L1407.1,779.5 L1407.9,779.4 L1408.7,779.2 L1409.5,780.1 L1410.3,779.7 L1411.1,779.5 L1411.9,779.8 L1412.7,780.1 L1413.5,779.5 L1414.3,779.2 L1415.1,779.8 L1415.9,779.4 L1416.7,779.6 L1417.5,779.2 L1418.3,779.4 L1419.1,779.9 L1419.9,780.1 L1420.7,779.9 L1421.5,780.0 L1422.3,779.7 L1423.1,779.5 L1423.9,779.8 L1424.7,779.3 L1425.5,780.1 L1426.3,779.3 L1427.1,780.1 L1427.9,779.7 L1428.7,779.5 L1429.5,779.7 L1430.3,780.4 L1431.1,780.1 L1431.9,779.7 L1432.7,780.0 L1433.5,779.7 L1434.3,779.1 L1435.1,779.5 L1435.9,779.7 L1436.7,780.0 L1437.5,780.6 L1438.3,780.6 L1439.1,779.9 L1439.9,779.9 L1440.7,780.1 L1441.5,779.7 L1442.3,779.8 L1443.1,780.1 L1443.9,779.3 L1444.7,780.2 L1445.5,780.1 L1446.3,780.0 L1447.1,779.6 L1447.9,779.9 L1448.7,780.6 L1449.5,779.9 L1450.3,780.2 L1451.1,780.3 L1451.9,779.8 L1452.7,779.9 L1453.5,779.5 L1454.3,780.3 L1455.1,779.6 L1455.9,780.0 L1456.7,779.8 L1457.5,779.8 L1458.3,780.1 L1459.1,780.5 L1459.9,780.2 L1460.7,780.0 L1461.5,780.0 L1462.3,780.0 L1463.1,780.1 L1463.9,780.6 L1464.7,780.3 L1465.5,780.1 L1466.3,781.1 L1467.1,780.4 L1467.9,780.1 L1468.7,779.9 L1469.5,780.5 L1470.3,780.8 L1471.1,780.0 L1471.9,780.3 L1472.7,780.3 L1473.5,780.5 L1474.3,780.8 L1475.1,779.3 L1475.9,780.8 L1476.7,779.6 L1477.5,780.4 L1478.3,780.0 L1479.1,780.5 L1479.9,780.3 L1480.7,780.4 L1481.5,780.3 L1482.3,780.5 L1483.1,780.5 L1483.9,780.5 L1484.7,780.5 L1485.5,780.2 L1486.3,779.9 L1487.1,780.6 L1487.9,780.4 L1488.7,780.9 L1489.5,780.4 L1490.3,780.4 L1491.1,780.6 L1491.9,780.5 L1492.7,780.8 L1493.5,780.4 L1494.3,780.5 L1495.1,781.0 L1495.9,780.7 L1496.7,780.4 L1497.5,780.6 L1498.3,780.7 L1499.1,780.2 L1499.9,780.2 L1500.7,780.4 L1501.5,780.4 L1502.3,780.8 L1503.1,779.8 L1503.9,780.1 L1504.7,781.0 L1505.5,780.0 L1506.3,781.3 L1507.1,780.2 L1507.9,781.1 L1508.7,780.1 L1509.5,780.7 L1510.3,780.5 L1511.1,781.0 L1511.9,780.7 L1512.7,780.2 L1513.5,780.9 L1514.3,780.5 L1515.1,781.2 L1515.9,780.7 L1516.7,780.1 L1517.5,781.1 L1518.3,780.6 L1519.1,780.5 L1519.9,780.5 L1520.7,780.3 L1521.5,781.2 L1522.3,780.8 L1523.1,780.4 L1523.9,781.1 L1524.7,780.2 L1525.5,780.9 L1526.3,780.8 L1527.1,780.7 L1527.9,780.7 L1528.7,781.3 L1529.5,780.7 L1530.3,781.3 L1531.1,780.2 L1531.9,780.0 L1532.7,781.1 L1533.5,780.6 L1534.3,781.1 L1535.1,780.9 L1535.9,780.4 L1536.7,781.2 L1537.5,781.3 L1538.3,780.9 L1539.1,780.4 L1539.9,781.2 L1540.7,781.8 L1541.5,780.7 L1542.3,780.8 L1543.1,780.5 L1543.9,780.6 L1544.7,780.8 L1545.5,781.2 L1546.3,781.0 L1547.1,780.9 L1547.9,779.3 L1548.7,780.7 L1549.5,780.3 L1550.3,781.2 L1551.1,781.9 L1551.9,780.9 L1552.7,781.1 L1553.5,780.4 L1554.3,780.5 L1555.1,780.9 L1555.9,779.9 L1556.7,780.3 L1557.5,781.1 L1558.3,780.9 L1559.1,780.9 L1559.9,780.8 L1560.7,781.1 L1561.5,780.8 L1562.3,781.1 L1563.1,781.7 L1563.9,780.9 L1564.7,780.4 L1565.5,780.8 L1566.3,780.8 L1567.1,781.1 L1567.9,781.0 L1568.7,781.5 L1569.5,781.6 L1570.3,780.6 L1571.1,780.7 L1571.9,781.2 L1572.7,781.0 L1573.5,781.5 L1574.3,781.0 L1575.1,781.3 L1575.9,780.8 L1576.7,780.8 L1577.5,780.9 L1578.3,780.5 L1579.1,781.4 L1579.9,780.7 L1580.7,781.0 L1581.5,781.1 L1582.3,780.7 L1583.1,782.1 L1583.9,781.2 L1584.7,781.2 L1585.5,781.2 L1586.3,781.7 L1587.1,782.2 L1587.9,781.6 L1588.7,781.1 L1589.5,781.1 L1590.3,780.3 L1591.1,781.3 L1591.9,780.8 L1592.7,780.8 L1593.5,781.0 L1594.3,781.4 L1595.1,781.0 L1595.9,781.1 L1596.7,781.1 L1597.5,781.3 L1598.3,781.4 L1599.1,780.9 L1599.9,780.8 L1600.7,780.8 L1601.5,780.9 L1602.3,781.4 L1603.1,781.2 L1603.9,781.5 L1604.7,781.4 L1605.5,780.9 L1606.3,781.0 L1607.1,781.0 L1607.9,780.9 L1608.7,781.9 L1609.5,781.1 L1610.3,781.6 L1611.1,781.4 L1611.9,781.1 L1612.7,781.4 L1613.5,781.3 L1614.3,782.1 L1615.1,780.7 L1615.9,781.4 L1616.7,780.4 L1617.5,781.5 L1618.3,781.2 L1619.1,781.7 L1619.9,781.1 L1620.7,781.1 L1621.5,781.2 L1622.3,781.4 L1623.1,781.4 L1623.9,781.7 L1624.7,781.2 L1625.5,781.9 L1626.3,781.6 L1627.1,781.2 L1627.9,780.7 L1628.7,781.9 L1629.5,781.1 L1630.3,781.7 L1631.1,781.6 L1631.9,782.0 L1632.7,781.5 L1633.5,781.7 L1634.3,781.4 L1635.1,781.8 L1635.9,781.4 L1636.7,781.2 L1637.5,781.5 L1638.3,781.4 L1639.1,781.4 L1639.9,781.8 L1640.7,781.5 L1641.5,781.2 L1642.3,781.9 L1643.1,780.7 L1643.9,781.6 L1644.7,781.2 L1645.5,781.8 L1646.3,781.4 L1647.1,780.8 L1647.9,781.1 L1648.7,781.0 L1649.5,781.4 L1650.3,781.2 L1651.1,781.6 L1651.9,781.2 L1652.7,781.2 L1653.5,780.6 L1654.3,782.4 L1655.1,782.0 L1655.9,781.4 L1656.7,781.6 L1657.5,782.3 L1658.3,780.6 L1659.1,781.5 L1659.9,781.2 L1660.7,781.5 L1661.5,781.6 L1662.3,781.8 L1663.1,781.3 L1663.9,781.4 L1664.7,781.0 L1665.5,781.6 L1666.3,781.0 L1667.1,781.2 L1667.9,781.4 L1668.7,781.3 L1669.5,781.0 L1670.3,781.3 L1671.1,781.8 L1671.9,781.8 L1672.7,781.5 L1673.5,781.6 L1674.3,781.9 L1675.1,782.6 L1675.9,781.6 L1676.7,781.8 L1677.5,781.8 L1678.3,781.3 L1679.1,781.9 L1679.9,782.9 L1680.7,781.6 L1681.5,781.7 L1682.3,782.1 L1683.1,781.6 L1683.9,782.1 L1684.7,781.6 L1685.5,782.6 L1686.3,781.7 L1687.1,782.2 L1687.9,782.6 L1688.7,781.9 L1689.5,781.5 L1690.3,781.8 L1691.1,782.7 L1691.9,782.2 L1692.7,781.5 L1693.5,782.3 L1694.3,781.2 L1695.1,782.8 L1695.9,782.1 L1696.7,781.7 L1697.5,781.7 L1698.3,781.7 L1699.1,782.2 L1699.9,781.5 L1700.7,781.7 L1701.5,782.4 L1702.3,782.3 L1703.1,781.9 L1703.9,782.4 L1704.7,782.6 L1705.5,782.8 L1706.3,781.7 L1707.1,781.8 L1707.9,781.8 L1708.7,782.3 L1709.5,781.9 L1710.3,782.5 L1711.1,781.4 L1711.9,782.1 L1712.7,780.9 L1713.5,781.8 L1714.3,782.5 L1715.1,782.4 L1715.9,781.9 L1716.7,782.0 L1717.5,782.5 L1718.3,782.7 L1719.1,781.7 L1719.9,782.2 L1720.7,781.8 L1721.5,782.3 L1722.3,782.4 L1723.1,782.0 L1723.9,781.5 L1724.7,782.5 L1725.5,781.6 L1726.3,781.8 L1727.1,782.3 L1727.9,782.4 L1728.7,782.0 L1729.5,782.7 L1730.3,782.2 L1731.1,782.1 L1731.9,781.3 L1732.7,781.9 L1733.5,782.4 L1734.3,782.4 L1735.1,782.1 L1735.9,781.6 L1736.7,782.4 L1737.5,781.8 L1738.3,782.2 L1739.1,782.4 L1739.9,782.3 L1740.7,782.5 L1741.5,782.3 L1742.3,783.0 L1743.1,781.5 L1743.9,781.8 L1744.7,781.8 L1745.5,782.7 L1746.3,782.2 L1747.1,781.6 L1747.9,782.1 L1748.7,782.4 L1749.5,782.0 L1750.3,782.9 L1751.1,782.6 L1751.9,782.0 L1752.7,782.3 L1753.5,782.7 L1754.3,782.0 L1755.1,781.6 L1755.9,781.8 L1756.7,782.4 L1757.5,782.6 L1758.3,782.1 L1759.1,781.6 L1759.9,781.5 L1760.7,782.3 L1761.5,781.8 L1762.3,781.6 L1763.1,782.3 L1763.9,781.8 L1764.7,782.0 L1765.5,782.1 L1766.3,783.3 L1767.1,783.1 L1767.9,782.6 L1768.7,782.7 L1769.5,782.5 L1770.3,782.3 L1771.1,781.9 L1771.9,782.4 L1772.7,781.9 L1773.5,782.6 L1774.3,782.4 L1775.1,782.2 L1775.9,782.5 L1776.7,782.8 L1777.5,782.1 L1778.3,782.2 L1779.1,782.6 L1779.9,782.8 L1780.7,782.5 L1781.5,782.5 L1782.3,781.8 L1783.1,782.8 L1783.9,783.1 L1784.7,782.6 L1785.5,782.2 L1786.3,782.9 L1787.1,782.0 L1787.9,782.8 L1788.7,782.5 L1789.5,782.6 L1790.3,782.7 L1791.1,782.9 L1791.9,782.5 L1792.7,782.2 L1793.5,781.9 L1794.3,782.6 L1795.1,783.6 L1795.9,782.4 L1796.7,781.4 L1797.5,781.9 L1798.3,782.9 L1799.1,782.7 L1799.9,782.4 L1800.7,782.5 L1801.5,782.8 L1802.3,782.4 L1803.1,782.3 L1803.9,782.5 L1804.7,782.5 L1805.5,782.3 L1806.3,782.2 L1807.1,783.2 L1807.9,782.3 L1808.7,782.3 L1809.5,782.8 L1810.3,782.9 L1811.1,782.4 L1811.9,782.6 L1812.7,782.3 L1813.5,782.1 L1814.3,782.8 L1815.1,782.8 L1815.9,782.5 L1816.7,782.5 L1817.5,782.5" stroke="#0000ff" stroke-width="9.2"/>
<path d="M186.9,625.6 L187.7,625.6 L188.5,625.6 L189.3,625.5 L190.1,624.5 L190.9,625.2 L191.7,625.6 L192.5,626.3 L193.3,625.1 L194.1,625.4 L194.9,624.9 L195.7,624.7 L196.5,625.9 L197.3,625.6 L198.1,625.2 L198.9,625.1 L199.7,625.0 L200.5,624.9 L201.3,626.0 L202.1,625.7 L202.9,625.5 L203.7,624.6 L204.5,623.1 L205.3,624.5 L206.1,626.7 L206.9,625.7 L207.7,624.7 L208.5,623.9 L209.3,625.0 L210.1,627.0 L210.9,624.6 L211.7,624.3 L212.5,625.2 L213.3,624.5 L214.1,623.2 L214.9,624.2 L215.7,625.8 L216.5,623.8 L217.3,625.4 L218.1,624.8 L218.9,624.8 L219.7,624.6 L220.5,624.4 L221.3,626.0 L222.1,625.0 L222.9,624.8 L223.7,622.8 L224.5,623.0 L225.3,624.8 L226.1,622.9 L226.8,624.7 L227.6,623.2 L228.4,624.4 L229.2,624.0 L230.0,624.0 L230.8,622.4 L231.6,624.8 L232.4,624.4 L233.2,623.8 L234.0,622.7 L234.8,624.7 L235.6,622.3 L236.4,624.6 L237.2,622.1 L238.0,622.0 L238.8,623.2 L239.6,624.0 L240.4,623.9 L241.2,621.6 L242.0,621.5 L242.8,622.9 L243.6,622.7 L244.4,621.1 L245.2,621.9 L246.0,623.2 L246.8,622.5 L247.5,621.5 L248.3,621.4 L249.1,620.9 L249.9,622.1 L250.7,621.3 L251.5,620.7 L252.3,621.2 L253.0,620.4 L253.8,618.8 L254.6,620.1 L255.4,619.9 L256.2,620.1 L256.9,619.4 L257.7,618.7 L258.5,620.3 L259.3,619.8 L260.0,619.3 L260.8,618.6 L261.5,617.9 L262.3,618.3 L263.0,618.5 L263.7,618.4 L264.4,618.1 L265.1,617.2 L265.8,617.5 L266.5,616.2 L267.2,615.7 L267.9,616.3 L268.6,615.7 L269.3,615.1 L270.0,614.4 L270.7,614.0 L271.4,613.0 L272.1,613.1 L272.9,612.5 L273.6,612.7 L274.3,612.9 L275.0,612.3 L275.7,611.4 L276.4,611.2 L277.1,610.9 L277.9,610.3 L278.7,610.2 L279.5,610.2 L280.3,609.4 L281.1,609.6 L281.9,610.0 L282.7,611.6 L283.4,610.5 L284.2,609.1 L285.0,610.0 L285.8,609.3 L286.6,609.8 L287.4,608.8 L288.2,611.1 L289.0,608.5 L289.8,609.8 L290.6,611.6 L291.4,609.8 L292.2,608.4 L293.0,610.4 L293.8,608.2 L294.6,610.4 L295.4,608.7 L296.2,611.3 L297.0,610.0 L297.8,611.7 L298.6,610.0 L299.4,610.2 L300.2,608.0 L301.0,610.9 L301.8,610.4 L302.6,610.8 L303.4,611.1 L304.2,610.5 L305.0,609.9 L305.8,609.9 L306.6,610.0 L307.4,609.0 L308.2,609.5 L309.0,609.6 L309.8,609.5 L310.6,611.4 L311.4,610.1 L312.2,610.9 L313.0,611.0 L313.8,607.9 L314.6,610.5 L315.4,609.4 L316.2,610.5 L317.0,609.6 L317.8,611.4 L318.6,610.4 L319.4,611.1 L320.2,610.3 L321.0,611.2 L321.8,610.1 L322.6,609.0 L323.4,609.8 L324.2,610.0 L325.0,611.5 L325.8,611.6 L326.6,610.5 L327.4,610.9 L328.2,611.1 L329.0,610.7 L329.8,610.9 L330.6,610.1 L331.4,611.2 L332.2,611.3 L333.0,611.4 L333.8,610.7 L334.6,609.9 L335.4,610.6 L336.2,612.0 L337.0,610.8 L337.8,613.0 L338.6,613.4 L339.4,610.1 L340.2,611.4 L341.0,612.1 L341.8,611.6 L342.6,611.8 L343.4,612.6 L344.2,612.1 L345.0,612.0 L345.8,611.8 L346.6,610.4 L347.4,612.6 L348.2,612.5 L349.0,612.4 L349.8,612.2 L350.6,611.8 L351.4,611.8 L352.2,612.5 L352.9,614.8 L353.7,612.4 L354.5,613.0 L355.3,612.5 L356.1,612.5 L356.9,613.1 L357.7,613.6 L358.5,613.4 L359.3,613.2 L360.1,612.8 L360.9,613.7 L361.7,613.7 L362.5,614.1 L363.3,612.9 L364.1,614.7 L364.9,613.4 L365.7,615.3 L366.5,614.7 L367.3,613.9 L368.1,613.7 L368.9,612.9 L369.7,612.6 L370.5,614.5 L371.3,613.9 L372.1,611.6 L372.9,614.6 L373.7,612.7 L374.5,613.5 L375.3,615.5 L376.1,616.1 L376.9,613.8 L377.7,615.0 L378.5,615.0 L379.3,615.6 L380.1,615.9 L380.9,613.4 L381.7,614.0 L382.5,614.7 L383.3,613.8 L384.1,615.2 L384.9,613.2 L385.7,614.7 L386.5,614.8 L387.3,614.0 L388.1,614.1 L388.9,614.7 L389.7,612.5 L390.5,614.5 L391.3,615.5 L392.1,613.9 L392.9,613.4 L393.7,614.1 L394.5,614.0 L395.3,613.1 L396.1,613.7 L396.9,614.7 L397.7,615.0 L398.5,614.6 L399.3,613.6 L400.1,614.5 L400.9,613.0 L401.7,613.6 L402.5,612.7 L403.3,613.4 L404.1,613.3 L404.9,614.4 L405.7,613.2 L406.5,612.0 L407.3,612.7 L408.1,612.6 L408.9,614.5 L409.7,613.3 L410.5,614.1 L411.3,613.4 L412.1,612.2 L412.9,612.2 L413.7,613.7 L414.5,612.9 L415.3,614.3 L416.1,613.7 L416.9,611.9 L417.7,612.7 L418.5,613.0 L419.3,613.6 L420.1,613.4 L420.9,612.8 L421.7,613.2 L422.4,613.3 L423.2,612.1 L424.0,612.9 L424.8,612.8 L425.6,612.5 L426.4,613.2 L427.2,611.6 L428.0,611.6 L428.8,612.6 L429.6,612.1 L430.4,613.5 L431.2,612.0 L432.0,611.8 L432.8,612.5 L433.6,611.2 L434.4,612.4 L435.2,610.6 L436.0,612.0 L436.8,611.5 L437.6,611.3 L438.4,612.8 L439.2,611.3 L439.9,610.2 L440.7,611.4 L441.5,609.9 L442.3,611.3 L443.1,611.3 L443.9,610.9 L444.7,610.8 L445.5,611.1 L446.3,611.7 L447.1,611.1 L447.9,610.9 L448.7,612.0 L449.5,610.5 L450.3,611.0 L451.1,611.6 L451.9,611.7 L452.7,612.1 L453.5,611.5 L454.3,610.0 L455.1,610.9 L455.9,611.2 L456.7,610.6 L457.5,611.1 L458.3,611.0 L459.1,612.8 L459.9,612.8 L460.7,611.9 L461.5,612.3 L462.3,611.9 L463.1,613.5 L463.9,611.4 L464.7,610.5 L465.5,612.6 L466.3,611.6 L467.1,614.1 L467.9,611.7 L468.7,613.5 L469.5,614.4 L470.3,614.0 L471.1,612.9 L471.8,611.6 L472.6,614.2 L473.4,613.6 L474.2,614.3 L475.0,612.9 L475.8,612.7 L476.6,613.2 L477.4,613.0 L478.2,613.6 L479.0,613.3 L479.8,613.2 L480.6,614.0 L481.4,613.0 L482.2,612.1 L483.0,614.2 L483.8,613.9 L484.6,614.9 L485.4,613.6 L486.2,614.6 L487.0,614.2 L487.8,615.2 L488.6,614.2 L489.4,614.0 L490.2,613.1 L491.0,613.6 L491.8,614.7 L492.6,612.7 L493.4,615.0 L494.2,615.6 L495.0,614.6 L495.8,614.4 L496.6,614.4 L497.4,615.3 L498.2,613.0 L499.0,613.6 L499.8,613.7 L500.6,614.6 L501.4,614.7 L502.2,615.1 L503.0,615.2 L503.8,614.2 L504.6,614.0 L505.4,615.2 L506.2,614.7 L507.0,614.9 L507.8,615.4 L508.6,615.4 L509.4,615.1 L510.2,613.0 L511.0,615.4 L511.8,615.8 L512.5,615.3 L513.3,615.2 L514.0,613.6 L514.8,613.2 L515.5,613.6 L516.2,612.5 L516.9,613.2 L517.5,612.0 L518.1,611.5 L518.7,610.4 L519.4,611.1 L520.1,610.2 L520.8,610.6 L521.6,610.5 L522.2,610.5 L522.8,611.0 L523.4,611.7 L524.0,611.8 L524.6,612.3 L525.3,613.5 L526.0,613.0 L526.7,614.0 L527.5,614.6 L528.2,613.6 L529.0,615.0 L529.7,614.6 L530.5,615.0 L531.3,613.3 L532.1,615.2 L532.9,615.2 L533.7,614.3 L534.5,613.9 L535.3,615.0 L536.1,614.7 L536.9,614.4 L537.7,615.2 L538.5,613.9 L539.3,614.4 L540.1,615.1 L540.9,614.9 L541.7,615.9 L542.5,613.9 L543.3,614.6 L544.1,615.1 L544.9,615.2 L545.7,615.4 L546.5,614.4 L547.3,614.5 L548.1,613.2 L548.9,615.1 L549.7,612.9 L550.5,613.3 L551.3,614.5 L552.1,614.6 L552.9,615.3 L553.7,614.9 L554.5,615.2 L555.3,616.1 L556.1,614.6 L556.9,614.8 L557.7,613.4 L558.5,614.0 L559.3,612.2 L560.1,614.1 L560.9,613.5 L561.7,615.0 L562.5,613.9 L563.3,613.3 L564.1,615.3 L564.9,615.1 L565.7,613.8 L566.5,612.6 L567.3,614.1 L568.1,616.0 L568.9,613.1 L569.7,616.0 L570.5,614.4 L571.3,613.6 L572.1,614.7 L572.9,613.5 L573.7,614.7 L574.5,614.6 L575.3,613.4 L576.1,614.5 L576.9,613.9 L577.7,614.3 L578.5,614.2 L579.2,613.6 L580.0,612.6 L580.7,612.0 L581.4,612.0 L582.2,612.6 L582.9,611.4 L583.7,612.1 L584.5,612.0 L585.2,612.4 L585.9,612.9 L586.5,613.2 L587.3,614.2 L588.0,613.9 L588.8,614.1 L589.5,614.9 L590.3,613.4 L591.1,614.6 L591.9,614.5 L592.7,614.9 L593.5,614.8 L594.3,615.8 L595.1,615.5 L595.9,615.7 L596.7,615.0 L597.4,615.9 L598.2,614.6 L599.0,614.3 L599.8,615.0 L600.6,617.4 L601.4,614.9 L602.2,615.9 L603.0,616.2 L603.8,615.2 L604.6,615.0 L605.4,616.2 L606.2,615.7 L607.0,615.3 L607.8,616.6 L608.6,617.2 L609.4,616.3 L610.2,617.2 L611.0,617.3 L611.8,616.3 L612.6,617.1 L613.4,617.9 L614.2,616.2 L615.0,615.9 L615.8,615.7 L616.6,615.5 L617.4,615.2 L618.2,618.4 L619.0,617.2 L619.8,617.5 L620.6,618.1 L621.4,615.4 L622.2,618.4 L623.0,616.7 L623.8,615.8 L624.6,614.4 L625.4,617.5 L626.2,616.3 L627.0,617.2 L627.8,616.2 L628.6,617.4 L629.4,616.0 L630.2,616.2 L631.0,616.6 L631.8,615.9 L632.6,616.5 L633.4,616.1 L634.2,618.3 L635.0,617.0 L635.8,617.4 L636.6,617.3 L637.4,616.7 L638.2,616.7 L639.0,617.8 L639.8,616.9 L640.6,616.5 L641.4,617.3 L642.2,616.1 L643.0,617.0 L643.8,617.0 L644.6,616.7 L645.4,615.2 L646.2,615.4 L647.0,616.0 L647.8,616.2 L648.6,616.4 L649.4,616.7 L650.2,614.8 L651.0,615.7 L651.8,615.6 L652.6,615.3 L653.4,614.9 L654.2,616.0 L655.0,616.3 L655.8,615.0 L656.6,614.6 L657.3,613.8 L658.1,615.4 L658.9,614.8 L659.7,615.6 L660.5,616.2 L661.3,615.2 L662.1,613.5 L662.9,615.4 L663.7,614.4 L664.5,613.5 L665.3,614.5 L666.1,613.8 L666.9,613.7 L667.7,612.0 L668.5,614.3 L669.2,612.6 L670.0,613.5 L670.8,613.0 L671.6,613.8 L672.4,611.1 L673.2,612.3 L674.0,613.1 L674.7,612.1 L675.5,611.7 L676.3,612.6 L677.1,611.1 L677.8,611.1 L678.6,611.1 L679.4,611.2 L680.2,610.9 L680.9,611.6 L681.7,611.0 L682.5,610.3 L683.2,609.8 L684.0,609.5 L684.7,609.2 L685.5,609.2 L686.3,609.0 L687.0,609.2 L687.8,609.9 L688.5,608.1 L689.3,607.9 L690.1,607.7 L690.8,607.9 L691.6,606.5 L692.3,606.2 L693.0,607.4 L693.8,606.4 L694.5,606.8 L695.3,606.3 L696.0,605.1 L696.7,605.4 L697.5,605.3 L698.2,604.3 L698.9,604.2 L699.6,604.0 L700.3,603.9 L701.1,603.4 L701.8,602.9 L702.5,602.5 L703.2,602.2 L703.9,602.0 L704.6,601.1 L705.3,600.7 L706.0,600.4 L706.7,599.7 L707.3,599.7 L708.0,600.1 L708.7,598.7 L709.4,598.9 L710.0,597.2 L710.7,597.6 L711.4,596.7 L712.0,597.7 L712.7,596.0 L713.3,596.2 L714.0,595.1 L714.6,593.6 L715.2,594.4 L715.8,593.4 L716.5,592.7 L717.1,592.0 L717.7,591.9 L718.3,591.7 L718.9,591.5 L719.5,591.1 L720.0,590.1 L720.6,589.7 L721.2,588.4 L721.8,587.7 L722.3,587.7 L722.9,587.0 L723.4,586.6 L724.0,585.6 L724.5,585.4 L725.0,584.5 L725.6,583.8 L726.1,583.1 L726.6,582.5 L727.1,581.8 L727.6,581.4 L728.1,580.9 L728.7,580.3 L729.2,579.8 L729.7,579.5 L730.2,578.1 L730.7,577.6 L731.1,577.5 L731.6,577.1 L732.1,576.1 L732.6,574.8 L733.0,574.9 L733.5,574.3 L734.0,573.1 L734.4,572.8 L734.8,571.9 L735.3,571.4 L735.7,570.4 L736.1,569.6 L736.5,569.4 L736.9,568.7 L737.3,568.2 L737.6,567.3 L738.0,566.6 L738.3,565.7 L738.7,564.9 L739.0,564.2 L739.4,563.5 L739.7,562.7 L740.0,562.3 L740.3,561.6 L740.6,560.5 L740.9,560.0 L741.2,558.9 L741.5,558.5 L741.8,557.6 L742.1,556.8 L742.4,556.2 L742.7,555.1 L743.0,554.7 L743.3,554.0 L743.5,553.0 L743.8,552.2 L744.1,551.7 L744.4,551.0 L744.7,550.0 L745.0,549.4 L745.3,548.7 L745.6,547.9 L745.9,547.3 L746.2,546.6 L746.5,545.9 L746.7,545.3 L747.0,544.7 L747.3,543.5 L747.6,542.5 L747.9,542.0 L748.1,541.2 L748.4,540.7 L748.7,539.8 L749.0,538.9 L749.2,538.6 L749.5,537.6 L749.8,536.9 L750.0,536.1 L750.3,535.2 L750.6,534.5 L750.8,533.7 L751.1,533.2 L751.3,532.2 L751.6,531.6 L751.8,530.8 L752.1,529.9 L752.3,529.1 L752.6,528.4 L752.8,527.5 L753.0,526.9 L753.2,525.9 L753.5,525.5 L753.7,524.7 L753.9,523.7 L754.1,523.2 L754.3,522.3 L754.5,521.6 L754.8,520.6 L755.0,520.1 L755.2,519.3 L755.4,518.2 L755.6,517.5 L755.9,516.8 L756.1,516.0 L756.4,515.5 L756.6,514.4 L756.9,513.9 L757.2,513.1 L757.5,512.5 L757.8,511.6 L758.1,511.0 L758.4,510.3 L758.8,509.4 L759.1,508.7 L759.5,508.0 L759.9,507.3 L760.3,506.5 L760.7,505.7 L761.1,504.8 L761.5,504.8 L762.0,503.9 L762.4,503.2 L762.8,502.7 L763.3,501.5 L763.7,502.5 L764.2,502.0 L764.6,503.5 L765.1,503.9 L765.5,505.2 L765.9,505.4 L766.4,506.1 L766.8,506.5 L767.2,507.3 L767.5,508.2 L767.9,508.9 L768.3,509.2 L768.6,510.1 L768.9,511.3 L769.3,511.6 L769.6,512.4 L769.8,513.1 L770.1,514.0 L770.4,514.8 L770.6,515.4 L770.9,516.3 L771.1,516.9 L771.3,517.6 L771.6,518.5 L771.8,519.4 L772.0,520.0 L772.2,520.8 L772.3,521.7 L772.5,522.4 L772.7,523.1 L772.9,524.0 L773.0,524.8 L773.2,525.6 L773.4,526.3 L773.5,527.1 L773.7,528.0 L773.8,528.6 L774.0,529.5 L774.1,530.2 L774.3,531.1 L774.4,531.9 L774.5,532.6 L774.7,533.3 L774.8,534.2 L775.0,534.9 L775.1,535.7 L775.2,536.6 L775.4,537.3 L775.6,538.2 L775.7,538.8 L775.9,539.5 L776.0,540.6 L776.2,541.3 L776.4,542.1 L776.6,542.8 L776.8,543.5 L776.9,544.3 L777.1,544.9 L777.3,545.8 L777.5,546.8 L777.7,547.6 L778.0,548.1 L778.2,548.9 L778.4,549.5 L778.6,550.5 L778.8,551.4 L779.0,552.0 L779.3,552.8 L779.5,553.6 L779.7,554.4 L779.9,555.2 L780.2,556.1 L780.4,556.6 L780.6,557.6 L780.8,558.3 L781.1,559.0 L781.3,559.7 L781.5,560.5 L781.7,561.4 L782.0,562.0 L782.2,562.6 L782.5,563.5 L782.7,564.4 L783.0,565.1 L783.2,565.9 L783.5,566.6 L783.7,567.4 L784.0,568.3 L784.3,568.8 L784.6,569.4 L784.9,570.3 L785.2,571.1 L785.5,571.7 L785.8,572.6 L786.1,573.2 L786.4,574.1 L786.7,574.8 L787.0,575.1 L787.4,576.2 L787.7,576.9 L788.0,577.6 L788.4,578.8 L788.7,579.2 L789.1,579.6 L789.4,580.4 L789.8,581.2 L790.1,581.9 L790.5,582.7 L790.9,583.7 L791.2,584.3 L791.6,585.0 L792.0,585.6 L792.3,586.2 L792.7,586.9 L793.1,588.0 L793.5,588.3 L793.9,588.9 L794.2,589.7 L794.6,590.2 L795.0,591.1 L795.4,591.9 L795.8,592.4 L796.2,593.3 L796.6,593.7 L797.0,594.7 L797.5,595.1 L797.9,595.8 L798.3,596.3 L798.8,597.5 L799.2,597.9 L799.6,598.4 L800.1,599.4 L800.6,599.9 L801.0,600.5 L801.5,601.1 L802.0,602.0 L802.5,602.7 L803.0,603.2 L803.6,604.0 L804.1,604.0 L804.7,604.7 L805.2,605.7 L805.8,605.6 L806.4,606.4 L807.0,607.1 L807.6,607.8 L808.2,608.4 L808.8,608.9 L809.5,609.4 L810.1,609.6 L810.8,610.0 L811.5,610.2 L812.1,611.3 L812.8,611.4 L813.6,611.7 L814.3,611.8 L815.0,612.2 L815.7,612.6 L816.5,612.0 L817.2,613.4 L818.0,613.9 L818.7,614.1 L819.5,613.7 L820.3,614.3 L821.0,614.8 L821.8,614.5 L822.6,614.4 L823.3,614.7 L824.1,615.1 L824.9,614.7 L825.7,614.7 L826.4,616.0 L827.2,616.4 L828.0,616.2 L828.8,616.0 L829.6,616.7 L830.4,616.9 L831.1,616.5 L831.9,617.3 L832.7,616.9 L833.5,616.7 L834.3,617.1 L835.1,617.7 L835.9,618.0 L836.7,617.5 L837.4,617.4 L838.2,617.4 L839.0,617.7 L839.8,618.2 L840.6,617.6 L841.4,618.2 L842.2,619.0 L843.0,618.6 L843.8,618.4 L844.6,619.2 L845.4,619.3 L846.1,618.7 L846.9,619.8 L847.7,619.1 L848.5,620.1 L849.3,620.3 L850.1,620.1 L850.9,620.2 L851.7,620.0 L852.5,619.2 L853.3,619.3 L854.1,620.0 L854.9,619.9 L855.7,619.2 L856.5,619.8 L857.3,621.1 L858.1,621.0 L858.8,620.4 L859.6,620.9 L860.4,620.9 L861.2,621.0 L862.0,621.2 L862.8,621.4 L863.6,621.9 L864.4,621.1 L865.2,622.0 L866.0,621.7 L866.8,620.6 L867.6,622.3 L868.4,621.1 L869.2,622.0 L870.0,622.3 L870.8,622.3 L871.6,621.4 L872.3,622.0 L873.1,622.5 L873.9,623.4 L874.7,622.3 L875.5,622.3 L876.3,623.5 L877.1,622.9 L877.9,622.9 L878.7,623.0 L879.5,623.4 L880.3,623.1 L881.1,622.8 L881.9,623.2 L882.7,624.0 L883.5,623.1 L884.3,623.7 L885.1,623.7 L885.9,623.8 L886.7,624.2 L887.5,623.8 L888.3,623.7 L889.0,624.2 L889.8,623.3 L890.6,624.0 L891.4,624.4 L892.2,624.7 L893.0,624.7 L893.8,625.3 L894.6,624.4 L895.4,624.8 L896.2,624.8 L897.0,624.6 L897.8,625.0 L898.6,624.5 L899.4,624.5 L900.2,624.5 L901.0,625.5 L901.8,625.2 L902.6,625.3 L903.4,625.5 L904.2,624.8 L905.0,625.9 L905.8,625.7 L906.6,625.2 L907.4,625.7 L908.2,624.7 L909.0,625.2 L909.8,625.1 L910.6,625.6 L911.4,625.3 L912.2,626.3 L913.0,625.9 L913.8,626.3 L914.6,626.0 L915.4,625.6 L916.2,626.3 L917.0,626.3 L917.8,626.6 L918.6,627.1 L919.4,626.4 L920.2,626.0 L921.0,626.3 L921.8,627.0 L922.6,626.4 L923.4,627.1 L924.2,626.8 L925.0,626.3 L925.8,626.3 L926.6,625.8 L927.4,627.3 L928.2,626.4 L929.0,626.8 L929.7,626.7 L930.5,626.8 L931.3,626.3 L932.1,626.6 L932.9,627.2 L933.7,626.9 L934.5,627.0 L935.3,627.7 L936.1,626.9 L936.9,627.7 L937.7,627.5 L938.5,626.9 L939.3,627.2 L940.1,627.1 L940.9,627.8 L941.7,627.1 L942.5,626.9 L943.3,627.7 L944.1,627.5 L944.9,627.8 L945.7,627.9 L946.5,627.8 L947.3,627.4 L948.1,626.9 L948.9,628.1 L949.7,627.4 L950.5,628.2 L951.3,628.2 L952.1,627.0 L952.9,627.8 L953.7,627.6 L954.5,628.2 L955.3,628.1 L956.1,628.1 L956.9,627.5 L957.7,627.6 L958.5,628.5 L959.3,628.2 L960.1,627.8 L960.9,627.6 L961.7,628.0 L962.5,628.2 L963.3,628.8 L964.1,628.2 L964.9,628.4 L965.7,627.6 L966.5,628.1 L967.3,628.2 L968.1,628.6 L968.9,627.4 L969.7,628.2 L970.5,628.5 L971.3,628.0 L972.1,628.2 L972.9,628.7 L973.7,628.9 L974.5,628.4 L975.3,628.5 L976.1,628.0 L976.9,628.6 L977.7,628.0 L978.5,627.7 L979.3,628.7 L980.1,628.2 L980.9,628.6 L981.7,628.5 L982.5,628.2 L983.3,628.4 L984.1,627.5 L984.9,629.2 L985.7,628.1 L986.5,628.7 L987.3,627.8 L988.1,628.5 L988.9,628.1 L989.7,628.5 L990.5,628.0 L991.3,628.7 L992.1,628.6 L992.9,628.1 L993.7,628.9 L994.5,628.6 L995.3,628.9 L996.1,628.9 L996.9,628.7 L997.7,628.9 L998.5,629.6 L999.3,628.6 L1000.1,629.4 L1000.9,629.4 L1001.7,628.7 L1002.5,628.3 L1003.3,629.7 L1004.1,629.5 L1004.9,629.4 L1005.7,628.7 L1006.5,629.3 L1007.3,628.2 L1008.1,628.5 L1008.9,628.8 L1009.7,629.6 L1010.5,628.6 L1011.3,628.1 L1012.1,629.1 L1012.9,629.0 L1013.7,629.7 L1014.5,629.1 L1015.3,629.4 L1016.1,628.7 L1016.9,629.3 L1017.7,629.5 L1018.5,629.3 L1019.3,629.1 L1020.1,629.3 L1020.9,629.2 L1021.7,629.2 L1022.5,629.3 L1023.3,628.7 L1024.1,629.1 L1024.9,628.7 L1025.7,629.4 L1026.5,630.2 L1027.3,628.3 L1028.1,630.1 L1028.9,629.3 L1029.7,628.9 L1030.5,629.1 L1031.3,629.2 L1032.1,628.9 L1032.9,629.2 L1033.7,629.2 L1034.5,628.4 L1035.3,629.6 L1036.1,629.0 L1036.9,629.2 L1037.7,629.2 L1038.5,629.1 L1039.3,629.3 L1040.1,629.7 L1040.9,629.1 L1041.7,629.3 L1042.5,628.8 L1043.3,629.2 L1044.1,629.3 L1044.9,629.9 L1045.7,630.1 L1046.5,629.0 L1047.3,629.3 L1048.1,629.3 L1048.9,629.2 L1049.7,629.3 L1050.5,629.3 L1051.3,629.3 L1052.1,629.1 L1052.9,628.9 L1053.7,629.4 L1054.5,629.2 L1055.3,629.3 L1056.1,629.7 L1056.9,629.1 L1057.7,629.2 L1058.5,629.5 L1059.3,629.4 L1060.1,628.8 L1060.9,629.8 L1061.7,629.0 L1062.5,628.9 L1063.3,629.6 L1064.1,628.8 L1064.9,628.9 L1065.7,629.6 L1066.5,630.0 L1067.3,629.7 L1068.1,629.5 L1068.9,629.5 L1069.7,629.6 L1070.5,630.0 L1071.3,629.8 L1072.1,629.8 L1072.9,629.5 L1073.7,629.0 L1074.5,629.6 L1075.3,629.6 L1076.1,629.6 L1076.9,629.8 L1077.7,628.9 L1078.5,630.0 L1079.3,629.0 L1080.1,629.4 L1080.9,629.3 L1081.7,629.8 L1082.5,629.3 L1083.3,629.0 L1084.1,629.6 L1084.9,629.8 L1085.7,629.6 L1086.5,628.7 L1087.3,629.6 L1088.1,629.7 L1088.9,630.2 L1089.7,629.6 L1090.5,629.5 L1091.3,628.9 L1092.1,629.7 L1092.9,629.9 L1093.7,629.9 L1094.5,628.8 L1095.3,629.4 L1096.1,629.7 L1096.9,629.3 L1097.7,629.6 L1098.5,630.3 L1099.3,629.7 L1100.1,629.7 L1100.9,630.5 L1101.7,630.2 L1102.5,629.5 L1103.3,629.6 L1104.1,629.7 L1104.9,629.1 L1105.7,629.3 L1106.5,630.0 L1107.3,630.5 L1108.1,629.9 L1108.9,629.7 L1109.7,630.1 L1110.5,629.2 L1111.3,629.3 L1112.1,629.1 L1112.9,629.3 L1113.7,629.2 L1114.5,629.7 L1115.3,630.0 L1116.1,629.0 L1116.9,629.2 L1117.7,629.6 L1118.5,629.4 L1119.3,629.5 L1120.1,629.5 L1120.9,630.4 L1121.7,629.7 L1122.5,629.8 L1123.3,630.6 L1124.1,629.6 L1124.9,629.8 L1125.7,629.5 L1126.5,630.0 L1127.3,630.4 L1128.1,630.1 L1128.9,629.5 L1129.7,630.1 L1130.5,629.6 L1131.3,629.4 L1132.1,629.1 L1132.9,629.7 L1133.7,629.8 L1134.5,630.4 L1135.3,629.9 L1136.1,629.2 L1136.9,630.0 L1137.7,629.9 L1138.5,630.0 L1139.3,629.6 L1140.1,629.9 L1140.9,629.8 L1141.7,629.7 L1142.5,629.6 L1143.3,630.7 L1144.1,629.5 L1144.9,629.8 L1145.7,629.2 L1146.5,630.2 L1147.3,629.6 L1148.1,629.9 L1148.9,629.9 L1149.7,629.8 L1150.5,630.0 L1151.3,630.1 L1152.1,629.5 L1152.9,630.1 L1153.7,630.1 L1154.5,630.1 L1155.3,629.9 L1156.1,629.7 L1156.9,629.5 L1157.7,629.6 L1158.5,630.3 L1159.3,629.6 L1160.1,629.5 L1160.9,629.8 L1161.7,630.3 L1162.5,629.7 L1163.3,629.2 L1164.1,630.8 L1164.9,630.0 L1165.7,630.5 L1166.5,630.5 L1167.3,630.5 L1168.1,630.3 L1168.9,629.9 L1169.7,630.3 L1170.5,629.7 L1171.3,630.4 L1172.1,630.0 L1172.9,630.3 L1173.7,630.0 L1174.5,629.7 L1175.3,630.0 L1176.1,630.2 L1176.9,629.8 L1177.7,629.4 L1178.5,629.5 L1179.3,629.9 L1180.1,630.7 L1180.9,629.9 L1181.7,630.3 L1182.5,629.8 L1183.3,629.9 L1184.1,630.5 L1184.9,629.7 L1185.7,629.8 L1186.5,629.5 L1187.3,629.5 L1188.1,630.1 L1188.9,630.5 L1189.7,630.6 L1190.5,629.7 L1191.3,630.3 L1192.1,629.9 L1192.9,630.0 L1193.7,629.8 L1194.5,630.6 L1195.3,629.5 L1196.1,630.0 L1196.9,629.9 L1197.7,629.5 L1198.5,630.2 L1199.3,630.1 L1200.1,630.0 L1200.9,629.9 L1201.7,630.4 L1202.5,629.9 L1203.3,630.1 L1204.1,629.7 L1204.9,629.9 L1205.7,629.7 L1206.5,630.3 L1207.3,629.8 L1208.1,630.3 L1208.9,630.3 L1209.7,629.6 L1210.5,630.2 L1211.3,630.3 L1212.1,629.9 L1212.9,630.8 L1213.7,630.7 L1214.5,629.7 L1215.3,630.2 L1216.1,630.2 L1216.9,630.6 L1217.7,629.5 L1218.5,630.3 L1219.3,630.7 L1220.1,630.5 L1220.9,629.5 L1221.7,630.3 L1222.5,630.4 L1223.3,630.1 L1224.1,630.2 L1224.9,629.5 L1225.7,630.7 L1226.5,630.2 L1227.3,630.4 L1228.1,630.5 L1228.9,629.1 L1229.7,629.8 L1230.5,630.2 L1231.3,629.6 L1232.0,630.7 L1232.8,629.8 L1233.6,630.6 L1234.4,630.5 L1235.2,630.2 L1236.0,630.7 L1236.8,630.4 L1237.6,630.4 L1238.4,630.0 L1239.2,630.0 L1240.0,630.5 L1240.8,630.6 L1241.6,630.3 L1242.4,630.6 L1243.2,630.6 L1244.0,631.0 L1244.8,630.0 L1245.6,630.6 L1246.4,631.0 L1247.2,630.8 L1248.0,630.0 L1248.8,630.5 L1249.6,631.0 L1250.4,630.6 L1251.2,629.8 L1252.0,630.1 L1252.8,630.2 L1253.6,630.5 L1254.4,630.8 L1255.2,629.7 L1256.0,630.8 L1256.8,630.0 L1257.6,629.8 L1258.4,630.9 L1259.2,630.5 L1260.0,630.8 L1260.8,630.8 L1261.6,630.2 L1262.4,630.7 L1263.2,630.9 L1264.0,630.1 L1264.8,630.3 L1265.6,630.6 L1266.4,630.3 L1267.2,631.4 L1268.0,631.0 L1268.8,630.9 L1269.6,630.2 L1270.4,630.0 L1271.2,630.3 L1272.0,630.2 L1272.8,630.6 L1273.6,630.7 L1274.4,630.1 L1275.2,631.4 L1276.0,630.6 L1276.8,630.5 L1277.6,631.0 L1278.4,630.3 L1279.2,630.0 L1280.0,630.6 L1280.8,630.3 L1281.6,631.1 L1282.4,631.0 L1283.2,630.4 L1284.0,630.1 L1284.8,630.9 L1285.6,630.5 L1286.4,630.6 L1287.2,630.3 L1288.0,629.9 L1288.8,629.8 L1289.6,631.0 L1290.4,630.3 L1291.2,630.9 L1292.0,631.4 L1292.8,631.3 L1293.6,630.4 L1294.4,630.2 L1295.2,631.3 L1296.0,630.4 L1296.8,631.0 L1297.6,630.4 L1298.4,630.6 L1299.2,630.6 L1300.0,629.9 L1300.8,630.7 L1301.6,630.8 L1302.4,630.9 L1303.2,630.6 L1304.0,630.5 L1304.8,630.2 L1305.6,631.8 L1306.4,630.8 L1307.2,630.8 L1308.0,630.1 L1308.8,631.0 L1309.6,631.3 L1310.4,630.3 L1311.2,630.2 L1312.0,630.9 L1312.8,631.2 L1313.6,630.1 L1314.4,631.0 L1315.2,631.2 L1316.0,630.6 L1316.8,630.8 L1317.6,631.1 L1318.4,631.0 L1319.2,629.9 L1320.0,631.7 L1320.8,631.1 L1321.6,630.8 L1322.4,631.0 L1323.2,630.8 L1324.0,631.2 L1324.8,631.5 L1325.6,630.4 L1326.4,630.7 L1327.2,630.5 L1328.0,631.7 L1328.8,630.6 L1329.6,631.4 L1330.4,631.0 L1331.2,630.2 L1332.0,631.0 L1332.8,631.1 L1333.6,631.2 L1334.4,630.8 L1335.2,631.4 L1336.0,630.6 L1336.8,631.4 L1337.6,630.8 L1338.4,631.6 L1339.2,630.7 L1340.0,630.4 L1340.8,630.6 L1341.6,630.7 L1342.4,630.9 L1343.2,631.1 L1344.0,631.2 L1344.8,631.0 L1345.6,630.9 L1346.4,631.4 L1347.2,631.6 L1348.0,631.1 L1348.8,631.3 L1349.6,631.4 L1350.4,630.5 L1351.2,630.7 L1352.0,631.2 L1352.8,630.9 L1353.6,631.2 L1354.4,631.9 L1355.2,630.7 L1356.0,631.2 L1356.8,630.9 L1357.6,631.1 L1358.4,631.3 L1359.2,631.1 L1360.0,631.8 L1360.8,631.5 L1361.6,631.6 L1362.4,630.8 L1363.2,631.3 L1364.0,631.8 L1364.8,631.3 L1365.6,632.0 L1366.4,631.3 L1367.2,631.6 L1368.0,631.5 L1368.8,631.8 L1369.6,630.9 L1370.4,630.7 L1371.2,631.2 L1372.0,630.7 L1372.8,631.5 L1373.6,632.0 L1374.4,631.6 L1375.2,631.1 L1376.0,631.9 L1376.8,631.4 L1377.6,632.0 L1378.4,631.7 L1379.2,631.0 L1380.0,631.8 L1380.8,631.7 L1381.6,632.4 L1382.4,631.2 L1383.2,631.5 L1384.0,631.2 L1384.8,632.1 L1385.6,631.1 L1386.4,632.0 L1387.2,631.9 L1388.0,631.8 L1388.8,631.6 L1389.6,631.4 L1390.4,631.7 L1391.2,632.0 L1392.0,631.3 L1392.8,632.3 L1393.6,631.6 L1394.4,631.0 L1395.2,632.0 L1396.0,631.9 L1396.8,632.0 L1397.6,631.6 L1398.4,631.8 L1399.2,631.5 L1400.0,632.0 L1400.8,632.3 L1401.6,630.9 L1402.4,632.0 L1403.2,631.9 L1404.0,631.0 L1404.8,631.8 L1405.6,631.6 L1406.4,631.1 L1407.2,632.2 L1408.0,631.8 L1408.8,631.8 L1409.6,631.9 L1410.4,631.6 L1411.2,631.9 L1412.0,632.1 L1412.8,632.1 L1413.6,632.5 L1414.4,632.1 L1415.2,632.0 L1416.0,631.6 L1416.8,632.4 L1417.6,632.2 L1418.4,632.3 L1419.2,632.0 L1420.0,632.8 L1420.8,632.1 L1421.6,631.9 L1422.4,631.5 L1423.2,632.7 L1424.0,632.3 L1424.8,632.2 L1425.6,632.4 L1426.4,631.9 L1427.2,632.5 L1428.0,632.6 L1428.8,631.5 L1429.6,632.4 L1430.4,632.3 L1431.2,632.2 L1432.0,632.2 L1432.8,631.5 L1433.6,632.5 L1434.4,632.5 L1435.2,632.9 L1436.0,631.6 L1436.8,631.9 L1437.6,631.8 L1438.4,632.4 L1439.2,632.2 L1440.0,631.6 L1440.8,632.1 L1441.6,632.8 L1442.4,631.8 L1443.2,633.2 L1444.0,632.2 L1444.8,631.7 L1445.6,632.0 L1446.4,632.2 L1447.2,632.4 L1448.0,632.0 L1448.8,632.5 L1449.6,633.1 L1450.4,632.5 L1451.2,632.0 L1452.0,632.7 L1452.8,632.4 L1453.6,632.4 L1454.4,632.2 L1455.2,632.0 L1456.0,632.5 L1456.8,632.5 L1457.6,632.9 L1458.4,632.3 L1459.2,632.7 L1460.0,632.3 L1460.8,633.0 L1461.6,632.2 L1462.4,632.5 L1463.2,632.1 L1464.0,632.6 L1464.8,632.8 L1465.6,633.4 L1466.4,632.6 L1467.2,632.1 L1468.0,632.4 L1468.8,633.0 L1469.6,632.9 L1470.4,632.7 L1471.2,633.0 L1472.0,632.8 L1472.8,632.6 L1473.6,632.3 L1474.4,632.9 L1475.2,633.1 L1476.0,632.9 L1476.8,631.7 L1477.6,633.3 L1478.4,632.9 L1479.2,632.9 L1480.0,632.5 L1480.8,633.1 L1481.6,633.0 L1482.4,632.7 L1483.2,632.5 L1484.0,633.0 L1484.8,632.8 L1485.6,632.2 L1486.4,632.7 L1487.2,631.9 L1488.0,633.0 L1488.8,633.5 L1489.6,632.9 L1490.4,633.4 L1491.2,633.3 L1492.0,633.3 L1492.8,633.0 L1493.6,633.0 L1494.4,633.2 L1495.2,633.1 L1496.0,632.8 L1496.8,633.2 L1497.6,632.4 L1498.4,632.6 L1499.2,633.0 L1500.0,633.3 L1500.8,632.6 L1501.6,633.1 L1502.4,633.5 L1503.2,632.4 L1504.0,632.9 L1504.8,633.1 L1505.6,633.0 L1506.4,632.4 L1507.2,632.6 L1508.0,633.6 L1508.8,632.9 L1509.6,633.0 L1510.4,632.5 L1511.2,633.2 L1512.0,633.4 L1512.8,633.2 L1513.6,632.6 L1514.4,634.0 L1515.2,633.5 L1516.0,633.1 L1516.8,633.2 L1517.6,633.3 L1518.4,633.5 L1519.2,633.1 L1520.0,633.3 L1520.8,633.2 L1521.6,632.9 L1522.4,633.7 L1523.2,633.2 L1524.0,633.3 L1524.8,633.3 L1525.6,633.2 L1526.4,632.9 L1527.2,633.5 L1528.0,632.9 L1528.8,633.1 L1529.6,633.7 L1530.4,632.9 L1531.2,633.5 L1532.0,633.1 L1532.8,633.7 L1533.6,633.5 L1534.4,633.7 L1535.2,633.4 L1536.0,633.5 L1536.8,633.0 L1537.6,633.0 L1538.4,633.4 L1539.2,633.4 L1540.0,633.7 L1540.8,633.2 L1541.6,633.4 L1542.4,633.2 L1543.2,634.4 L1544.0,633.9 L1544.8,633.4 L1545.6,633.3 L1546.4,633.4 L1547.2,634.4 L1548.0,633.3 L1548.8,633.5 L1549.6,633.6 L1550.4,633.2 L1551.2,633.1 L1552.0,633.3 L1552.8,634.1 L1553.6,633.3 L1554.4,632.9 L1555.2,633.9 L1556.0,632.8 L1556.8,633.4 L1557.6,634.0 L1558.4,633.9 L1559.2,633.3 L1560.0,633.7 L1560.8,632.7 L1561.6,634.0 L1562.4,633.4 L1563.2,633.8 L1564.0,634.0 L1564.8,633.5 L1565.6,633.4 L1566.4,633.6 L1567.2,633.5 L1568.0,634.0 L1568.8,633.8 L1569.6,633.2 L1570.4,633.5 L1571.2,633.7 L1572.0,633.9 L1572.8,633.6 L1573.6,633.6 L1574.4,634.0 L1575.2,634.0 L1576.0,634.4 L1576.8,634.4 L1577.6,633.8 L1578.4,633.8 L1579.2,633.4 L1580.0,633.4 L1580.8,633.6 L1581.6,633.2 L1582.4,633.9 L1583.2,633.8 L1584.0,634.2 L1584.8,633.4 L1585.6,634.1 L1586.4,633.2 L1587.2,633.6 L1588.0,633.9 L1588.8,633.7 L1589.6,634.6 L1590.4,634.1 L1591.2,633.2 L1592.0,633.9 L1592.8,633.8 L1593.6,633.9 L1594.4,633.9 L1595.2,633.7 L1596.0,634.8 L1596.8,633.7 L1597.6,633.8 L1598.4,634.2 L1599.2,634.5 L1600.0,634.5 L1600.8,632.9 L1601.6,633.9 L1602.4,634.5 L1603.2,634.2 L1604.0,633.8 L1604.8,634.1 L1605.6,633.8 L1606.4,634.0 L1607.2,634.8 L1608.0,634.1 L1608.8,633.6 L1609.6,633.7 L1610.4,634.7 L1611.2,634.0 L1612.0,633.6 L1612.8,633.6 L1613.6,634.1 L1614.4,634.0 L1615.2,634.4 L1615.9,633.7 L1616.7,634.1 L1617.5,634.6 L1618.3,634.7 L1619.1,634.0 L1619.9,634.0 L1620.7,633.3 L1621.5,634.1 L1622.3,634.4 L1623.1,633.4 L1623.9,634.5 L1624.7,634.3 L1625.5,633.8 L1626.3,634.8 L1627.1,634.5 L1627.9,633.9 L1628.7,633.6 L1629.5,634.0 L1630.3,634.8 L1631.1,634.1 L1631.9,634.2 L1632.7,634.3 L1633.5,634.6 L1634.3,634.7 L1635.1,634.1 L1635.9,634.8 L1636.7,634.5 L1637.5,634.8 L1638.3,634.1 L1639.1,634.5 L1639.9,634.3 L1640.7,634.9 L1641.5,634.8 L1642.3,635.4 L1643.1,633.7 L1643.9,633.9 L1644.7,635.0 L1645.5,634.4 L1646.3,634.6 L1647.1,634.3 L1647.9,634.0 L1648.7,634.6 L1649.5,633.9 L1650.3,634.1 L1651.1,634.4 L1651.9,634.2 L1652.7,635.5 L1653.5,634.9 L1654.3,635.0 L1655.1,635.3 L1655.9,634.4 L1656.7,634.5 L1657.5,634.6 L1658.3,634.6 L1659.1,634.5 L1659.9,634.8 L1660.7,634.8 L1661.5,634.9 L1662.3,634.5 L1663.1,634.2 L1663.9,635.0 L1664.7,635.0 L1665.5,634.0 L1666.3,635.0 L1667.1,634.4 L1667.9,635.1 L1668.7,634.5 L1669.5,634.8 L1670.3,634.8 L1671.1,635.3 L1671.9,634.6 L1672.7,634.1 L1673.5,634.6 L1674.3,634.3 L1675.1,634.2 L1675.9,634.7 L1676.7,634.3 L1677.5,635.0 L1678.3,634.2 L1679.1,635.0 L1679.9,634.8 L1680.7,634.4 L1681.5,634.3 L1682.3,634.6 L1683.1,634.8 L1683.9,635.3 L1684.7,635.1 L1685.5,634.3 L1686.3,634.8 L1687.1,634.8 L1687.9,634.3 L1688.7,635.1 L1689.5,634.8 L1690.3,634.9 L1691.1,635.4 L1691.9,635.1 L1692.7,635.2 L1693.5,635.3 L1694.3,634.6 L1695.1,634.2 L1695.9,635.0 L1696.7,634.9 L1697.5,635.4 L1698.3,635.7 L1699.1,634.9 L1699.9,634.9 L1700.7,633.6 L1701.5,634.7 L1702.3,634.4 L1703.1,634.0 L1703.9,634.7 L1704.7,635.3 L1705.5,635.0 L1706.3,634.9 L1707.1,635.2 L1707.9,634.7 L1708.7,635.7 L1709.5,635.0 L1710.3,634.8 L1711.1,635.2 L1711.9,634.4 L1712.7,634.7 L1713.5,634.8 L1714.3,635.7 L1715.1,635.4 L1715.9,635.0 L1716.7,635.2 L1717.5,634.8 L1718.3,634.5 L1719.1,634.8 L1719.9,634.9 L1720.7,635.2 L1721.5,634.9 L1722.3,635.7 L1723.1,635.1 L1723.9,636.6 L1724.7,635.5 L1725.5,635.8 L1726.3,635.3 L1727.1,635.7 L1727.9,634.8 L1728.7,635.2 L1729.5,634.5 L1730.3,635.4 L1731.1,635.4 L1731.9,635.8 L1732.7,635.7 L1733.5,635.4 L1734.3,635.7 L1735.1,634.8 L1735.9,635.9 L1736.7,635.4 L1737.5,635.1 L1738.3,635.6 L1739.1,635.3 L1739.9,635.6 L1740.7,635.1 L1741.5,635.7 L1742.3,635.5 L1743.1,635.7 L1743.9,634.7 L1744.7,635.3 L1745.5,635.9 L1746.3,635.5 L1747.1,635.3 L1747.9,635.5 L1748.7,635.4 L1749.5,635.7 L1750.3,635.1 L1751.1,635.6 L1751.9,634.6 L1752.7,635.1 L1753.5,635.8 L1754.3,635.1 L1755.1,636.0 L1755.9,635.3 L1756.7,635.8 L1757.5,635.6 L1758.3,635.7 L1759.1,635.5 L1759.9,635.4 L1760.7,635.2 L1761.5,635.1 L1762.3,636.0 L1763.1,635.7 L1763.9,635.6 L1764.7,635.7 L1765.5,635.3 L1766.3,636.2 L1767.1,635.5 L1767.9,635.0 L1768.7,635.2 L1769.5,635.6 L1770.3,635.4 L1771.1,635.9 L1771.9,636.0 L1772.7,635.7 L1773.5,634.9 L1774.3,635.6 L1775.1,636.5 L1775.9,635.9 L1776.7,635.2 L1777.5,635.1 L1778.3,636.0 L1779.1,635.9 L1779.9,636.7 L1780.7,635.9 L1781.5,635.8 L1782.3,635.8 L1783.1,635.5 L1783.9,635.6 L1784.7,636.5 L1785.5,635.8 L1786.3,635.6 L1787.1,635.5 L1787.9,635.7 L1788.7,635.7 L1789.5,635.6 L1790.3,636.4 L1791.1,635.7 L1791.9,635.6 L1792.7,635.8 L1793.5,636.2 L1794.3,635.6 L1795.1,636.0 L1795.9,635.4 L1796.7,636.4 L1797.5,635.5 L1798.3,635.2 L1799.1,636.0 L1799.9,636.3 L1800.7,635.7 L1801.5,636.2 L1802.3,636.0 L1803.1,636.0 L1803.9,635.2 L1804.7,636.4 L1805.5,636.2 L1806.3,636.7 L1807.1,636.2 L1807.9,635.7 L1808.7,636.1 L1809.5,635.7 L1810.3,635.8 L1811.1,636.0 L1811.9,635.6 L1812.7,635.7 L1813.5,635.3 L1814.3,635.9 L1815.1,635.9 L1815.9,636.0 L1816.7,636.0 L1817.5,636.0" stroke="#008000" stroke-width="9.2"/>
<path d="M186.9,466.5 L187.7,466.5 L188.5,466.5 L189.3,466.5 L190.1,467.7 L190.9,466.5 L191.7,466.4 L192.5,465.1 L193.3,464.9 L194.1,466.5 L194.9,466.9 L195.7,467.5 L196.5,465.9 L197.3,467.5 L198.1,466.8 L198.9,467.9 L199.7,465.8 L200.5,465.8 L201.3,465.1 L202.1,466.3 L202.9,467.3 L203.7,466.4 L204.5,465.0 L205.3,468.3 L206.1,465.8 L206.9,465.2 L207.7,465.2 L208.5,464.8 L209.3,465.1 L210.1,465.1 L210.9,465.5 L211.7,466.1 L212.5,464.7 L213.3,465.7 L214.1,465.3 L214.9,464.5 L215.7,465.1 L216.5,464.5 L217.3,465.0 L218.1,465.8 L218.8,464.1 L219.6,466.1 L220.4,466.7 L221.2,464.9 L222.0,464.8 L222.8,464.9 L223.6,464.2 L224.4,464.8 L225.2,463.7 L226.0,465.9 L226.8,464.5 L227.6,463.1 L228.4,463.9 L229.2,463.5 L230.0,463.9 L230.8,463.2 L231.6,464.0 L232.4,463.8 L233.2,462.5 L234.0,461.4 L234.8,462.9 L235.6,463.6 L236.4,463.1 L237.2,463.6 L237.9,462.1 L238.7,461.9 L239.5,462.6 L240.3,462.8 L241.1,463.1 L241.9,461.7 L242.7,461.7 L243.5,462.1 L244.3,461.7 L245.1,462.4 L245.9,461.8 L246.7,461.4 L247.5,462.1 L248.3,461.7 L249.0,461.9 L249.8,461.6 L250.6,461.9 L251.4,461.1 L252.2,460.9 L253.0,460.0 L253.8,461.1 L254.5,460.1 L255.3,460.6 L256.1,459.6 L256.9,459.3 L257.7,459.8 L258.4,458.1 L259.2,459.9 L260.0,459.5 L260.7,459.4 L261.5,457.8 L262.2,457.8 L263.0,458.8 L263.7,458.2 L264.4,457.5 L265.1,457.2 L265.8,456.0 L266.6,456.6 L267.3,456.5 L268.0,454.9 L268.7,455.1 L269.4,454.3 L270.1,453.6 L270.8,454.1 L271.6,454.3 L272.3,452.8 L273.0,452.6 L273.8,452.9 L274.5,451.6 L275.2,451.3 L276.0,452.1 L276.7,451.1 L277.4,451.7 L278.2,451.1 L278.9,450.1 L279.7,450.5 L280.5,450.5 L281.3,449.9 L282.1,450.2 L282.9,450.1 L283.7,449.1 L284.5,449.4 L285.3,450.5 L286.1,450.7 L286.9,451.2 L287.7,451.5 L288.5,448.9 L289.3,450.9 L290.1,452.0 L290.9,450.9 L291.7,451.2 L292.5,450.7 L293.3,450.1 L294.1,450.0 L294.9,449.3 L295.7,450.0 L296.5,451.4 L297.3,450.8 L298.1,449.1 L298.9,449.4 L299.7,449.1 L300.5,450.8 L301.3,451.2 L302.1,450.7 L302.9,449.1 L303.7,450.8 L304.5,451.5 L305.3,450.0 L306.1,450.3 L306.9,451.0 L307.7,450.5 L308.5,450.1 L309.3,450.8 L310.1,451.1 L310.9,450.0 L311.7,451.7 L312.5,451.4 L313.3,449.4 L314.1,451.2 L314.9,450.7 L315.7,449.7 L316.5,451.5 L317.3,452.1 L318.1,451.0 L318.8,451.8 L319.6,451.9 L320.4,452.1 L321.2,451.6 L322.0,452.6 L322.8,450.7 L323.6,451.8 L324.4,451.7 L325.2,451.2 L326.0,453.8 L326.8,452.3 L327.6,453.4 L328.3,453.6 L329.1,453.4 L329.9,452.2 L330.7,452.2 L331.5,454.4 L332.3,453.5 L333.1,454.8 L333.9,453.5 L334.7,453.2 L335.5,453.0 L336.3,453.8 L337.1,455.2 L337.9,454.3 L338.7,453.2 L339.4,454.4 L340.2,454.6 L341.0,453.0 L341.8,453.9 L342.6,452.9 L343.4,454.4 L344.2,455.1 L345.0,454.1 L345.8,455.3 L346.6,454.1 L347.4,454.5 L348.2,454.4 L349.0,454.7 L349.8,455.7 L350.6,455.8 L351.4,457.3 L352.2,454.8 L353.0,453.8 L353.8,455.8 L354.6,456.5 L355.4,454.5 L356.2,456.3 L357.0,456.2 L357.7,454.7 L358.5,456.8 L359.3,455.5 L360.1,458.0 L360.9,456.7 L361.7,456.1 L362.5,455.0 L363.3,457.6 L364.1,457.1 L364.9,456.6 L365.7,457.5 L366.5,457.9 L367.3,456.6 L368.1,457.3 L368.9,458.0 L369.7,458.2 L370.5,457.5 L371.3,457.3 L372.1,459.1 L372.9,457.1 L373.7,457.4 L374.5,456.7 L375.3,458.2 L376.1,456.1 L376.9,456.8 L377.7,457.7 L378.5,457.8 L379.3,456.5 L380.1,456.6 L380.9,456.7 L381.7,458.4 L382.5,458.6 L383.3,456.6 L384.1,459.0 L384.9,457.6 L385.7,457.6 L386.5,457.1 L387.3,456.5 L388.1,458.0 L388.9,458.3 L389.7,457.4 L390.5,456.9 L391.3,457.7 L392.1,458.2 L392.9,458.5 L393.7,458.0 L394.5,458.0 L395.3,457.5 L396.1,458.1 L396.9,456.8 L397.7,456.9 L398.5,458.5 L399.3,455.6 L400.1,458.6 L400.9,458.6 L401.7,458.7 L402.5,458.0 L403.3,456.3 L404.1,457.1 L404.9,458.3 L405.7,458.1 L406.5,458.5 L407.3,457.0 L408.1,458.1 L408.9,458.4 L409.7,457.6 L410.5,458.8 L411.3,457.5 L412.1,457.3 L412.9,457.4 L413.7,457.4 L414.5,458.6 L415.3,458.0 L416.1,457.5 L416.8,457.6 L417.6,457.7 L418.4,458.6 L419.2,457.8 L420.0,457.2 L420.8,456.3 L421.6,457.3 L422.4,457.3 L423.2,455.2 L424.0,455.9 L424.8,456.2 L425.6,455.8 L426.4,456.8 L427.2,454.8 L428.0,456.6 L428.8,456.9 L429.6,456.6 L430.4,455.3 L431.2,456.6 L432.0,454.7 L432.8,456.7 L433.5,456.2 L434.3,456.4 L435.1,456.1 L435.9,455.1 L436.7,455.3 L437.5,455.2 L438.3,454.8 L439.1,456.3 L439.9,452.1 L440.7,455.3 L441.5,456.0 L442.3,457.1 L443.1,455.3 L443.9,455.3 L444.7,454.2 L445.5,454.3 L446.3,454.9 L447.1,454.7 L447.9,455.8 L448.7,456.5 L449.5,456.3 L450.3,455.8 L451.1,456.3 L451.9,455.2 L452.7,455.2 L453.5,457.1 L454.3,454.6 L455.1,456.8 L455.9,456.6 L456.7,454.9 L457.5,455.7 L458.3,455.9 L459.1,456.0 L459.9,456.9 L460.7,455.1 L461.5,456.2 L462.3,457.0 L463.1,456.0 L463.9,455.7 L464.7,456.5 L465.5,457.3 L466.3,457.3 L467.1,456.0 L467.9,455.4 L468.7,456.0 L469.5,455.8 L470.3,457.0 L471.1,457.5 L471.9,456.9 L472.7,457.9 L473.5,455.5 L474.3,457.0 L475.1,457.4 L475.9,456.8 L476.7,457.5 L477.5,458.2 L478.3,456.8 L479.1,456.6 L479.9,455.8 L480.7,457.0 L481.5,457.8 L482.3,457.5 L483.1,458.0 L483.9,457.8 L484.7,458.1 L485.5,455.9 L486.3,456.8 L487.1,457.1 L487.9,456.0 L488.7,456.1 L489.5,457.8 L490.3,458.1 L491.1,456.3 L491.9,457.7 L492.7,457.4 L493.5,458.5 L494.3,460.0 L495.1,456.5 L495.9,459.2 L496.7,457.7 L497.5,459.5 L498.3,457.3 L499.1,458.1 L499.9,456.9 L500.7,457.9 L501.4,458.4 L502.2,459.4 L503.0,459.6 L503.8,457.9 L504.6,458.6 L505.4,458.0 L506.2,459.4 L507.0,459.3 L507.8,460.4 L508.6,459.6 L509.4,459.1 L510.2,459.9 L511.0,456.5 L511.8,459.5 L512.6,457.8 L513.4,458.7 L514.2,458.8 L515.0,458.3 L515.8,457.4 L516.6,460.0 L517.4,458.8 L518.2,457.2 L519.0,458.5 L519.8,459.7 L520.6,459.2 L521.4,459.4 L522.2,458.3 L523.0,459.3 L523.8,458.5 L524.6,459.0 L525.4,460.0 L526.2,459.9 L527.0,459.6 L527.8,459.5 L528.6,458.3 L529.4,459.3 L530.2,459.2 L531.0,460.5 L531.8,459.0 L532.6,459.3 L533.4,458.8 L534.2,458.2 L535.0,459.1 L535.8,459.1 L536.6,459.0 L537.4,461.2 L538.2,457.6 L539.0,460.1 L539.8,458.2 L540.6,459.5 L541.4,458.2 L542.2,460.0 L543.0,460.8 L543.8,459.1 L544.6,459.7 L545.4,458.2 L546.2,460.2 L547.0,459.1 L547.8,460.4 L548.6,459.6 L549.4,459.7 L550.2,459.1 L551.0,459.2 L551.8,458.9 L552.6,459.2 L553.4,458.5 L554.2,459.8 L555.0,459.3 L555.8,459.5 L556.6,459.8 L557.4,458.3 L558.2,458.2 L559.0,459.6 L559.8,460.2 L560.6,460.7 L561.4,460.4 L562.2,458.7 L563.0,458.9 L563.8,460.8 L564.6,458.0 L565.4,461.2 L566.2,459.6 L567.0,459.5 L567.8,458.8 L568.6,457.6 L569.4,459.3 L570.2,458.8 L571.0,460.0 L571.8,458.9 L572.6,460.6 L573.4,459.7 L574.2,458.6 L575.0,458.9 L575.8,460.1 L576.6,459.6 L577.4,457.3 L578.2,459.6 L579.0,459.0 L579.8,460.0 L580.6,459.5 L581.4,458.5 L582.2,460.0 L583.0,459.6 L583.8,459.9 L584.6,458.9 L585.4,458.5 L586.2,459.1 L587.0,459.4 L587.8,458.7 L588.6,459.8 L589.4,459.1 L590.2,459.8 L591.0,459.5 L591.8,461.1 L592.6,458.5 L593.4,461.6 L594.2,459.7 L595.0,460.0 L595.8,461.0 L596.6,458.3 L597.4,460.5 L598.2,460.6 L599.0,460.3 L599.8,459.5 L600.6,459.2 L601.4,459.7 L602.2,458.7 L603.0,459.5 L603.8,460.0 L604.6,459.4 L605.4,460.8 L606.2,457.5 L607.0,459.4 L607.8,460.4 L608.6,459.6 L609.4,458.1 L610.2,458.6 L611.0,459.2 L611.8,459.3 L612.6,458.5 L613.4,459.5 L614.2,459.4 L615.0,458.9 L615.8,459.2 L616.6,459.1 L617.4,459.1 L618.2,459.4 L619.0,458.8 L619.8,459.4 L620.6,460.4 L621.4,458.8 L622.2,459.9 L623.0,460.1 L623.8,461.3 L624.6,459.1 L625.4,460.9 L626.2,459.9 L627.0,458.2 L627.8,459.4 L628.6,460.9 L629.4,460.9 L630.2,458.2 L631.0,459.9 L631.8,458.1 L632.6,458.7 L633.4,459.9 L634.2,458.9 L635.0,458.7 L635.8,459.7 L636.6,458.1 L637.4,458.7 L638.2,458.3 L639.0,457.7 L639.8,458.4 L640.6,459.6 L641.4,458.5 L642.2,459.6 L643.0,460.6 L643.8,458.1 L644.6,458.0 L645.4,459.2 L646.2,459.0 L647.0,458.3 L647.8,458.9 L648.6,458.0 L649.4,458.8 L650.2,458.8 L651.0,459.9 L651.8,457.2 L652.6,459.1 L653.4,458.3 L654.2,457.2 L655.0,459.2 L655.8,459.2 L656.6,458.5 L657.4,457.7 L658.2,457.6 L659.0,458.2 L659.8,459.5 L660.6,458.5 L661.4,458.0 L662.2,457.4 L663.0,457.4 L663.8,457.2 L664.5,457.7 L665.3,456.8 L666.1,456.5 L666.9,455.9 L667.7,457.2 L668.5,457.7 L669.2,456.6 L670.0,455.6 L670.8,455.7 L671.6,455.9 L672.4,456.1 L673.1,455.9 L673.9,455.7 L674.7,455.7 L675.5,455.7 L676.3,455.4 L677.0,454.6 L677.8,454.7 L678.6,455.0 L679.4,455.7 L680.1,453.6 L680.9,453.4 L681.7,453.5 L682.4,453.3 L683.2,452.7 L684.0,453.5 L684.8,452.7 L685.5,452.2 L686.3,451.3 L687.1,452.2 L687.8,451.6 L688.6,450.7 L689.3,451.4 L690.1,451.8 L690.9,451.4 L691.6,451.0 L692.4,449.7 L693.1,450.2 L693.9,449.2 L694.6,449.4 L695.4,448.3 L696.1,448.1 L696.9,448.6 L697.6,447.9 L698.3,448.0 L699.1,447.4 L699.8,446.9 L700.5,446.5 L701.3,446.0 L702.0,446.5 L702.7,446.2 L703.4,446.1 L704.1,444.8 L704.9,445.1 L705.6,445.2 L706.3,443.6 L707.0,443.5 L707.7,443.3 L708.3,442.3 L709.0,442.5 L709.7,441.6 L710.4,441.2 L711.0,441.0 L711.7,440.9 L712.3,440.0 L713.0,439.9 L713.6,438.9 L714.2,439.4 L714.8,437.4 L715.4,437.5 L716.0,436.7 L716.6,436.4 L717.2,435.6 L717.8,435.1 L718.3,435.1 L718.9,434.9 L719.4,434.1 L720.0,432.9 L720.5,433.0 L721.0,431.9 L721.6,431.2 L722.1,430.3 L722.6,429.4 L723.2,429.2 L723.7,428.8 L724.2,427.9 L724.7,427.6 L725.2,426.9 L725.7,426.0 L726.2,425.7 L726.8,425.6 L727.3,424.5 L727.8,423.6 L728.3,423.4 L728.8,422.8 L729.3,421.7 L729.7,421.6 L730.2,421.0 L730.7,420.1 L731.2,419.3 L731.7,418.6 L732.1,418.2 L732.6,417.5 L733.1,417.2 L733.5,417.0 L734.0,415.3 L734.4,415.4 L734.9,414.1 L735.3,413.5 L735.7,412.7 L736.1,412.1 L736.6,411.5 L737.0,410.6 L737.4,410.2 L737.8,409.4 L738.2,409.0 L738.6,407.8 L739.0,407.4 L739.3,406.7 L739.7,406.3 L740.1,405.6 L740.4,404.7 L740.8,404.0 L741.2,403.3 L741.5,402.0 L741.9,401.6 L742.2,401.0 L742.5,400.3 L742.9,399.7 L743.2,398.8 L743.5,398.2 L743.8,397.5 L744.2,396.4 L744.5,395.7 L744.8,395.1 L745.1,394.3 L745.4,393.8 L745.7,392.7 L745.9,392.1 L746.2,391.3 L746.5,390.9 L746.8,390.0 L747.1,389.1 L747.4,388.7 L747.7,387.6 L747.9,387.0 L748.2,386.0 L748.5,385.5 L748.8,384.8 L749.0,383.7 L749.3,383.0 L749.6,382.5 L749.9,381.6 L750.1,380.9 L750.4,380.1 L750.7,379.6 L750.9,378.6 L751.2,378.0 L751.5,377.1 L751.7,376.3 L752.0,375.6 L752.2,375.1 L752.5,374.4 L752.7,373.3 L753.0,372.2 L753.2,371.9 L753.5,371.0 L753.7,370.5 L753.9,369.6 L754.2,368.9 L754.4,367.8 L754.6,367.2 L754.8,366.6 L755.1,365.7 L755.3,365.0 L755.5,364.2 L755.7,363.5 L756.0,362.7 L756.2,361.8 L756.5,361.0 L756.7,360.5 L757.0,359.4 L757.2,358.7 L757.5,358.0 L757.8,357.1 L758.1,356.3 L758.4,356.0 L758.7,355.2 L759.0,354.2 L759.3,353.6 L759.7,353.1 L760.0,352.4 L760.4,351.6 L760.8,350.8 L761.2,350.2 L761.6,349.6 L762.0,349.0 L762.5,348.3 L762.9,347.5 L763.4,346.7 L763.8,346.0 L764.3,346.4 L764.7,347.5 L765.1,348.4 L765.5,349.2 L766.0,349.5 L766.4,350.3 L766.8,351.0 L767.1,351.5 L767.5,352.4 L767.8,352.7 L768.2,353.4 L768.5,354.4 L768.8,355.2 L769.1,356.1 L769.4,356.8 L769.7,357.5 L770.0,358.3 L770.2,358.9 L770.5,359.9 L770.7,360.4 L770.9,361.2 L771.1,362.0 L771.4,362.8 L771.6,363.5 L771.8,364.3 L772.0,365.1 L772.2,365.9 L772.3,366.7 L772.5,367.4 L772.7,368.2 L772.9,368.9 L773.0,369.8 L773.2,370.7 L773.4,371.4 L773.5,372.0 L773.7,372.8 L773.8,373.7 L774.0,374.5 L774.1,375.3 L774.3,376.0 L774.4,376.9 L774.5,377.8 L774.7,378.3 L774.8,379.4 L775.0,380.1 L775.1,380.7 L775.3,381.6 L775.4,382.4 L775.6,383.1 L775.7,384.0 L775.9,384.9 L776.1,385.6 L776.2,386.2 L776.4,387.2 L776.6,387.7 L776.8,388.6 L777.0,389.3 L777.2,390.3 L777.4,391.1 L777.6,391.7 L777.8,392.7 L778.0,393.2 L778.2,394.1 L778.4,394.9 L778.6,395.5 L778.8,396.4 L779.1,397.0 L779.3,398.0 L779.5,398.7 L779.7,399.5 L779.9,400.0 L780.2,401.0 L780.4,401.8 L780.6,402.5 L780.8,403.2 L781.1,404.0 L781.3,404.8 L781.5,405.6 L781.8,406.4 L782.0,407.2 L782.2,408.0 L782.5,408.4 L782.7,409.4 L783.0,410.0 L783.3,411.1 L783.5,411.6 L783.8,412.6 L784.1,413.3 L784.4,414.0 L784.7,414.8 L785.0,415.6 L785.4,416.2 L785.7,416.6 L786.0,417.6 L786.4,418.5 L786.7,418.9 L787.1,419.6 L787.5,420.5 L787.8,421.0 L788.2,422.2 L788.6,422.2 L789.0,423.3 L789.4,423.7 L789.7,424.5 L790.1,425.2 L790.5,426.2 L790.9,426.9 L791.3,427.3 L791.7,428.0 L792.1,428.7 L792.5,429.2 L792.9,430.2 L793.3,430.9 L793.7,431.4 L794.1,432.2 L794.5,433.0 L794.9,433.7 L795.3,434.1 L795.8,435.0 L796.2,435.7 L796.6,436.2 L797.0,437.1 L797.5,437.8 L797.9,438.3 L798.4,439.4 L798.8,439.6 L799.3,440.4 L799.8,441.1 L800.2,441.7 L800.7,442.2 L801.2,443.2 L801.7,443.2 L802.2,444.2 L802.7,445.0 L803.2,445.4 L803.8,446.0 L804.3,446.8 L804.9,447.2 L805.4,447.8 L806.0,448.3 L806.6,449.2 L807.2,449.5 L807.8,449.8 L808.4,450.5 L809.0,451.0 L809.6,451.4 L810.3,452.4 L810.9,452.3 L811.6,452.9 L812.3,453.2 L813.0,453.7 L813.7,453.7 L814.4,453.9 L815.1,454.5 L815.8,455.2 L816.5,455.4 L817.2,456.0 L817.9,456.4 L818.7,456.8 L819.4,456.5 L820.2,456.3 L820.9,457.0 L821.7,458.1 L822.4,457.4 L823.2,457.8 L824.0,458.4 L824.7,457.9 L825.5,459.7 L826.3,458.6 L827.0,459.5 L827.8,459.7 L828.6,460.1 L829.4,459.2 L830.1,460.8 L830.9,459.9 L831.7,461.2 L832.5,460.5 L833.3,461.4 L834.0,460.4 L834.8,460.5 L835.6,462.0 L836.4,460.4 L837.2,462.2 L838.0,461.4 L838.8,462.0 L839.5,461.5 L840.3,461.8 L841.1,461.8 L841.9,462.3 L842.7,463.0 L843.5,462.3 L844.3,462.5 L845.1,463.4 L845.9,462.4 L846.7,463.1 L847.5,462.6 L848.2,463.2 L849.0,462.8 L849.8,462.9 L850.6,462.6 L851.4,462.3 L852.2,463.1 L853.0,465.4 L853.8,465.2 L854.6,464.1 L855.4,464.7 L856.2,464.5 L857.0,464.3 L857.8,464.4 L858.6,465.1 L859.3,464.5 L860.1,464.6 L860.9,464.8 L861.7,465.2 L862.5,465.2 L863.3,463.7 L864.1,465.5 L864.9,466.1 L865.7,465.3 L866.5,465.2 L867.3,465.3 L868.1,465.9 L868.9,466.1 L869.7,465.8 L870.5,467.9 L871.3,466.5 L872.1,465.7 L872.9,465.0 L873.7,466.9 L874.5,466.1 L875.3,466.5 L876.1,466.7 L876.9,466.0 L877.6,466.2 L878.4,466.8 L879.2,467.1 L880.0,466.3 L880.8,466.4 L881.6,467.1 L882.4,466.9 L883.2,467.2 L884.0,466.6 L884.8,467.3 L885.6,467.2 L886.4,467.6 L887.2,468.1 L888.0,467.4 L888.8,466.7 L889.6,467.2 L890.4,466.6 L891.2,468.2 L892.0,467.1 L892.8,467.5 L893.6,467.8 L894.4,468.1 L895.2,467.9 L896.0,467.3 L896.8,467.6 L897.6,468.0 L898.4,467.8 L899.2,468.7 L900.0,468.0 L900.8,468.2 L901.6,468.3 L902.4,468.5 L903.2,468.0 L904.0,469.1 L904.8,468.3 L905.6,468.3 L906.4,468.1 L907.2,468.7 L908.0,468.6 L908.8,468.6 L909.6,468.5 L910.4,468.8 L911.2,467.9 L912.0,468.8 L912.8,468.5 L913.6,469.4 L914.4,468.9 L915.2,469.0 L916.0,468.9 L916.8,468.4 L917.6,469.9 L918.4,468.7 L919.2,468.8 L920.0,468.6 L920.8,468.1 L921.6,468.9 L922.4,469.0 L923.2,468.7 L924.0,468.7 L924.8,470.0 L925.6,469.1 L926.4,469.4 L927.2,469.8 L928.0,469.8 L928.8,469.6 L929.6,469.3 L930.4,470.0 L931.2,470.0 L932.0,469.9 L932.8,469.8 L933.6,469.3 L934.4,469.7 L935.2,469.2 L936.0,469.7 L936.8,469.5 L937.6,468.3 L938.4,469.3 L939.2,469.7 L940.0,469.1 L940.8,470.1 L941.6,470.5 L942.4,470.0 L943.2,469.5 L944.0,470.1 L944.8,469.4 L945.6,469.7 L946.4,470.0 L947.2,470.0 L948.0,469.8 L948.8,469.1 L949.6,470.5 L950.4,470.2 L951.2,470.2 L952.0,470.0 L952.8,470.3 L953.6,469.9 L954.4,470.6 L955.2,470.1 L956.0,470.0 L956.8,469.9 L957.6,469.6 L958.4,470.6 L959.2,469.5 L960.0,469.9 L960.8,469.6 L961.6,470.0 L962.4,470.4 L963.2,470.1 L964.0,469.7 L964.8,470.5 L965.6,470.0 L966.4,469.6 L967.2,469.6 L968.0,470.2 L968.8,470.4 L969.6,470.0 L970.4,470.4 L971.2,470.7 L972.0,469.8 L972.8,470.7 L973.6,469.8 L974.4,470.0 L975.2,469.9 L976.0,469.2 L976.8,469.8 L977.6,470.3 L978.4,470.9 L979.2,470.7 L980.0,470.7 L980.8,470.5 L981.6,470.5 L982.4,470.1 L983.2,470.0 L984.0,470.9 L984.8,469.9 L985.6,470.0 L986.4,470.2 L987.2,470.7 L988.0,470.0 L988.8,470.6 L989.6,470.2 L990.4,470.5 L991.2,470.5 L992.0,470.8 L992.8,470.8 L993.6,470.7 L994.4,470.7 L995.2,470.6 L996.0,470.6 L996.8,469.9 L997.6,470.4 L998.4,470.6 L999.2,470.5 L1000.0,470.5 L1000.8,470.4 L1001.6,470.7 L1002.4,470.9 L1003.2,469.9 L1004.0,469.8 L1004.8,471.3 L1005.6,470.5 L1006.4,471.0 L1007.2,470.0 L1008.0,469.9 L1008.8,470.7 L1009.6,470.4 L1010.4,471.0 L1011.2,470.2 L1012.0,470.4 L1012.8,470.8 L1013.6,471.4 L1014.4,470.6 L1015.2,470.9 L1016.0,470.1 L1016.8,470.7 L1017.6,471.0 L1018.4,469.9 L1019.2,471.4 L1020.0,471.2 L1020.8,470.9 L1021.6,470.1 L1022.4,471.2 L1023.2,470.8 L1024.0,470.6 L1024.8,470.6 L1025.6,470.8 L1026.4,470.6 L1027.2,470.0 L1028.0,470.4 L1028.8,471.4 L1029.6,471.5 L1030.4,470.7 L1031.2,472.1 L1032.0,470.5 L1032.8,470.7 L1033.6,470.6 L1034.4,471.0 L1035.2,470.5 L1036.0,470.6 L1036.8,470.5 L1037.6,470.0 L1038.4,470.6 L1039.2,470.6 L1040.0,470.8 L1040.8,470.3 L1041.6,469.8 L1042.4,471.3 L1043.2,470.6 L1044.0,470.8 L1044.8,470.0 L1045.6,470.9 L1046.4,471.0 L1047.2,470.0 L1048.0,471.0 L1048.8,470.8 L1049.6,471.0 L1050.4,470.9 L1051.2,470.5 L1052.0,470.8 L1052.8,470.7 L1053.6,470.8 L1054.4,469.9 L1055.2,471.2 L1056.0,470.9 L1056.8,471.1 L1057.6,471.0 L1058.4,471.2 L1059.2,470.7 L1060.0,470.8 L1060.8,471.5 L1061.6,470.5 L1062.4,470.8 L1063.2,470.7 L1064.0,470.3 L1064.8,471.4 L1065.6,470.3 L1066.4,470.8 L1067.2,470.4 L1068.0,470.6 L1068.8,470.9 L1069.6,470.2 L1070.4,470.9 L1071.2,469.7 L1072.0,470.2 L1072.8,471.0 L1073.6,471.1 L1074.4,470.6 L1075.2,470.7 L1076.0,471.0 L1076.8,471.3 L1077.6,470.8 L1078.4,470.4 L1079.2,470.8 L1080.0,470.8 L1080.8,470.5 L1081.6,470.4 L1082.4,470.6 L1083.2,470.4 L1084.0,470.8 L1084.8,470.2 L1085.6,471.5 L1086.4,470.5 L1087.2,470.9 L1088.0,470.3 L1088.8,470.1 L1089.6,469.6 L1090.4,471.1 L1091.2,471.1 L1092.0,470.4 L1092.8,470.2 L1093.6,471.4 L1094.4,470.9 L1095.2,470.9 L1096.0,469.8 L1096.8,471.1 L1097.6,471.3 L1098.4,470.9 L1099.2,470.7 L1100.0,470.9 L1100.8,471.4 L1101.6,470.5 L1102.4,471.4 L1103.2,470.9 L1104.0,471.0 L1104.8,470.5 L1105.6,470.4 L1106.4,470.5 L1107.2,470.7 L1108.0,471.3 L1108.8,471.1 L1109.6,471.3 L1110.4,470.7 L1111.2,470.8 L1112.0,470.7 L1112.8,470.8 L1113.6,470.4 L1114.4,471.0 L1115.2,471.3 L1116.0,471.2 L1116.8,470.2 L1117.6,470.6 L1118.4,470.5 L1119.2,470.6 L1120.0,470.4 L1120.8,470.9 L1121.6,470.7 L1122.4,470.6 L1123.2,470.3 L1124.0,470.3 L1124.8,470.9 L1125.6,470.0 L1126.4,470.2 L1127.2,470.5 L1128.0,470.3 L1128.8,470.3 L1129.6,471.0 L1130.4,470.4 L1131.2,470.5 L1132.0,470.9 L1132.8,470.4 L1133.6,470.7 L1134.4,469.9 L1135.2,470.0 L1136.0,470.9 L1136.8,470.6 L1137.6,470.5 L1138.4,471.1 L1139.2,469.9 L1140.0,470.5 L1140.8,470.5 L1141.6,470.6 L1142.4,470.9 L1143.2,471.1 L1144.0,471.3 L1144.8,471.0 L1145.6,470.0 L1146.4,470.8 L1147.2,470.8 L1148.0,470.2 L1148.8,471.3 L1149.6,470.5 L1150.4,470.9 L1151.2,469.7 L1152.0,469.9 L1152.8,469.5 L1153.6,471.0 L1154.4,470.2 L1155.2,470.5 L1156.0,470.9 L1156.8,470.9 L1157.6,470.2 L1158.4,470.4 L1159.2,470.1 L1160.0,470.0 L1160.8,470.4 L1161.6,470.5 L1162.4,470.8 L1163.2,470.3 L1164.0,471.5 L1164.8,471.3 L1165.6,470.1 L1166.4,470.5 L1167.2,470.4 L1168.0,470.7 L1168.8,470.0 L1169.6,470.4 L1170.4,470.4 L1171.2,471.0 L1172.0,470.8 L1172.8,470.2 L1173.6,469.8 L1174.4,470.2 L1175.2,470.7 L1176.0,471.0 L1176.8,470.1 L1177.6,470.7 L1178.4,471.0 L1179.2,470.4 L1180.0,470.9 L1180.8,470.7 L1181.6,470.1 L1182.4,470.6 L1183.2,470.5 L1184.0,471.1 L1184.8,470.7 L1185.6,470.3 L1186.4,470.6 L1187.2,471.1 L1188.0,470.4 L1188.8,470.6 L1189.6,470.8 L1190.4,470.5 L1191.2,470.3 L1192.0,470.3 L1192.8,470.8 L1193.6,470.8 L1194.4,470.3 L1195.2,470.6 L1196.0,471.0 L1196.8,470.5 L1197.6,470.2 L1198.4,471.2 L1199.2,470.3 L1200.0,471.1 L1200.8,470.4 L1201.6,470.7 L1202.4,470.2 L1203.2,470.8 L1204.0,470.1 L1204.8,470.8 L1205.6,470.0 L1206.4,471.3 L1207.2,470.4 L1208.0,470.7 L1208.8,470.9 L1209.6,469.7 L1210.4,472.0 L1211.2,470.6 L1212.0,471.0 L1212.8,469.7 L1213.6,470.2 L1214.4,470.8 L1215.2,470.8 L1216.0,470.2 L1216.8,470.5 L1217.6,470.4 L1218.4,471.3 L1219.2,470.7 L1220.0,471.1 L1220.8,470.9 L1221.6,470.8 L1222.4,470.9 L1223.2,470.7 L1224.0,469.9 L1224.8,471.2 L1225.6,471.0 L1226.4,471.0 L1227.2,470.4 L1228.0,470.5 L1228.8,470.8 L1229.6,471.2 L1230.4,470.1 L1231.2,470.5 L1232.0,471.3 L1232.8,470.9 L1233.6,470.3 L1234.4,470.3 L1235.2,470.9 L1236.0,470.2 L1236.8,470.5 L1237.6,470.7 L1238.4,470.6 L1239.2,470.3 L1240.0,471.0 L1240.8,471.5 L1241.6,470.2 L1242.4,470.6 L1243.2,470.2 L1244.0,470.8 L1244.8,470.8 L1245.6,470.9 L1246.4,471.0 L1247.2,470.3 L1248.0,470.7 L1248.8,470.6 L1249.6,470.8 L1250.4,469.7 L1251.2,470.3 L1252.0,470.6 L1252.8,470.1 L1253.6,471.1 L1254.4,470.4 L1255.2,471.2 L1256.0,471.3 L1256.8,470.5 L1257.6,471.1 L1258.4,470.7 L1259.2,470.6 L1260.0,470.0 L1260.8,471.4 L1261.6,470.8 L1262.4,470.9 L1263.2,469.7 L1264.0,471.0 L1264.8,470.0 L1265.6,471.0 L1266.4,470.4 L1267.2,469.8 L1268.0,470.2 L1268.8,470.1 L1269.6,470.4 L1270.4,471.5 L1271.2,470.2 L1272.0,469.8 L1272.8,470.2 L1273.6,470.1 L1274.4,470.0 L1275.2,470.2 L1276.0,470.6 L1276.8,470.3 L1277.6,470.9 L1278.4,471.1 L1279.2,470.1 L1280.0,470.7 L1280.8,470.2 L1281.6,471.1 L1282.4,470.4 L1283.2,470.6 L1284.0,470.4 L1284.8,470.1 L1285.6,470.1 L1286.4,470.9 L1287.2,471.0 L1288.0,470.1 L1288.8,470.2 L1289.6,470.3 L1290.4,470.6 L1291.2,470.1 L1292.0,470.8 L1292.8,470.7 L1293.6,471.4 L1294.4,470.4 L1295.2,470.1 L1296.0,470.6 L1296.8,471.1 L1297.6,470.8 L1298.4,470.0 L1299.2,470.8 L1300.0,470.3 L1300.8,470.5 L1301.6,470.9 L1302.4,470.4 L1303.2,471.0 L1304.0,470.4 L1304.8,470.7 L1305.6,470.2 L1306.4,471.2 L1307.2,470.5 L1308.0,471.0 L1308.8,470.8 L1309.6,471.1 L1310.4,469.7 L1311.2,470.6 L1312.0,471.3 L1312.8,470.2 L1313.6,470.7 L1314.4,470.9 L1315.2,470.5 L1316.0,470.8 L1316.8,470.0 L1317.6,470.5 L1318.4,470.8 L1319.2,470.8 L1320.0,470.6 L1320.8,470.0 L1321.6,470.3 L1322.4,471.6 L1323.2,470.6 L1324.0,470.4 L1324.8,470.9 L1325.6,470.8 L1326.4,470.6 L1327.2,471.0 L1328.0,471.4 L1328.8,470.7 L1329.6,470.8 L1330.4,470.6 L1331.2,471.1 L1332.0,471.0 L1332.8,469.8 L1333.6,470.7 L1334.4,470.5 L1335.2,471.1 L1336.0,470.9 L1336.8,469.8 L1337.6,470.9 L1338.4,471.0 L1339.2,471.1 L1340.0,470.3 L1340.8,470.9 L1341.6,471.7 L1342.4,471.4 L1343.2,470.9 L1344.0,471.1 L1344.8,471.0 L1345.5,470.8 L1346.3,471.2 L1347.1,470.6 L1347.9,472.0 L1348.7,470.8 L1349.5,471.2 L1350.3,471.7 L1351.1,470.9 L1351.9,471.3 L1352.7,470.5 L1353.5,471.2 L1354.3,471.2 L1355.1,471.1 L1355.9,471.9 L1356.7,471.2 L1357.5,471.8 L1358.3,470.8 L1359.1,471.5 L1359.9,471.5 L1360.7,471.1 L1361.5,471.8 L1362.3,471.1 L1363.1,472.5 L1363.9,471.3 L1364.7,471.1 L1365.5,471.9 L1366.3,470.8 L1367.1,471.3 L1367.9,471.9 L1368.7,471.1 L1369.5,471.8 L1370.3,472.2 L1371.1,471.8 L1371.9,471.5 L1372.7,472.1 L1373.5,471.8 L1374.3,472.1 L1375.1,471.7 L1375.9,471.4 L1376.7,472.5 L1377.5,472.2 L1378.3,471.6 L1379.1,472.5 L1379.9,471.9 L1380.7,471.6 L1381.5,471.7 L1382.3,472.0 L1383.1,471.3 L1383.9,471.7 L1384.7,472.0 L1385.5,472.5 L1386.3,472.1 L1387.1,472.3 L1387.9,471.9 L1388.7,471.8 L1389.5,472.4 L1390.3,471.8 L1391.1,471.4 L1391.9,472.1 L1392.7,471.4 L1393.5,472.0 L1394.3,472.3 L1395.1,471.7 L1395.9,472.2 L1396.7,472.5 L1397.5,471.7 L1398.3,472.8 L1399.1,472.0 L1399.9,471.6 L1400.7,472.4 L1401.5,472.3 L1402.3,472.3 L1403.1,472.4 L1403.9,472.6 L1404.7,473.1 L1405.5,472.2 L1406.3,471.9 L1407.1,471.9 L1407.9,471.6 L1408.7,472.8 L1409.5,472.4 L1410.3,472.3 L1411.1,472.4 L1411.9,473.3 L1412.7,472.5 L1413.5,472.6 L1414.3,472.7 L1415.1,472.1 L1415.9,472.3 L1416.7,472.7 L1417.5,473.3 L1418.3,472.3 L1419.1,472.7 L1419.9,472.2 L1420.7,472.3 L1421.5,471.9 L1422.3,472.3 L1423.1,472.8 L1423.9,473.0 L1424.7,472.4 L1425.5,472.6 L1426.3,472.6 L1427.1,473.0 L1427.9,471.9 L1428.7,472.3 L1429.5,472.7 L1430.3,473.0 L1431.1,472.5 L1431.9,472.8 L1432.7,473.4 L1433.5,473.1 L1434.3,473.3 L1435.1,473.1 L1435.9,473.6 L1436.7,472.8 L1437.5,473.0 L1438.3,473.0 L1439.1,472.6 L1439.9,473.1 L1440.7,473.1 L1441.5,473.9 L1442.3,473.1 L1443.1,473.4 L1443.9,473.1 L1444.7,472.3 L1445.5,473.1 L1446.3,473.3 L1447.1,473.2 L1447.9,473.2 L1448.7,472.5 L1449.5,473.6 L1450.3,473.6 L1451.1,472.6 L1451.9,472.8 L1452.7,474.0 L1453.5,473.9 L1454.3,473.3 L1455.1,473.6 L1455.9,473.5 L1456.7,473.1 L1457.5,473.1 L1458.3,472.6 L1459.1,473.0 L1459.9,473.6 L1460.7,472.6 L1461.5,473.0 L1462.3,473.2 L1463.1,473.6 L1463.9,473.5 L1464.7,473.8 L1465.5,473.5 L1466.3,473.9 L1467.1,473.2 L1467.9,473.4 L1468.7,473.9 L1469.5,473.1 L1470.3,473.1 L1471.1,473.5 L1471.9,473.2 L1472.7,473.7 L1473.5,472.9 L1474.3,474.4 L1475.1,473.5 L1475.9,473.7 L1476.7,473.8 L1477.5,474.2 L1478.3,473.3 L1479.1,473.2 L1479.9,472.9 L1480.7,473.8 L1481.5,472.8 L1482.3,473.6 L1483.1,473.7 L1483.9,473.5 L1484.7,473.2 L1485.5,473.9 L1486.3,473.8 L1487.1,473.5 L1487.9,473.7 L1488.7,473.7 L1489.5,473.7 L1490.3,473.7 L1491.1,473.8 L1491.9,473.8 L1492.7,473.9 L1493.5,473.2 L1494.3,473.6 L1495.1,473.9 L1495.9,473.5 L1496.7,473.5 L1497.5,473.7 L1498.3,473.9 L1499.1,473.9 L1499.9,474.4 L1500.7,473.6 L1501.5,474.0 L1502.3,473.8 L1503.1,474.1 L1503.9,474.2 L1504.7,474.0 L1505.5,473.9 L1506.3,473.8 L1507.1,474.0 L1507.9,474.3 L1508.7,473.8 L1509.5,473.4 L1510.3,474.1 L1511.1,474.2 L1511.9,474.2 L1512.7,473.3 L1513.5,473.9 L1514.3,473.4 L1515.1,474.3 L1515.9,474.7 L1516.7,474.2 L1517.5,474.1 L1518.3,473.9 L1519.1,473.7 L1519.9,474.2 L1520.7,475.0 L1521.5,473.7 L1522.3,474.7 L1523.1,474.0 L1523.9,473.7 L1524.7,474.3 L1525.5,473.9 L1526.3,474.2 L1527.1,474.0 L1527.9,473.9 L1528.7,474.2 L1529.5,474.2 L1530.3,474.2 L1531.1,474.6 L1531.9,474.2 L1532.7,473.9 L1533.5,474.9 L1534.3,474.9 L1535.1,474.8 L1535.9,474.0 L1536.7,474.1 L1537.5,475.0 L1538.3,475.0 L1539.1,474.9 L1539.9,474.5 L1540.7,474.5 L1541.5,474.0 L1542.3,474.2 L1543.1,474.3 L1543.9,475.3 L1544.7,474.7 L1545.5,474.3 L1546.3,474.1 L1547.1,474.5 L1547.9,474.0 L1548.7,474.3 L1549.5,474.7 L1550.3,474.7 L1551.1,474.4 L1551.9,475.1 L1552.7,474.7 L1553.5,474.6 L1554.3,474.7 L1555.1,474.8 L1555.9,474.6 L1556.7,475.1 L1557.5,475.0 L1558.3,474.4 L1559.1,475.0 L1559.9,475.1 L1560.7,475.2 L1561.5,474.7 L1562.3,474.2 L1563.1,475.4 L1563.9,474.7 L1564.7,474.1 L1565.5,474.1 L1566.3,475.0 L1567.1,474.3 L1567.9,473.9 L1568.7,474.6 L1569.5,474.6 L1570.3,474.9 L1571.1,475.1 L1571.9,474.6 L1572.7,474.7 L1573.5,474.4 L1574.3,475.8 L1575.1,474.6 L1575.9,475.3 L1576.7,474.4 L1577.5,474.0 L1578.3,474.7 L1579.1,474.1 L1579.9,474.2 L1580.7,474.9 L1581.5,474.6 L1582.3,475.6 L1583.1,475.2 L1583.9,476.1 L1584.7,475.1 L1585.5,474.6 L1586.3,474.8 L1587.1,475.9 L1587.9,475.6 L1588.7,475.0 L1589.5,474.8 L1590.3,474.6 L1591.1,474.8 L1591.9,475.2 L1592.7,475.0 L1593.5,475.5 L1594.3,474.6 L1595.1,474.4 L1595.9,475.0 L1596.7,475.0 L1597.5,474.7 L1598.3,474.8 L1599.1,475.2 L1599.9,475.0 L1600.7,475.1 L1601.5,475.2 L1602.3,475.3 L1603.1,475.4 L1603.9,474.9 L1604.7,475.4 L1605.5,475.5 L1606.3,475.0 L1607.1,475.6 L1607.9,475.1 L1608.7,474.7 L1609.5,476.2 L1610.3,475.4 L1611.1,475.4 L1611.9,475.9 L1612.7,476.1 L1613.5,475.2 L1614.3,475.7 L1615.1,475.8 L1615.9,474.4 L1616.7,475.3 L1617.5,475.0 L1618.3,475.1 L1619.1,475.2 L1619.9,475.7 L1620.7,475.5 L1621.5,475.4 L1622.3,475.5 L1623.1,475.1 L1623.9,475.5 L1624.7,474.8 L1625.5,475.1 L1626.3,475.7 L1627.1,475.5 L1627.9,476.3 L1628.7,475.6 L1629.5,476.3 L1630.3,475.0 L1631.1,475.6 L1631.9,475.6 L1632.7,475.3 L1633.5,475.7 L1634.3,475.4 L1635.1,476.2 L1635.9,476.2 L1636.7,475.4 L1637.5,475.9 L1638.3,476.0 L1639.1,475.3 L1639.9,474.6 L1640.7,475.6 L1641.5,476.4 L1642.3,475.8 L1643.1,474.8 L1643.9,475.4 L1644.7,476.1 L1645.5,475.5 L1646.3,476.0 L1647.1,476.4 L1647.9,475.0 L1648.7,475.5 L1649.5,476.3 L1650.3,476.2 L1651.1,475.7 L1651.9,475.9 L1652.7,476.3 L1653.5,476.4 L1654.3,476.1 L1655.1,475.8 L1655.9,475.2 L1656.7,476.1 L1657.5,476.1 L1658.3,475.0 L1659.1,476.1 L1659.9,475.8 L1660.7,475.8 L1661.5,475.1 L1662.3,476.8 L1663.1,475.9 L1663.9,476.2 L1664.7,475.3 L1665.5,475.6 L1666.3,475.8 L1667.1,476.2 L1667.9,476.2 L1668.7,476.0 L1669.5,475.7 L1670.3,475.6 L1671.1,476.1 L1671.9,476.8 L1672.7,475.8 L1673.5,475.7 L1674.3,476.4 L1675.1,476.2 L1675.9,476.0 L1676.7,476.0 L1677.5,476.8 L1678.3,476.0 L1679.1,476.4 L1679.9,475.7 L1680.7,476.0 L1681.5,476.5 L1682.3,476.0 L1683.1,475.8 L1683.9,476.7 L1684.7,476.2 L1685.5,476.6 L1686.3,476.5 L1687.1,475.6 L1687.9,476.0 L1688.7,476.3 L1689.5,476.0 L1690.3,477.1 L1691.1,476.1 L1691.9,476.3 L1692.7,476.4 L1693.5,476.2 L1694.3,476.8 L1695.1,476.9 L1695.9,476.3 L1696.7,475.8 L1697.5,477.2 L1698.3,476.0 L1699.1,476.2 L1699.9,475.8 L1700.7,475.8 L1701.5,476.1 L1702.3,476.8 L1703.1,476.4 L1703.9,476.3 L1704.7,476.2 L1705.5,476.6 L1706.3,476.9 L1707.1,476.8 L1707.9,476.1 L1708.7,476.2 L1709.5,476.6 L1710.3,476.5 L1711.1,476.6 L1711.9,477.0 L1712.7,476.0 L1713.5,476.3 L1714.3,476.7 L1715.1,476.2 L1715.9,476.3 L1716.7,476.6 L1717.5,476.6 L1718.3,477.3 L1719.1,476.8 L1719.9,476.2 L1720.7,478.0 L1721.5,476.7 L1722.3,477.0 L1723.1,476.2 L1723.9,477.3 L1724.7,477.2 L1725.5,477.2 L1726.3,476.5 L1727.1,477.5 L1727.9,476.6 L1728.7,476.9 L1729.5,476.7 L1730.3,476.7 L1731.1,476.9 L1731.9,476.7 L1732.7,475.7 L1733.5,476.8 L1734.3,476.3 L1735.1,476.4 L1735.9,476.8 L1736.7,476.7 L1737.5,476.7 L1738.3,476.9 L1739.1,476.6 L1739.9,476.6 L1740.7,476.5 L1741.5,476.5 L1742.3,476.7 L1743.1,477.0 L1743.9,477.0 L1744.7,477.0 L1745.5,476.5 L1746.3,477.3 L1747.1,476.7 L1747.9,477.1 L1748.7,476.4 L1749.5,477.3 L1750.3,477.3 L1751.1,477.2 L1751.9,476.7 L1752.7,476.8 L1753.5,477.2 L1754.3,476.6 L1755.1,476.7 L1755.9,477.4 L1756.7,476.7 L1757.5,477.2 L1758.3,477.3 L1759.1,477.3 L1759.9,476.9 L1760.7,477.2 L1761.5,477.1 L1762.3,477.3 L1763.1,476.5 L1763.9,476.8 L1764.7,476.9 L1765.5,476.6 L1766.3,477.9 L1767.1,477.4 L1767.9,476.5 L1768.7,476.6 L1769.5,477.2 L1770.3,477.1 L1771.1,477.1 L1771.9,476.3 L1772.7,477.7 L1773.5,476.7 L1774.3,477.3 L1775.1,477.9 L1775.9,477.2 L1776.7,477.2 L1777.5,476.9 L1778.3,477.5 L1779.1,476.4 L1779.9,477.0 L1780.7,477.4 L1781.5,477.2 L1782.3,477.2 L1783.1,478.1 L1783.9,476.4 L1784.7,477.9 L1785.5,478.0 L1786.3,477.0 L1787.1,477.6 L1787.9,477.2 L1788.7,476.6 L1789.5,477.5 L1790.3,477.0 L1791.1,477.3 L1791.9,476.8 L1792.7,477.2 L1793.5,477.7 L1794.3,477.1 L1795.1,476.9 L1795.9,477.2 L1796.7,478.2 L1797.5,477.3 L1798.3,477.7 L1799.1,477.0 L1799.9,477.5 L1800.7,477.7 L1801.5,477.1 L1802.3,477.2 L1803.1,477.5 L1803.9,476.2 L1804.7,477.8 L1805.5,477.4 L1806.3,477.5 L1807.1,477.6 L1807.9,477.7 L1808.7,477.3 L1809.5,476.6 L1810.3,477.5 L1811.1,477.6 L1811.9,477.5 L1812.7,478.4 L1813.5,477.8 L1814.3,477.2 L1815.1,477.3 L1815.9,477.5 L1816.7,477.5 L1817.5,477.5" stroke="#ff8000" stroke-width="9.2"/>
</g>
<g fill="none">
<line x1="279.55" y1="350.9" x2="279.55" y2="1149" stroke="#000" stroke-width="5.3" stroke-dasharray="36.6 15.2 8.8 15.71"/>
<line x1="763.5" y1="299.05" x2="763.5" y2="972.5" stroke="#000" stroke-opacity="0.45" stroke-width="8.6" stroke-dasharray="37.8 14.3 10 14.25"/>
<line x1="763.5" y1="299.05" x2="763.5" y2="972.5" stroke="#000" stroke-width="3.1" stroke-dasharray="37.8 14.3 10 14.25"/>
</g>
<path fill="#ff8000" d="M211.3,108.1h54.7v5.3h-2.9v2.6h-48.9v-2.6h-2.9z"/>
<rect x="214.2" y="104.9" width="48.9" height="3.3" fill="#ff8000" fill-opacity="0.42"/>
<text class="lg" y="129.8"><tspan x="291.5" dx="0 2.65">Ni</tspan><tspan class="sub" x="352.5" dy="16.2">PRDM</tspan></text>
<path fill="#008000" d="M492.1,108.1h54.7v5.3h-2.9v2.6h-48.9v-2.6h-2.9z"/>
<rect x="495.0" y="104.9" width="48.9" height="3.3" fill="#008000" fill-opacity="0.42"/>
<text class="lg" y="129.8"><tspan x="575.4" dx="0 0.15">Ni</tspan><tspan class="sub" x="632.6" dy="16.2">IWI</tspan></text>
<path fill="#0000ff" d="M726.9,108.1h54.7v5.3h-2.9v2.6h-48.9v-2.6h-2.9z"/>
<rect x="729.8" y="104.9" width="48.9" height="3.3" fill="#0000ff" fill-opacity="0.42"/>
<text class="lg" y="129.8"><tspan x="807.3" dx="0 -0.25">Ni</tspan><tspan class="sub" x="866.8" dy="16.2">CM</tspan></text>
<path fill="#ff0000" d="M955.6,108.1h54.7v5.3h-2.9v2.6h-48.9v-2.6h-2.9z"/>
<rect x="958.5" y="104.9" width="48.9" height="3.3" fill="#ff0000" fill-opacity="0.42"/>
<text class="lg" x="1035.6" y="129.8" style="letter-spacing:0.9px">ex-g-CN</text>
<path fill="#000000" d="M1272.1,108.1h54.7v5.3h-2.9v2.6h-48.9v-2.6h-2.9z"/>
<rect x="1275.0" y="104.9" width="48.9" height="3.3" fill="#000000" fill-opacity="0.42"/>
<text class="lg" x="1351.7" y="129.8" style="letter-spacing:0.9px">g-CN</text>
<text class="ann" x="298.6" y="386.2">(100)</text>
<text class="ann" x="837.1" y="408.7">(002)</text>
<text class="ttl" transform="translate(763.2,1428.3) scale(1.0204,1)" x="0" y="0">2θ(degree)</text>
<text class="ttl" transform="translate(96.7,973.3) rotate(-90)" x="0" y="0" style="letter-spacing:0.7px">Intensity (a.u.)</text>
</svg>
</body></html>
